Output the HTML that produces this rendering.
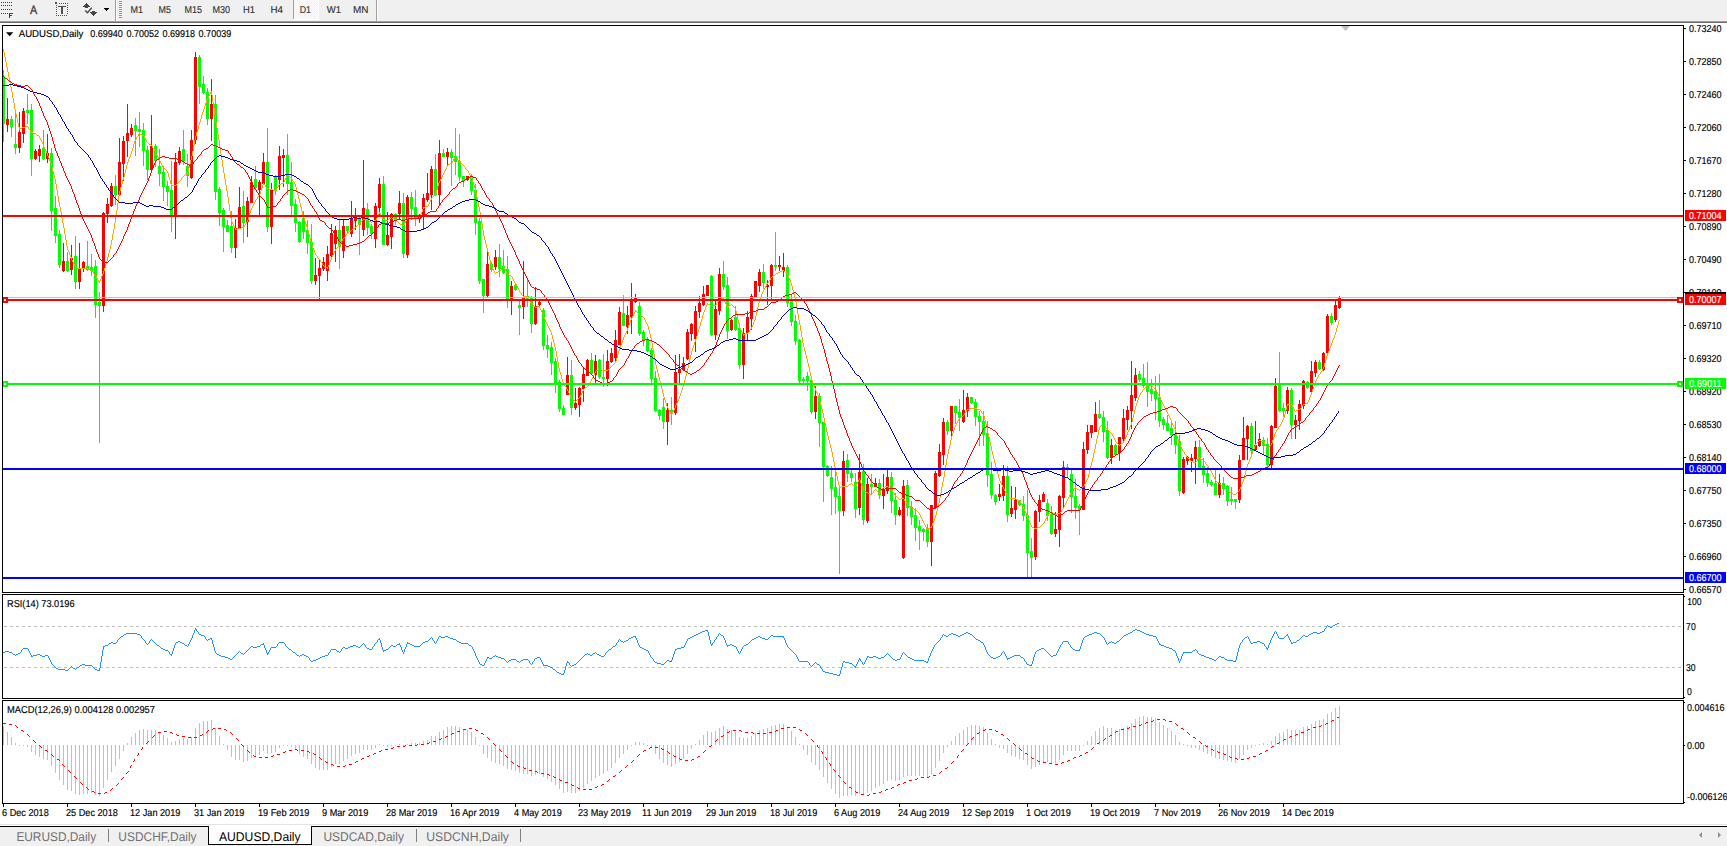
<!DOCTYPE html>
<html><head><meta charset="utf-8"><title>AUDUSD,Daily</title>
<style>html,body{margin:0;padding:0;background:#fff;overflow:hidden}svg{display:block}</style>
</head><body>
<svg width="1727" height="846" viewBox="0 0 1727 846" font-family="'Liberation Sans', Arial, sans-serif" shape-rendering="crispEdges" text-rendering="geometricPrecision">
<rect x="0" y="0" width="1727" height="846" fill="#ffffff"/>
<rect x="0" y="0" width="1727" height="21" fill="#f0f0f0"/>
<rect x="0" y="21" width="1727" height="1" fill="#a0a0a0"/>
<rect x="0" y="22" width="1727" height="1" fill="#696969"/>
<rect x="1" y="2" width="1" height="1" fill="#404040"/>
<rect x="3" y="2" width="1" height="1" fill="#404040"/>
<rect x="5" y="2" width="1" height="1" fill="#404040"/>
<rect x="7" y="2" width="1" height="1" fill="#404040"/>
<rect x="9" y="2" width="1" height="1" fill="#404040"/>
<rect x="11" y="2" width="1" height="1" fill="#404040"/>
<rect x="1" y="5" width="1" height="1" fill="#404040"/>
<rect x="3" y="5" width="1" height="1" fill="#404040"/>
<rect x="5" y="5" width="1" height="1" fill="#404040"/>
<rect x="7" y="5" width="1" height="1" fill="#404040"/>
<rect x="9" y="5" width="1" height="1" fill="#404040"/>
<rect x="11" y="5" width="1" height="1" fill="#404040"/>
<rect x="1" y="9" width="1" height="1" fill="#404040"/>
<rect x="3" y="9" width="1" height="1" fill="#404040"/>
<rect x="5" y="9" width="1" height="1" fill="#404040"/>
<rect x="7" y="9" width="1" height="1" fill="#404040"/>
<rect x="9" y="9" width="1" height="1" fill="#404040"/>
<rect x="11" y="9" width="1" height="1" fill="#404040"/>
<rect x="1" y="13" width="1" height="1" fill="#404040"/>
<rect x="3" y="13" width="1" height="1" fill="#404040"/>
<rect x="5" y="13" width="1" height="1" fill="#404040"/>
<rect x="7" y="13" width="1" height="1" fill="#404040"/>
<rect x="9" y="13" width="4" height="1" fill="#404040"/>
<rect x="9" y="13" width="1" height="5" fill="#404040"/>
<rect x="9" y="15" width="3" height="1" fill="#404040"/>
<text x="29.9" y="14" font-size="12" fill="#404040" textLength="7.2" lengthAdjust="spacingAndGlyphs" stroke="#404040" stroke-width="0.35">A</text>
<rect x="55" y="2" width="2" height="2" fill="#505050"/>
<rect x="59" y="3" width="1" height="1" fill="#505050"/>
<rect x="61" y="3" width="1" height="1" fill="#505050"/>
<rect x="63" y="3" width="1" height="1" fill="#505050"/>
<rect x="65" y="3" width="1" height="1" fill="#505050"/>
<rect x="67" y="3" width="1" height="1" fill="#505050"/>
<rect x="56" y="5" width="1" height="1" fill="#505050"/>
<rect x="67" y="5" width="1" height="1" fill="#505050"/>
<rect x="56" y="7" width="1" height="1" fill="#505050"/>
<rect x="67" y="7" width="1" height="1" fill="#505050"/>
<rect x="56" y="9" width="1" height="1" fill="#505050"/>
<rect x="67" y="9" width="1" height="1" fill="#505050"/>
<rect x="56" y="11" width="1" height="1" fill="#505050"/>
<rect x="67" y="11" width="1" height="1" fill="#505050"/>
<rect x="56" y="13" width="1" height="1" fill="#505050"/>
<rect x="67" y="13" width="1" height="1" fill="#505050"/>
<rect x="56" y="15" width="1" height="1" fill="#505050"/>
<rect x="58" y="15" width="1" height="1" fill="#505050"/>
<rect x="60" y="15" width="1" height="1" fill="#505050"/>
<rect x="62" y="15" width="1" height="1" fill="#505050"/>
<rect x="64" y="15" width="1" height="1" fill="#505050"/>
<rect x="66" y="15" width="1" height="1" fill="#505050"/>
<rect x="58" y="6" width="8" height="1" fill="#505050"/>
<rect x="61" y="6" width="2" height="8" fill="#505050"/>
<rect x="86" y="3" width="1" height="1" fill="#454545"/>
<rect x="85" y="4" width="3" height="1" fill="#454545"/>
<rect x="84" y="5" width="5" height="1" fill="#454545"/>
<rect x="83" y="6" width="7" height="1" fill="#454545"/>
<rect x="85" y="7" width="3" height="1" fill="#454545"/>
<rect x="92" y="11" width="3" height="1" fill="#454545"/>
<rect x="90" y="12" width="7" height="1" fill="#454545"/>
<rect x="91" y="13" width="5" height="1" fill="#454545"/>
<rect x="92" y="14" width="3" height="1" fill="#454545"/>
<rect x="93" y="15" width="1" height="1" fill="#454545"/>
<polyline points="85.2,10.6 87.5,12.8 91.8,7.6" fill="none" stroke="#454545" stroke-width="1.4" shape-rendering="auto"/>
<rect x="104" y="8" width="5" height="1" fill="#000"/>
<rect x="105" y="9" width="3" height="1" fill="#000"/>
<rect x="106" y="10" width="1" height="1" fill="#000"/>
<rect x="115" y="0" width="1" height="21" fill="#a0a0a0"/>
<rect x="116" y="0" width="1" height="21" fill="#ffffff"/>
<rect x="119" y="0" width="3" height="1" fill="#fafafa"/>
<rect x="119" y="1" width="3" height="1" fill="#8c8c8c"/>
<rect x="119" y="2" width="3" height="1" fill="#fafafa"/>
<rect x="119" y="3" width="3" height="1" fill="#8c8c8c"/>
<rect x="119" y="4" width="3" height="1" fill="#fafafa"/>
<rect x="119" y="5" width="3" height="1" fill="#8c8c8c"/>
<rect x="119" y="6" width="3" height="1" fill="#fafafa"/>
<rect x="119" y="7" width="3" height="1" fill="#8c8c8c"/>
<rect x="119" y="8" width="3" height="1" fill="#fafafa"/>
<rect x="119" y="9" width="3" height="1" fill="#8c8c8c"/>
<rect x="119" y="10" width="3" height="1" fill="#fafafa"/>
<rect x="119" y="11" width="3" height="1" fill="#8c8c8c"/>
<rect x="119" y="12" width="3" height="1" fill="#fafafa"/>
<rect x="119" y="13" width="3" height="1" fill="#8c8c8c"/>
<rect x="119" y="14" width="3" height="1" fill="#fafafa"/>
<rect x="119" y="15" width="3" height="1" fill="#8c8c8c"/>
<rect x="119" y="16" width="3" height="1" fill="#fafafa"/>
<rect x="119" y="17" width="3" height="1" fill="#8c8c8c"/>
<rect x="376" y="0" width="1" height="21" fill="#a0a0a0"/>
<rect x="377" y="0" width="1" height="21" fill="#ffffff"/>
<defs><pattern id="dith" width="2" height="2" patternUnits="userSpaceOnUse"><rect width="2" height="2" fill="#f0f0f0"/><rect width="1" height="1" fill="#fff"/><rect x="1" y="1" width="1" height="1" fill="#fff"/></pattern></defs>
<rect x="293" y="0" width="1" height="19" fill="#a0a0a0"/>
<rect x="294" y="0" width="24" height="19" fill="url(#dith)"/>
<rect x="318" y="0" width="1" height="20" fill="#ffffff"/>
<rect x="293" y="19" width="26" height="1" fill="#ffffff"/>
<text x="130.5" y="13" font-size="10" fill="#333333" textLength="12.5" lengthAdjust="spacingAndGlyphs" stroke="#333333" stroke-width="0.15">M1</text>
<text x="158.6" y="13" font-size="10" fill="#333333" textLength="12.4" lengthAdjust="spacingAndGlyphs" stroke="#333333" stroke-width="0.15">M5</text>
<text x="184.5" y="13" font-size="10" fill="#333333" textLength="17.5" lengthAdjust="spacingAndGlyphs" stroke="#333333" stroke-width="0.15">M15</text>
<text x="212.4" y="13" font-size="10" fill="#333333" textLength="17.6" lengthAdjust="spacingAndGlyphs" stroke="#333333" stroke-width="0.15">M30</text>
<text x="243" y="13" font-size="10" fill="#333333" textLength="12" lengthAdjust="spacingAndGlyphs" stroke="#333333" stroke-width="0.15">H1</text>
<text x="270.5" y="13" font-size="10" fill="#333333" textLength="12.5" lengthAdjust="spacingAndGlyphs" stroke="#333333" stroke-width="0.15">H4</text>
<text x="299.8" y="13" font-size="10" fill="#333333" textLength="11.2" lengthAdjust="spacingAndGlyphs" stroke="#333333" stroke-width="0.15">D1</text>
<text x="326.8" y="13" font-size="10" fill="#333333" textLength="14.2" lengthAdjust="spacingAndGlyphs" stroke="#333333" stroke-width="0.15">W1</text>
<text x="353" y="13" font-size="10" fill="#333333" textLength="15.5" lengthAdjust="spacingAndGlyphs" stroke="#333333" stroke-width="0.15">MN</text>
<defs><clipPath id="cm"><rect x="3" y="26" width="1680" height="566"/></clipPath><clipPath id="cr"><rect x="3" y="595" width="1680" height="103"/></clipPath><clipPath id="cd"><rect x="3" y="701" width="1680" height="102"/></clipPath></defs>
<g clip-path="url(#cm)">
<rect x="3" y="70" width="1" height="72" fill="#00ff00"/>
<rect x="2" y="76" width="3" height="48" fill="#00ff00"/>
<rect x="7" y="98" width="1" height="34" fill="#ff0000"/>
<rect x="6" y="119" width="3" height="6" fill="#ff0000"/>
<rect x="11" y="116" width="1" height="21" fill="#00ff00"/>
<rect x="10" y="119" width="3" height="8" fill="#00ff00"/>
<rect x="15" y="111" width="1" height="43" fill="#00ff00"/>
<rect x="14" y="144" width="3" height="4" fill="#00ff00"/>
<rect x="19" y="112" width="1" height="41" fill="#ff0000"/>
<rect x="18" y="132" width="3" height="16" fill="#ff0000"/>
<rect x="23" y="108" width="1" height="35" fill="#ff0000"/>
<rect x="22" y="111" width="3" height="23" fill="#ff0000"/>
<rect x="27" y="94" width="1" height="30" fill="#00ff00"/>
<rect x="26" y="110" width="3" height="3" fill="#00ff00"/>
<rect x="31" y="104" width="1" height="72" fill="#00ff00"/>
<rect x="30" y="110" width="3" height="49" fill="#00ff00"/>
<rect x="35" y="149" width="1" height="11" fill="#ff0000"/>
<rect x="34" y="151" width="3" height="8" fill="#ff0000"/>
<rect x="39" y="145" width="1" height="17" fill="#ff0000"/>
<rect x="38" y="149" width="3" height="7" fill="#ff0000"/>
<rect x="43" y="130" width="1" height="30" fill="#00ff00"/>
<rect x="42" y="148" width="3" height="11" fill="#00ff00"/>
<rect x="47" y="134" width="1" height="29" fill="#ff0000"/>
<rect x="46" y="153" width="3" height="6" fill="#ff0000"/>
<rect x="51" y="148" width="1" height="83" fill="#00ff00"/>
<rect x="50" y="153" width="3" height="58" fill="#00ff00"/>
<rect x="55" y="196" width="1" height="47" fill="#00ff00"/>
<rect x="54" y="208" width="3" height="28" fill="#00ff00"/>
<rect x="59" y="230" width="1" height="38" fill="#00ff00"/>
<rect x="58" y="234" width="3" height="31" fill="#00ff00"/>
<rect x="63" y="243" width="1" height="29" fill="#ff0000"/>
<rect x="62" y="261" width="3" height="10" fill="#ff0000"/>
<rect x="67" y="252" width="1" height="20" fill="#00ff00"/>
<rect x="66" y="261" width="3" height="10" fill="#00ff00"/>
<rect x="71" y="245" width="1" height="30" fill="#ff0000"/>
<rect x="70" y="258" width="3" height="12" fill="#ff0000"/>
<rect x="75" y="236" width="1" height="53" fill="#00ff00"/>
<rect x="74" y="256" width="3" height="26" fill="#00ff00"/>
<rect x="79" y="243" width="1" height="46" fill="#ff0000"/>
<rect x="78" y="269" width="3" height="13" fill="#ff0000"/>
<rect x="83" y="261" width="1" height="11" fill="#ff0000"/>
<rect x="82" y="262" width="3" height="7" fill="#ff0000"/>
<rect x="87" y="241" width="1" height="30" fill="#00ff00"/>
<rect x="86" y="266" width="3" height="4" fill="#00ff00"/>
<rect x="91" y="254" width="1" height="22" fill="#00ff00"/>
<rect x="90" y="267" width="3" height="4" fill="#00ff00"/>
<rect x="95" y="260" width="1" height="58" fill="#00ff00"/>
<rect x="94" y="266" width="3" height="39" fill="#00ff00"/>
<rect x="99" y="292" width="1" height="151" fill="#00ff00"/>
<rect x="98" y="302" width="3" height="4" fill="#00ff00"/>
<rect x="103" y="212" width="1" height="100" fill="#ff0000"/>
<rect x="102" y="213" width="3" height="93" fill="#ff0000"/>
<rect x="107" y="198" width="1" height="25" fill="#ff0000"/>
<rect x="106" y="204" width="3" height="10" fill="#ff0000"/>
<rect x="111" y="183" width="1" height="24" fill="#ff0000"/>
<rect x="110" y="186" width="3" height="20" fill="#ff0000"/>
<rect x="115" y="175" width="1" height="30" fill="#00ff00"/>
<rect x="114" y="186" width="3" height="9" fill="#00ff00"/>
<rect x="119" y="138" width="1" height="57" fill="#ff0000"/>
<rect x="118" y="162" width="3" height="33" fill="#ff0000"/>
<rect x="123" y="136" width="1" height="45" fill="#ff0000"/>
<rect x="122" y="141" width="3" height="23" fill="#ff0000"/>
<rect x="127" y="104" width="1" height="53" fill="#ff0000"/>
<rect x="126" y="133" width="3" height="8" fill="#ff0000"/>
<rect x="131" y="124" width="1" height="13" fill="#ff0000"/>
<rect x="130" y="128" width="3" height="7" fill="#ff0000"/>
<rect x="135" y="118" width="1" height="38" fill="#00ff00"/>
<rect x="134" y="125" width="3" height="6" fill="#00ff00"/>
<rect x="139" y="112" width="1" height="35" fill="#00ff00"/>
<rect x="138" y="129" width="3" height="3" fill="#00ff00"/>
<rect x="143" y="123" width="1" height="43" fill="#00ff00"/>
<rect x="142" y="130" width="3" height="21" fill="#00ff00"/>
<rect x="147" y="146" width="1" height="34" fill="#00ff00"/>
<rect x="146" y="150" width="3" height="20" fill="#00ff00"/>
<rect x="151" y="115" width="1" height="55" fill="#ff0000"/>
<rect x="150" y="146" width="3" height="24" fill="#ff0000"/>
<rect x="155" y="144" width="1" height="23" fill="#00ff00"/>
<rect x="154" y="146" width="3" height="15" fill="#00ff00"/>
<rect x="159" y="149" width="1" height="37" fill="#00ff00"/>
<rect x="158" y="166" width="3" height="8" fill="#00ff00"/>
<rect x="163" y="166" width="1" height="35" fill="#00ff00"/>
<rect x="162" y="172" width="3" height="15" fill="#00ff00"/>
<rect x="167" y="181" width="1" height="25" fill="#00ff00"/>
<rect x="166" y="186" width="3" height="6" fill="#00ff00"/>
<rect x="171" y="161" width="1" height="71" fill="#00ff00"/>
<rect x="170" y="190" width="3" height="26" fill="#00ff00"/>
<rect x="175" y="153" width="1" height="86" fill="#ff0000"/>
<rect x="174" y="162" width="3" height="54" fill="#ff0000"/>
<rect x="179" y="147" width="1" height="18" fill="#ff0000"/>
<rect x="178" y="151" width="3" height="12" fill="#ff0000"/>
<rect x="183" y="130" width="1" height="35" fill="#00ff00"/>
<rect x="182" y="149" width="3" height="12" fill="#00ff00"/>
<rect x="187" y="154" width="1" height="33" fill="#00ff00"/>
<rect x="186" y="166" width="3" height="10" fill="#00ff00"/>
<rect x="191" y="130" width="1" height="49" fill="#ff0000"/>
<rect x="190" y="140" width="3" height="38" fill="#ff0000"/>
<rect x="195" y="52" width="1" height="92" fill="#ff0000"/>
<rect x="194" y="57" width="3" height="83" fill="#ff0000"/>
<rect x="199" y="55" width="1" height="49" fill="#00ff00"/>
<rect x="198" y="57" width="3" height="30" fill="#00ff00"/>
<rect x="203" y="76" width="1" height="18" fill="#00ff00"/>
<rect x="202" y="84" width="3" height="9" fill="#00ff00"/>
<rect x="207" y="88" width="1" height="37" fill="#00ff00"/>
<rect x="206" y="92" width="3" height="27" fill="#00ff00"/>
<rect x="211" y="79" width="1" height="62" fill="#ff0000"/>
<rect x="210" y="104" width="3" height="15" fill="#ff0000"/>
<rect x="215" y="95" width="1" height="105" fill="#00ff00"/>
<rect x="214" y="104" width="3" height="88" fill="#00ff00"/>
<rect x="219" y="187" width="1" height="39" fill="#00ff00"/>
<rect x="218" y="189" width="3" height="24" fill="#00ff00"/>
<rect x="223" y="208" width="1" height="44" fill="#00ff00"/>
<rect x="222" y="210" width="3" height="17" fill="#00ff00"/>
<rect x="227" y="220" width="1" height="12" fill="#00ff00"/>
<rect x="226" y="225" width="3" height="7" fill="#00ff00"/>
<rect x="231" y="211" width="1" height="42" fill="#00ff00"/>
<rect x="230" y="226" width="3" height="22" fill="#00ff00"/>
<rect x="235" y="219" width="1" height="39" fill="#ff0000"/>
<rect x="234" y="228" width="3" height="20" fill="#ff0000"/>
<rect x="239" y="187" width="1" height="42" fill="#ff0000"/>
<rect x="238" y="207" width="3" height="21" fill="#ff0000"/>
<rect x="243" y="191" width="1" height="52" fill="#00ff00"/>
<rect x="242" y="206" width="3" height="17" fill="#00ff00"/>
<rect x="247" y="197" width="1" height="40" fill="#ff0000"/>
<rect x="246" y="201" width="3" height="21" fill="#ff0000"/>
<rect x="251" y="176" width="1" height="27" fill="#ff0000"/>
<rect x="250" y="182" width="3" height="21" fill="#ff0000"/>
<rect x="255" y="166" width="1" height="23" fill="#00ff00"/>
<rect x="254" y="179" width="3" height="9" fill="#00ff00"/>
<rect x="259" y="180" width="1" height="37" fill="#ff0000"/>
<rect x="258" y="182" width="3" height="8" fill="#ff0000"/>
<rect x="263" y="153" width="1" height="31" fill="#ff0000"/>
<rect x="262" y="162" width="3" height="22" fill="#ff0000"/>
<rect x="267" y="128" width="1" height="104" fill="#00ff00"/>
<rect x="266" y="162" width="3" height="65" fill="#00ff00"/>
<rect x="271" y="183" width="1" height="61" fill="#ff0000"/>
<rect x="270" y="189" width="3" height="38" fill="#ff0000"/>
<rect x="275" y="175" width="1" height="20" fill="#00ff00"/>
<rect x="274" y="176" width="3" height="15" fill="#00ff00"/>
<rect x="279" y="146" width="1" height="44" fill="#ff0000"/>
<rect x="278" y="156" width="3" height="24" fill="#ff0000"/>
<rect x="283" y="149" width="1" height="38" fill="#ff0000"/>
<rect x="282" y="155" width="3" height="3" fill="#ff0000"/>
<rect x="287" y="134" width="1" height="61" fill="#00ff00"/>
<rect x="286" y="155" width="3" height="29" fill="#00ff00"/>
<rect x="291" y="162" width="1" height="53" fill="#00ff00"/>
<rect x="290" y="182" width="3" height="24" fill="#00ff00"/>
<rect x="295" y="199" width="1" height="33" fill="#00ff00"/>
<rect x="294" y="204" width="3" height="19" fill="#00ff00"/>
<rect x="299" y="221" width="1" height="22" fill="#00ff00"/>
<rect x="298" y="222" width="3" height="20" fill="#00ff00"/>
<rect x="303" y="211" width="1" height="28" fill="#00ff00"/>
<rect x="302" y="218" width="3" height="14" fill="#00ff00"/>
<rect x="307" y="220" width="1" height="34" fill="#00ff00"/>
<rect x="306" y="230" width="3" height="13" fill="#00ff00"/>
<rect x="311" y="224" width="1" height="60" fill="#00ff00"/>
<rect x="310" y="242" width="3" height="39" fill="#00ff00"/>
<rect x="315" y="258" width="1" height="27" fill="#ff0000"/>
<rect x="314" y="275" width="3" height="6" fill="#ff0000"/>
<rect x="319" y="260" width="1" height="41" fill="#ff0000"/>
<rect x="318" y="268" width="3" height="8" fill="#ff0000"/>
<rect x="323" y="257" width="1" height="14" fill="#ff0000"/>
<rect x="322" y="262" width="3" height="7" fill="#ff0000"/>
<rect x="327" y="246" width="1" height="35" fill="#ff0000"/>
<rect x="326" y="254" width="3" height="17" fill="#ff0000"/>
<rect x="331" y="224" width="1" height="34" fill="#ff0000"/>
<rect x="330" y="233" width="3" height="23" fill="#ff0000"/>
<rect x="335" y="226" width="1" height="36" fill="#ff0000"/>
<rect x="334" y="230" width="3" height="14" fill="#ff0000"/>
<rect x="339" y="219" width="1" height="50" fill="#00ff00"/>
<rect x="338" y="230" width="3" height="17" fill="#00ff00"/>
<rect x="343" y="220" width="1" height="38" fill="#ff0000"/>
<rect x="342" y="226" width="3" height="25" fill="#ff0000"/>
<rect x="347" y="226" width="1" height="8" fill="#00ff00"/>
<rect x="346" y="226" width="3" height="5" fill="#00ff00"/>
<rect x="351" y="201" width="1" height="36" fill="#ff0000"/>
<rect x="350" y="219" width="3" height="15" fill="#ff0000"/>
<rect x="355" y="208" width="1" height="22" fill="#ff0000"/>
<rect x="354" y="216" width="3" height="5" fill="#ff0000"/>
<rect x="359" y="215" width="1" height="40" fill="#00ff00"/>
<rect x="358" y="218" width="3" height="7" fill="#00ff00"/>
<rect x="363" y="160" width="1" height="76" fill="#ff0000"/>
<rect x="362" y="208" width="3" height="22" fill="#ff0000"/>
<rect x="367" y="203" width="1" height="32" fill="#00ff00"/>
<rect x="366" y="209" width="3" height="19" fill="#00ff00"/>
<rect x="371" y="224" width="1" height="15" fill="#00ff00"/>
<rect x="370" y="226" width="3" height="8" fill="#00ff00"/>
<rect x="375" y="203" width="1" height="45" fill="#ff0000"/>
<rect x="374" y="206" width="3" height="33" fill="#ff0000"/>
<rect x="379" y="178" width="1" height="38" fill="#ff0000"/>
<rect x="378" y="184" width="3" height="24" fill="#ff0000"/>
<rect x="383" y="176" width="1" height="69" fill="#00ff00"/>
<rect x="382" y="184" width="3" height="61" fill="#00ff00"/>
<rect x="387" y="212" width="1" height="34" fill="#ff0000"/>
<rect x="386" y="235" width="3" height="10" fill="#ff0000"/>
<rect x="391" y="213" width="1" height="36" fill="#ff0000"/>
<rect x="390" y="214" width="3" height="23" fill="#ff0000"/>
<rect x="395" y="213" width="1" height="12" fill="#00ff00"/>
<rect x="394" y="214" width="3" height="6" fill="#00ff00"/>
<rect x="399" y="191" width="1" height="29" fill="#ff0000"/>
<rect x="398" y="203" width="3" height="11" fill="#ff0000"/>
<rect x="403" y="193" width="1" height="65" fill="#00ff00"/>
<rect x="402" y="203" width="3" height="51" fill="#00ff00"/>
<rect x="407" y="195" width="1" height="63" fill="#ff0000"/>
<rect x="406" y="197" width="3" height="58" fill="#ff0000"/>
<rect x="411" y="192" width="1" height="28" fill="#00ff00"/>
<rect x="410" y="197" width="3" height="12" fill="#00ff00"/>
<rect x="415" y="190" width="1" height="36" fill="#00ff00"/>
<rect x="414" y="207" width="3" height="12" fill="#00ff00"/>
<rect x="419" y="214" width="1" height="9" fill="#ff0000"/>
<rect x="418" y="215" width="3" height="4" fill="#ff0000"/>
<rect x="423" y="194" width="1" height="36" fill="#ff0000"/>
<rect x="422" y="198" width="3" height="18" fill="#ff0000"/>
<rect x="427" y="173" width="1" height="29" fill="#ff0000"/>
<rect x="426" y="193" width="3" height="7" fill="#ff0000"/>
<rect x="431" y="166" width="1" height="44" fill="#ff0000"/>
<rect x="430" y="169" width="3" height="26" fill="#ff0000"/>
<rect x="435" y="154" width="1" height="42" fill="#00ff00"/>
<rect x="434" y="169" width="3" height="26" fill="#00ff00"/>
<rect x="439" y="140" width="1" height="65" fill="#ff0000"/>
<rect x="438" y="153" width="3" height="42" fill="#ff0000"/>
<rect x="443" y="149" width="1" height="8" fill="#00ff00"/>
<rect x="442" y="153" width="3" height="4" fill="#00ff00"/>
<rect x="447" y="148" width="1" height="17" fill="#ff0000"/>
<rect x="446" y="152" width="3" height="5" fill="#ff0000"/>
<rect x="451" y="149" width="1" height="37" fill="#00ff00"/>
<rect x="450" y="152" width="3" height="6" fill="#00ff00"/>
<rect x="455" y="128" width="1" height="47" fill="#00ff00"/>
<rect x="454" y="156" width="3" height="6" fill="#00ff00"/>
<rect x="459" y="134" width="1" height="47" fill="#00ff00"/>
<rect x="458" y="161" width="3" height="16" fill="#00ff00"/>
<rect x="463" y="176" width="1" height="11" fill="#00ff00"/>
<rect x="462" y="176" width="3" height="5" fill="#00ff00"/>
<rect x="467" y="176" width="1" height="5" fill="#ff0000"/>
<rect x="466" y="176" width="3" height="4" fill="#ff0000"/>
<rect x="471" y="174" width="1" height="21" fill="#00ff00"/>
<rect x="470" y="177" width="3" height="14" fill="#00ff00"/>
<rect x="475" y="184" width="1" height="51" fill="#00ff00"/>
<rect x="474" y="190" width="3" height="33" fill="#00ff00"/>
<rect x="479" y="218" width="1" height="66" fill="#00ff00"/>
<rect x="478" y="221" width="3" height="60" fill="#00ff00"/>
<rect x="483" y="279" width="1" height="34" fill="#00ff00"/>
<rect x="482" y="279" width="3" height="17" fill="#00ff00"/>
<rect x="487" y="252" width="1" height="46" fill="#ff0000"/>
<rect x="486" y="264" width="3" height="32" fill="#ff0000"/>
<rect x="491" y="262" width="1" height="10" fill="#00ff00"/>
<rect x="490" y="264" width="3" height="6" fill="#00ff00"/>
<rect x="495" y="250" width="1" height="20" fill="#ff0000"/>
<rect x="494" y="257" width="3" height="10" fill="#ff0000"/>
<rect x="499" y="244" width="1" height="33" fill="#00ff00"/>
<rect x="498" y="257" width="3" height="12" fill="#00ff00"/>
<rect x="503" y="250" width="1" height="24" fill="#00ff00"/>
<rect x="502" y="266" width="3" height="7" fill="#00ff00"/>
<rect x="507" y="256" width="1" height="52" fill="#00ff00"/>
<rect x="506" y="269" width="3" height="31" fill="#00ff00"/>
<rect x="511" y="281" width="1" height="34" fill="#ff0000"/>
<rect x="510" y="286" width="3" height="15" fill="#ff0000"/>
<rect x="515" y="284" width="1" height="7" fill="#00ff00"/>
<rect x="514" y="285" width="3" height="5" fill="#00ff00"/>
<rect x="519" y="301" width="1" height="34" fill="#00ff00"/>
<rect x="518" y="305" width="3" height="3" fill="#00ff00"/>
<rect x="523" y="261" width="1" height="58" fill="#ff0000"/>
<rect x="522" y="297" width="3" height="10" fill="#ff0000"/>
<rect x="527" y="280" width="1" height="27" fill="#00ff00"/>
<rect x="526" y="296" width="3" height="4" fill="#00ff00"/>
<rect x="531" y="296" width="1" height="37" fill="#00ff00"/>
<rect x="530" y="298" width="3" height="26" fill="#00ff00"/>
<rect x="535" y="287" width="1" height="38" fill="#ff0000"/>
<rect x="534" y="306" width="3" height="18" fill="#ff0000"/>
<rect x="539" y="301" width="1" height="6" fill="#ff0000"/>
<rect x="538" y="302" width="3" height="3" fill="#ff0000"/>
<rect x="543" y="308" width="1" height="42" fill="#00ff00"/>
<rect x="542" y="310" width="3" height="36" fill="#00ff00"/>
<rect x="547" y="335" width="1" height="23" fill="#00ff00"/>
<rect x="546" y="345" width="3" height="4" fill="#00ff00"/>
<rect x="551" y="342" width="1" height="33" fill="#00ff00"/>
<rect x="550" y="347" width="3" height="16" fill="#00ff00"/>
<rect x="555" y="358" width="1" height="35" fill="#00ff00"/>
<rect x="554" y="361" width="3" height="24" fill="#00ff00"/>
<rect x="559" y="380" width="1" height="32" fill="#00ff00"/>
<rect x="558" y="382" width="3" height="27" fill="#00ff00"/>
<rect x="563" y="405" width="1" height="10" fill="#00ff00"/>
<rect x="562" y="408" width="3" height="7" fill="#00ff00"/>
<rect x="567" y="357" width="1" height="38" fill="#ff0000"/>
<rect x="566" y="375" width="3" height="20" fill="#ff0000"/>
<rect x="571" y="360" width="1" height="55" fill="#00ff00"/>
<rect x="570" y="375" width="3" height="33" fill="#00ff00"/>
<rect x="575" y="388" width="1" height="22" fill="#ff0000"/>
<rect x="574" y="403" width="3" height="5" fill="#ff0000"/>
<rect x="579" y="387" width="1" height="30" fill="#ff0000"/>
<rect x="578" y="388" width="3" height="17" fill="#ff0000"/>
<rect x="583" y="367" width="1" height="35" fill="#ff0000"/>
<rect x="582" y="374" width="3" height="15" fill="#ff0000"/>
<rect x="587" y="359" width="1" height="17" fill="#ff0000"/>
<rect x="586" y="360" width="3" height="16" fill="#ff0000"/>
<rect x="591" y="353" width="1" height="22" fill="#00ff00"/>
<rect x="590" y="360" width="3" height="14" fill="#00ff00"/>
<rect x="595" y="355" width="1" height="30" fill="#ff0000"/>
<rect x="594" y="361" width="3" height="14" fill="#ff0000"/>
<rect x="599" y="359" width="1" height="20" fill="#00ff00"/>
<rect x="598" y="360" width="3" height="17" fill="#00ff00"/>
<rect x="603" y="354" width="1" height="33" fill="#00ff00"/>
<rect x="602" y="377" width="3" height="2" fill="#00ff00"/>
<rect x="607" y="350" width="1" height="36" fill="#ff0000"/>
<rect x="606" y="361" width="3" height="18" fill="#ff0000"/>
<rect x="611" y="348" width="1" height="15" fill="#ff0000"/>
<rect x="610" y="353" width="3" height="9" fill="#ff0000"/>
<rect x="615" y="330" width="1" height="31" fill="#ff0000"/>
<rect x="614" y="340" width="3" height="18" fill="#ff0000"/>
<rect x="619" y="307" width="1" height="38" fill="#ff0000"/>
<rect x="618" y="312" width="3" height="33" fill="#ff0000"/>
<rect x="623" y="295" width="1" height="31" fill="#00ff00"/>
<rect x="622" y="313" width="3" height="13" fill="#00ff00"/>
<rect x="627" y="306" width="1" height="28" fill="#ff0000"/>
<rect x="626" y="315" width="3" height="12" fill="#ff0000"/>
<rect x="631" y="283" width="1" height="51" fill="#ff0000"/>
<rect x="630" y="299" width="3" height="18" fill="#ff0000"/>
<rect x="635" y="294" width="1" height="9" fill="#ff0000"/>
<rect x="634" y="298" width="3" height="4" fill="#ff0000"/>
<rect x="639" y="302" width="1" height="34" fill="#00ff00"/>
<rect x="638" y="306" width="3" height="28" fill="#00ff00"/>
<rect x="643" y="330" width="1" height="16" fill="#00ff00"/>
<rect x="642" y="332" width="3" height="9" fill="#00ff00"/>
<rect x="647" y="337" width="1" height="15" fill="#00ff00"/>
<rect x="646" y="340" width="3" height="11" fill="#00ff00"/>
<rect x="651" y="348" width="1" height="36" fill="#00ff00"/>
<rect x="650" y="350" width="3" height="29" fill="#00ff00"/>
<rect x="655" y="371" width="1" height="41" fill="#00ff00"/>
<rect x="654" y="378" width="3" height="33" fill="#00ff00"/>
<rect x="659" y="409" width="1" height="11" fill="#00ff00"/>
<rect x="658" y="410" width="3" height="6" fill="#00ff00"/>
<rect x="663" y="398" width="1" height="31" fill="#00ff00"/>
<rect x="662" y="407" width="3" height="15" fill="#00ff00"/>
<rect x="667" y="403" width="1" height="42" fill="#ff0000"/>
<rect x="666" y="410" width="3" height="12" fill="#ff0000"/>
<rect x="671" y="397" width="1" height="28" fill="#00ff00"/>
<rect x="670" y="410" width="3" height="3" fill="#00ff00"/>
<rect x="675" y="355" width="1" height="60" fill="#ff0000"/>
<rect x="674" y="372" width="3" height="41" fill="#ff0000"/>
<rect x="679" y="354" width="1" height="30" fill="#ff0000"/>
<rect x="678" y="369" width="3" height="4" fill="#ff0000"/>
<rect x="683" y="357" width="1" height="14" fill="#ff0000"/>
<rect x="682" y="363" width="3" height="7" fill="#ff0000"/>
<rect x="687" y="329" width="1" height="31" fill="#ff0000"/>
<rect x="686" y="332" width="3" height="27" fill="#ff0000"/>
<rect x="691" y="323" width="1" height="18" fill="#ff0000"/>
<rect x="690" y="324" width="3" height="10" fill="#ff0000"/>
<rect x="695" y="306" width="1" height="46" fill="#ff0000"/>
<rect x="694" y="311" width="3" height="28" fill="#ff0000"/>
<rect x="699" y="296" width="1" height="22" fill="#ff0000"/>
<rect x="698" y="303" width="3" height="9" fill="#ff0000"/>
<rect x="703" y="286" width="1" height="20" fill="#ff0000"/>
<rect x="702" y="294" width="3" height="11" fill="#ff0000"/>
<rect x="707" y="285" width="1" height="11" fill="#ff0000"/>
<rect x="706" y="285" width="3" height="11" fill="#ff0000"/>
<rect x="711" y="275" width="1" height="61" fill="#00ff00"/>
<rect x="710" y="276" width="3" height="59" fill="#00ff00"/>
<rect x="715" y="300" width="1" height="40" fill="#ff0000"/>
<rect x="714" y="309" width="3" height="26" fill="#ff0000"/>
<rect x="719" y="268" width="1" height="47" fill="#ff0000"/>
<rect x="718" y="274" width="3" height="37" fill="#ff0000"/>
<rect x="723" y="261" width="1" height="29" fill="#00ff00"/>
<rect x="722" y="274" width="3" height="13" fill="#00ff00"/>
<rect x="727" y="277" width="1" height="62" fill="#00ff00"/>
<rect x="726" y="285" width="3" height="46" fill="#00ff00"/>
<rect x="731" y="319" width="1" height="12" fill="#ff0000"/>
<rect x="730" y="320" width="3" height="10" fill="#ff0000"/>
<rect x="735" y="306" width="1" height="25" fill="#00ff00"/>
<rect x="734" y="317" width="3" height="13" fill="#00ff00"/>
<rect x="739" y="323" width="1" height="46" fill="#00ff00"/>
<rect x="738" y="328" width="3" height="37" fill="#00ff00"/>
<rect x="743" y="328" width="1" height="51" fill="#ff0000"/>
<rect x="742" y="333" width="3" height="32" fill="#ff0000"/>
<rect x="747" y="311" width="1" height="30" fill="#ff0000"/>
<rect x="746" y="317" width="3" height="16" fill="#ff0000"/>
<rect x="751" y="294" width="1" height="36" fill="#ff0000"/>
<rect x="750" y="296" width="3" height="23" fill="#ff0000"/>
<rect x="755" y="281" width="1" height="17" fill="#ff0000"/>
<rect x="754" y="281" width="3" height="17" fill="#ff0000"/>
<rect x="759" y="269" width="1" height="23" fill="#ff0000"/>
<rect x="758" y="272" width="3" height="14" fill="#ff0000"/>
<rect x="763" y="264" width="1" height="25" fill="#00ff00"/>
<rect x="762" y="272" width="3" height="11" fill="#00ff00"/>
<rect x="767" y="280" width="1" height="25" fill="#ff0000"/>
<rect x="766" y="285" width="3" height="2" fill="#ff0000"/>
<rect x="771" y="264" width="1" height="35" fill="#ff0000"/>
<rect x="770" y="265" width="3" height="21" fill="#ff0000"/>
<rect x="775" y="232" width="1" height="39" fill="#00ff00"/>
<rect x="774" y="265" width="3" height="2" fill="#00ff00"/>
<rect x="779" y="256" width="1" height="15" fill="#ff0000"/>
<rect x="778" y="265" width="3" height="2" fill="#ff0000"/>
<rect x="783" y="253" width="1" height="24" fill="#ff0000"/>
<rect x="782" y="267" width="3" height="4" fill="#ff0000"/>
<rect x="787" y="265" width="1" height="42" fill="#00ff00"/>
<rect x="786" y="267" width="3" height="36" fill="#00ff00"/>
<rect x="791" y="294" width="1" height="32" fill="#00ff00"/>
<rect x="790" y="301" width="3" height="21" fill="#00ff00"/>
<rect x="795" y="315" width="1" height="30" fill="#00ff00"/>
<rect x="794" y="321" width="3" height="20" fill="#00ff00"/>
<rect x="799" y="339" width="1" height="45" fill="#00ff00"/>
<rect x="798" y="340" width="3" height="41" fill="#00ff00"/>
<rect x="803" y="377" width="1" height="7" fill="#00ff00"/>
<rect x="802" y="379" width="3" height="2" fill="#00ff00"/>
<rect x="807" y="372" width="1" height="19" fill="#00ff00"/>
<rect x="806" y="376" width="3" height="5" fill="#00ff00"/>
<rect x="811" y="379" width="1" height="35" fill="#00ff00"/>
<rect x="810" y="380" width="3" height="32" fill="#00ff00"/>
<rect x="815" y="386" width="1" height="33" fill="#ff0000"/>
<rect x="814" y="396" width="3" height="16" fill="#ff0000"/>
<rect x="819" y="393" width="1" height="54" fill="#00ff00"/>
<rect x="818" y="396" width="3" height="27" fill="#00ff00"/>
<rect x="823" y="422" width="1" height="80" fill="#00ff00"/>
<rect x="822" y="422" width="3" height="45" fill="#00ff00"/>
<rect x="827" y="465" width="1" height="12" fill="#00ff00"/>
<rect x="826" y="466" width="3" height="10" fill="#00ff00"/>
<rect x="831" y="466" width="1" height="49" fill="#00ff00"/>
<rect x="830" y="477" width="3" height="12" fill="#00ff00"/>
<rect x="835" y="472" width="1" height="42" fill="#00ff00"/>
<rect x="834" y="487" width="3" height="10" fill="#00ff00"/>
<rect x="839" y="486" width="1" height="88" fill="#00ff00"/>
<rect x="838" y="496" width="3" height="15" fill="#00ff00"/>
<rect x="843" y="451" width="1" height="65" fill="#ff0000"/>
<rect x="842" y="461" width="3" height="50" fill="#ff0000"/>
<rect x="847" y="454" width="1" height="28" fill="#00ff00"/>
<rect x="846" y="460" width="3" height="14" fill="#00ff00"/>
<rect x="851" y="470" width="1" height="12" fill="#00ff00"/>
<rect x="850" y="473" width="3" height="5" fill="#00ff00"/>
<rect x="855" y="473" width="1" height="45" fill="#00ff00"/>
<rect x="854" y="482" width="3" height="27" fill="#00ff00"/>
<rect x="859" y="454" width="1" height="61" fill="#ff0000"/>
<rect x="858" y="472" width="3" height="36" fill="#ff0000"/>
<rect x="863" y="464" width="1" height="61" fill="#00ff00"/>
<rect x="862" y="471" width="3" height="49" fill="#00ff00"/>
<rect x="867" y="478" width="1" height="45" fill="#ff0000"/>
<rect x="866" y="484" width="3" height="37" fill="#ff0000"/>
<rect x="871" y="474" width="1" height="21" fill="#00ff00"/>
<rect x="870" y="484" width="3" height="3" fill="#00ff00"/>
<rect x="875" y="478" width="1" height="9" fill="#ff0000"/>
<rect x="874" y="483" width="3" height="4" fill="#ff0000"/>
<rect x="879" y="479" width="1" height="20" fill="#00ff00"/>
<rect x="878" y="483" width="3" height="12" fill="#00ff00"/>
<rect x="883" y="474" width="1" height="35" fill="#ff0000"/>
<rect x="882" y="490" width="3" height="6" fill="#ff0000"/>
<rect x="887" y="470" width="1" height="24" fill="#ff0000"/>
<rect x="886" y="477" width="3" height="14" fill="#ff0000"/>
<rect x="891" y="472" width="1" height="41" fill="#00ff00"/>
<rect x="890" y="477" width="3" height="24" fill="#00ff00"/>
<rect x="895" y="493" width="1" height="32" fill="#00ff00"/>
<rect x="894" y="500" width="3" height="15" fill="#00ff00"/>
<rect x="899" y="507" width="1" height="9" fill="#ff0000"/>
<rect x="898" y="510" width="3" height="5" fill="#ff0000"/>
<rect x="903" y="480" width="1" height="79" fill="#ff0000"/>
<rect x="902" y="486" width="3" height="72" fill="#ff0000"/>
<rect x="907" y="480" width="1" height="36" fill="#00ff00"/>
<rect x="906" y="485" width="3" height="23" fill="#00ff00"/>
<rect x="911" y="501" width="1" height="24" fill="#00ff00"/>
<rect x="910" y="507" width="3" height="10" fill="#00ff00"/>
<rect x="915" y="508" width="1" height="33" fill="#00ff00"/>
<rect x="914" y="515" width="3" height="13" fill="#00ff00"/>
<rect x="919" y="520" width="1" height="30" fill="#00ff00"/>
<rect x="918" y="526" width="3" height="5" fill="#00ff00"/>
<rect x="923" y="528" width="1" height="13" fill="#00ff00"/>
<rect x="922" y="529" width="3" height="3" fill="#00ff00"/>
<rect x="927" y="524" width="1" height="23" fill="#00ff00"/>
<rect x="926" y="529" width="3" height="13" fill="#00ff00"/>
<rect x="931" y="505" width="1" height="61" fill="#ff0000"/>
<rect x="930" y="505" width="3" height="37" fill="#ff0000"/>
<rect x="935" y="471" width="1" height="38" fill="#ff0000"/>
<rect x="934" y="473" width="3" height="35" fill="#ff0000"/>
<rect x="939" y="444" width="1" height="33" fill="#ff0000"/>
<rect x="938" y="452" width="3" height="24" fill="#ff0000"/>
<rect x="943" y="418" width="1" height="47" fill="#ff0000"/>
<rect x="942" y="422" width="3" height="33" fill="#ff0000"/>
<rect x="947" y="420" width="1" height="15" fill="#00ff00"/>
<rect x="946" y="422" width="3" height="9" fill="#00ff00"/>
<rect x="951" y="406" width="1" height="31" fill="#ff0000"/>
<rect x="950" y="406" width="3" height="25" fill="#ff0000"/>
<rect x="955" y="406" width="1" height="18" fill="#00ff00"/>
<rect x="954" y="406" width="3" height="7" fill="#00ff00"/>
<rect x="959" y="399" width="1" height="32" fill="#00ff00"/>
<rect x="958" y="412" width="3" height="6" fill="#00ff00"/>
<rect x="963" y="390" width="1" height="33" fill="#ff0000"/>
<rect x="962" y="410" width="3" height="12" fill="#ff0000"/>
<rect x="967" y="393" width="1" height="24" fill="#ff0000"/>
<rect x="966" y="397" width="3" height="14" fill="#ff0000"/>
<rect x="971" y="397" width="1" height="7" fill="#00ff00"/>
<rect x="970" y="397" width="3" height="6" fill="#00ff00"/>
<rect x="975" y="399" width="1" height="27" fill="#00ff00"/>
<rect x="974" y="402" width="3" height="15" fill="#00ff00"/>
<rect x="979" y="411" width="1" height="35" fill="#00ff00"/>
<rect x="978" y="416" width="3" height="6" fill="#00ff00"/>
<rect x="983" y="411" width="1" height="35" fill="#00ff00"/>
<rect x="982" y="421" width="3" height="14" fill="#00ff00"/>
<rect x="987" y="421" width="1" height="66" fill="#00ff00"/>
<rect x="986" y="433" width="3" height="42" fill="#00ff00"/>
<rect x="991" y="462" width="1" height="37" fill="#00ff00"/>
<rect x="990" y="474" width="3" height="21" fill="#00ff00"/>
<rect x="995" y="494" width="1" height="11" fill="#00ff00"/>
<rect x="994" y="495" width="3" height="7" fill="#00ff00"/>
<rect x="999" y="484" width="1" height="17" fill="#ff0000"/>
<rect x="998" y="494" width="3" height="3" fill="#ff0000"/>
<rect x="1003" y="465" width="1" height="36" fill="#ff0000"/>
<rect x="1002" y="476" width="3" height="20" fill="#ff0000"/>
<rect x="1007" y="466" width="1" height="56" fill="#00ff00"/>
<rect x="1006" y="476" width="3" height="39" fill="#00ff00"/>
<rect x="1011" y="486" width="1" height="31" fill="#ff0000"/>
<rect x="1010" y="508" width="3" height="6" fill="#ff0000"/>
<rect x="1015" y="487" width="1" height="32" fill="#ff0000"/>
<rect x="1014" y="500" width="3" height="10" fill="#ff0000"/>
<rect x="1019" y="500" width="1" height="6" fill="#00ff00"/>
<rect x="1018" y="500" width="3" height="5" fill="#00ff00"/>
<rect x="1023" y="496" width="1" height="25" fill="#00ff00"/>
<rect x="1022" y="504" width="3" height="12" fill="#00ff00"/>
<rect x="1027" y="490" width="1" height="88" fill="#00ff00"/>
<rect x="1026" y="515" width="3" height="38" fill="#00ff00"/>
<rect x="1031" y="538" width="1" height="40" fill="#00ff00"/>
<rect x="1030" y="551" width="3" height="7" fill="#00ff00"/>
<rect x="1035" y="510" width="1" height="50" fill="#ff0000"/>
<rect x="1034" y="511" width="3" height="46" fill="#ff0000"/>
<rect x="1039" y="495" width="1" height="27" fill="#ff0000"/>
<rect x="1038" y="500" width="3" height="12" fill="#ff0000"/>
<rect x="1043" y="492" width="1" height="10" fill="#ff0000"/>
<rect x="1042" y="494" width="3" height="8" fill="#ff0000"/>
<rect x="1047" y="499" width="1" height="22" fill="#00ff00"/>
<rect x="1046" y="503" width="3" height="13" fill="#00ff00"/>
<rect x="1051" y="506" width="1" height="29" fill="#00ff00"/>
<rect x="1050" y="514" width="3" height="20" fill="#00ff00"/>
<rect x="1055" y="512" width="1" height="25" fill="#ff0000"/>
<rect x="1054" y="529" width="3" height="5" fill="#ff0000"/>
<rect x="1059" y="495" width="1" height="52" fill="#ff0000"/>
<rect x="1058" y="496" width="3" height="34" fill="#ff0000"/>
<rect x="1063" y="461" width="1" height="48" fill="#ff0000"/>
<rect x="1062" y="467" width="3" height="31" fill="#ff0000"/>
<rect x="1067" y="464" width="1" height="13" fill="#00ff00"/>
<rect x="1066" y="467" width="3" height="3" fill="#00ff00"/>
<rect x="1071" y="470" width="1" height="43" fill="#00ff00"/>
<rect x="1070" y="474" width="3" height="23" fill="#00ff00"/>
<rect x="1075" y="479" width="1" height="40" fill="#00ff00"/>
<rect x="1074" y="496" width="3" height="12" fill="#00ff00"/>
<rect x="1079" y="504" width="1" height="31" fill="#00ff00"/>
<rect x="1078" y="506" width="3" height="4" fill="#00ff00"/>
<rect x="1083" y="442" width="1" height="68" fill="#ff0000"/>
<rect x="1082" y="449" width="3" height="61" fill="#ff0000"/>
<rect x="1087" y="425" width="1" height="29" fill="#ff0000"/>
<rect x="1086" y="432" width="3" height="18" fill="#ff0000"/>
<rect x="1091" y="425" width="1" height="13" fill="#ff0000"/>
<rect x="1090" y="425" width="3" height="8" fill="#ff0000"/>
<rect x="1095" y="402" width="1" height="30" fill="#ff0000"/>
<rect x="1094" y="414" width="3" height="18" fill="#ff0000"/>
<rect x="1099" y="400" width="1" height="19" fill="#00ff00"/>
<rect x="1098" y="414" width="3" height="4" fill="#00ff00"/>
<rect x="1103" y="411" width="1" height="31" fill="#00ff00"/>
<rect x="1102" y="417" width="3" height="15" fill="#00ff00"/>
<rect x="1107" y="421" width="1" height="38" fill="#00ff00"/>
<rect x="1106" y="430" width="3" height="28" fill="#00ff00"/>
<rect x="1111" y="439" width="1" height="25" fill="#ff0000"/>
<rect x="1110" y="445" width="3" height="13" fill="#ff0000"/>
<rect x="1115" y="444" width="1" height="11" fill="#00ff00"/>
<rect x="1114" y="445" width="3" height="10" fill="#00ff00"/>
<rect x="1119" y="437" width="1" height="24" fill="#ff0000"/>
<rect x="1118" y="437" width="3" height="16" fill="#ff0000"/>
<rect x="1123" y="409" width="1" height="32" fill="#ff0000"/>
<rect x="1122" y="418" width="3" height="21" fill="#ff0000"/>
<rect x="1127" y="406" width="1" height="24" fill="#ff0000"/>
<rect x="1126" y="410" width="3" height="10" fill="#ff0000"/>
<rect x="1131" y="361" width="1" height="68" fill="#ff0000"/>
<rect x="1130" y="395" width="3" height="16" fill="#ff0000"/>
<rect x="1135" y="368" width="1" height="33" fill="#ff0000"/>
<rect x="1134" y="375" width="3" height="23" fill="#ff0000"/>
<rect x="1139" y="371" width="1" height="11" fill="#00ff00"/>
<rect x="1138" y="374" width="3" height="6" fill="#00ff00"/>
<rect x="1143" y="364" width="1" height="24" fill="#00ff00"/>
<rect x="1142" y="378" width="3" height="8" fill="#00ff00"/>
<rect x="1147" y="362" width="1" height="45" fill="#00ff00"/>
<rect x="1146" y="384" width="3" height="8" fill="#00ff00"/>
<rect x="1151" y="379" width="1" height="22" fill="#00ff00"/>
<rect x="1150" y="389" width="3" height="5" fill="#00ff00"/>
<rect x="1155" y="376" width="1" height="44" fill="#00ff00"/>
<rect x="1154" y="391" width="3" height="8" fill="#00ff00"/>
<rect x="1159" y="374" width="1" height="53" fill="#00ff00"/>
<rect x="1158" y="397" width="3" height="24" fill="#00ff00"/>
<rect x="1163" y="417" width="1" height="13" fill="#00ff00"/>
<rect x="1162" y="419" width="3" height="6" fill="#00ff00"/>
<rect x="1167" y="415" width="1" height="16" fill="#00ff00"/>
<rect x="1166" y="423" width="3" height="8" fill="#00ff00"/>
<rect x="1171" y="423" width="1" height="22" fill="#00ff00"/>
<rect x="1170" y="428" width="3" height="7" fill="#00ff00"/>
<rect x="1175" y="421" width="1" height="33" fill="#00ff00"/>
<rect x="1174" y="434" width="3" height="11" fill="#00ff00"/>
<rect x="1179" y="435" width="1" height="61" fill="#00ff00"/>
<rect x="1178" y="441" width="3" height="50" fill="#00ff00"/>
<rect x="1183" y="457" width="1" height="37" fill="#ff0000"/>
<rect x="1182" y="459" width="3" height="34" fill="#ff0000"/>
<rect x="1187" y="456" width="1" height="9" fill="#ff0000"/>
<rect x="1186" y="457" width="3" height="4" fill="#ff0000"/>
<rect x="1191" y="454" width="1" height="18" fill="#ff0000"/>
<rect x="1190" y="458" width="3" height="3" fill="#ff0000"/>
<rect x="1195" y="441" width="1" height="43" fill="#ff0000"/>
<rect x="1194" y="447" width="3" height="12" fill="#ff0000"/>
<rect x="1199" y="440" width="1" height="29" fill="#00ff00"/>
<rect x="1198" y="447" width="3" height="21" fill="#00ff00"/>
<rect x="1203" y="458" width="1" height="25" fill="#00ff00"/>
<rect x="1202" y="466" width="3" height="9" fill="#00ff00"/>
<rect x="1207" y="467" width="1" height="20" fill="#00ff00"/>
<rect x="1206" y="473" width="3" height="10" fill="#00ff00"/>
<rect x="1211" y="480" width="1" height="7" fill="#00ff00"/>
<rect x="1210" y="482" width="3" height="3" fill="#00ff00"/>
<rect x="1215" y="470" width="1" height="25" fill="#00ff00"/>
<rect x="1214" y="483" width="3" height="12" fill="#00ff00"/>
<rect x="1219" y="474" width="1" height="24" fill="#ff0000"/>
<rect x="1218" y="483" width="3" height="12" fill="#ff0000"/>
<rect x="1223" y="477" width="1" height="18" fill="#00ff00"/>
<rect x="1222" y="483" width="3" height="6" fill="#00ff00"/>
<rect x="1227" y="485" width="1" height="21" fill="#00ff00"/>
<rect x="1226" y="486" width="3" height="15" fill="#00ff00"/>
<rect x="1231" y="487" width="1" height="18" fill="#00ff00"/>
<rect x="1230" y="499" width="3" height="2" fill="#00ff00"/>
<rect x="1235" y="499" width="1" height="10" fill="#00ff00"/>
<rect x="1234" y="499" width="3" height="3" fill="#00ff00"/>
<rect x="1239" y="455" width="1" height="48" fill="#ff0000"/>
<rect x="1238" y="460" width="3" height="40" fill="#ff0000"/>
<rect x="1243" y="417" width="1" height="43" fill="#ff0000"/>
<rect x="1242" y="438" width="3" height="22" fill="#ff0000"/>
<rect x="1247" y="425" width="1" height="35" fill="#ff0000"/>
<rect x="1246" y="426" width="3" height="13" fill="#ff0000"/>
<rect x="1251" y="423" width="1" height="31" fill="#00ff00"/>
<rect x="1250" y="426" width="3" height="25" fill="#00ff00"/>
<rect x="1255" y="421" width="1" height="30" fill="#ff0000"/>
<rect x="1254" y="445" width="3" height="5" fill="#ff0000"/>
<rect x="1259" y="433" width="1" height="14" fill="#ff0000"/>
<rect x="1258" y="439" width="3" height="7" fill="#ff0000"/>
<rect x="1263" y="437" width="1" height="17" fill="#00ff00"/>
<rect x="1262" y="440" width="3" height="6" fill="#00ff00"/>
<rect x="1267" y="438" width="1" height="31" fill="#00ff00"/>
<rect x="1266" y="444" width="3" height="21" fill="#00ff00"/>
<rect x="1271" y="425" width="1" height="43" fill="#ff0000"/>
<rect x="1270" y="426" width="3" height="39" fill="#ff0000"/>
<rect x="1275" y="378" width="1" height="50" fill="#ff0000"/>
<rect x="1274" y="386" width="3" height="42" fill="#ff0000"/>
<rect x="1279" y="352" width="1" height="60" fill="#00ff00"/>
<rect x="1278" y="385" width="3" height="26" fill="#00ff00"/>
<rect x="1283" y="403" width="1" height="14" fill="#00ff00"/>
<rect x="1282" y="408" width="3" height="3" fill="#00ff00"/>
<rect x="1287" y="387" width="1" height="27" fill="#ff0000"/>
<rect x="1286" y="390" width="3" height="21" fill="#ff0000"/>
<rect x="1291" y="388" width="1" height="51" fill="#00ff00"/>
<rect x="1290" y="390" width="3" height="35" fill="#00ff00"/>
<rect x="1295" y="415" width="1" height="24" fill="#ff0000"/>
<rect x="1294" y="420" width="3" height="5" fill="#ff0000"/>
<rect x="1299" y="400" width="1" height="30" fill="#ff0000"/>
<rect x="1298" y="404" width="3" height="17" fill="#ff0000"/>
<rect x="1303" y="380" width="1" height="29" fill="#ff0000"/>
<rect x="1302" y="381" width="3" height="25" fill="#ff0000"/>
<rect x="1307" y="381" width="1" height="8" fill="#00ff00"/>
<rect x="1306" y="382" width="3" height="6" fill="#00ff00"/>
<rect x="1311" y="361" width="1" height="31" fill="#ff0000"/>
<rect x="1310" y="371" width="3" height="21" fill="#ff0000"/>
<rect x="1315" y="360" width="1" height="17" fill="#ff0000"/>
<rect x="1314" y="362" width="3" height="11" fill="#ff0000"/>
<rect x="1319" y="360" width="1" height="10" fill="#00ff00"/>
<rect x="1318" y="362" width="3" height="7" fill="#00ff00"/>
<rect x="1323" y="352" width="1" height="19" fill="#ff0000"/>
<rect x="1322" y="353" width="3" height="17" fill="#ff0000"/>
<rect x="1327" y="314" width="1" height="40" fill="#ff0000"/>
<rect x="1326" y="316" width="3" height="37" fill="#ff0000"/>
<rect x="1331" y="313" width="1" height="12" fill="#00ff00"/>
<rect x="1330" y="316" width="3" height="7" fill="#00ff00"/>
<rect x="1335" y="300" width="1" height="22" fill="#ff0000"/>
<rect x="1334" y="305" width="3" height="15" fill="#ff0000"/>
<rect x="1339" y="296" width="1" height="13" fill="#ff0000"/>
<rect x="1338" y="297" width="3" height="11" fill="#ff0000"/>
<path d="M3,49h1v3h-1zm1,3h1v5h-1zm1,5h1v5h-1zm1,5h1v5h-1zm1,5h1v5h-1zm1,5h1v5h-1zm1,5h1v5h-1zm1,5h1v5h-1zm1,5h1v5h-1zm1,5h1v6h-1zm1,6h1v5h-1zm1,5h1v6h-1zm1,6h1v5h-1zm1,5h1v4h-1zm1,4h1v5h-1zm1,5h1v4h-1zm1,4h1v3h-1zm1,1h1v1h-1zm1,0h1v1h-1zm1,-1h1v1h-1zm1,0h1v1h-1zm1,0h1v1h-1zm1,-1h1v1h-1zm1,0h1v1h-1zm1,0h1v1h-1zm1,1h1v2h-1zm1,2h1v1h-1zm1,1h1v2h-1zm1,2h1v1h-1zm1,0h1v1h-1zm1,1h1v1h-1zm1,0h1v1h-1zm1,0h1v1h-1zm1,1h1v1h-1zm1,1h1v1h-1zm1,0h1v1h-1zm1,1h1v2h-1zm1,2h1v2h-1zm1,2h1v2h-1zm1,2h1v2h-1zm1,2h1v3h-1zm1,3h1v2h-1zm1,2h1v2h-1zm1,2h1v2h-1zm1,2h1v3h-1zm1,3h1v2h-1zm1,2h1v3h-1zm1,3h1v2h-1zm1,2h1v4h-1zm1,4h1v4h-1zm1,4h1v4h-1zm1,4h1v4h-1zm1,4h1v5h-1zm1,5h1v6h-1zm1,6h1v6h-1zm1,6h1v6h-1zm1,6h1v5h-1zm1,5h1v5h-1zm1,5h1v6h-1zm1,6h1v5h-1zm1,5h1v5h-1zm1,5h1v6h-1zm1,6h1v6h-1zm1,6h1v6h-1zm1,6h1v4h-1zm1,4h1v2h-1zm1,2h1v3h-1zm1,3h1v2h-1zm1,2h1v3h-1zm1,3h1v2h-1zm1,2h1v2h-1zm1,2h1v2h-1zm1,2h1v2h-1zm1,1h1v1h-1zm1,1h1v1h-1zm1,0h1v1h-1zm1,0h1v1h-1zm1,0h1v1h-1zm1,0h1v1h-1zm1,0h1v1h-1zm1,0h1v1h-1zm1,0h1v1h-1zm1,0h1v1h-1zm1,0h1v1h-1zm1,0h1v1h-1zm1,1h1v1h-1zm1,0h1v1h-1zm1,1h1v1h-1zm1,0h1v1h-1zm1,1h1v1h-1zm1,1h1v2h-1zm1,2h1v1h-1zm1,1h1v1h-1zm1,1h1v2h-1zm1,2h1v2h-1zm1,2h1v2h-1zm1,1h1v2h-1zm1,-2h1v2h-1zm1,-3h1v3h-1zm1,-2h1v2h-1zm1,-3h1v3h-1zm1,-3h1v3h-1zm1,-4h1v4h-1zm1,-3h1v3h-1zm1,-4h1v4h-1zm1,-4h1v4h-1zm1,-4h1v4h-1zm1,-4h1v4h-1zm1,-5h1v5h-1zm1,-6h1v6h-1zm1,-5h1v5h-1zm1,-6h1v6h-1zm1,-6h1v6h-1zm1,-7h1v7h-1zm1,-7h1v7h-1zm1,-7h1v7h-1zm1,-5h1v5h-1zm1,-4h1v4h-1zm1,-3h1v3h-1zm1,-4h1v4h-1zm1,-3h1v3h-1zm1,-4h1v4h-1zm1,-4h1v4h-1zm1,-4h1v4h-1zm1,-3h1v3h-1zm1,-3h1v3h-1zm1,-2h1v2h-1zm1,-3h1v3h-1zm1,-3h1v3h-1zm1,-3h1v3h-1zm1,-4h1v4h-1zm1,-3h1v3h-1zm1,-2h1v2h-1zm1,-2h1v2h-1zm1,-1h1v1h-1zm1,-2h1v2h-1zm1,-1h1v1h-1zm1,1h1v1h-1zm1,0h1v1h-1zm1,1h1v1h-1zm1,0h1v1h-1zm1,1h1v2h-1zm1,2h1v2h-1zm1,2h1v2h-1zm1,2h1v1h-1zm1,1h1v1h-1zm1,1h1v1h-1zm1,0h1v1h-1zm1,1h1v1h-1zm1,1h1v2h-1zm1,2h1v1h-1zm1,1h1v2h-1zm1,2h1v2h-1zm1,2h1v2h-1zm1,2h1v2h-1zm1,2h1v2h-1zm1,2h1v2h-1zm1,2h1v2h-1zm1,2h1v2h-1zm1,2h1v2h-1zm1,2h1v1h-1zm1,1h1v1h-1zm1,1h1v1h-1zm1,1h1v1h-1zm1,1h1v2h-1zm1,2h1v4h-1zm1,4h1v3h-1zm1,3h1v4h-1zm1,4h1v2h-1zm1,1h1v1h-1zm1,0h1v1h-1zm1,0h1v1h-1zm1,0h1v1h-1zm1,-1h1v1h-1zm1,-1h1v1h-1zm1,-1h1v1h-1zm1,-1h1v1h-1zm1,-1h1v1h-1zm1,-2h1v2h-1zm1,-1h1v1h-1zm1,-1h1v1h-1zm1,-1h1v1h-1zm1,-1h1v1h-1zm1,0h1v1h-1zm1,-2h1v2h-1zm1,-4h1v4h-1zm1,-4h1v4h-1zm1,-4h1v4h-1zm1,-4h1v4h-1zm1,-5h1v5h-1zm1,-6h1v6h-1zm1,-5h1v5h-1zm1,-4h1v4h-1zm1,-4h1v4h-1zm1,-3h1v3h-1zm1,-4h1v4h-1zm1,-3h1v3h-1zm1,-3h1v3h-1zm1,-4h1v4h-1zm1,-3h1v3h-1zm1,-3h1v3h-1zm1,-3h1v3h-1zm1,-3h1v3h-1zm1,-3h1v3h-1zm1,-2h1v2h-1zm1,-2h1v2h-1zm1,-2h1v2h-1zm1,-2h1v2h-1zm1,-1h1v4h-1zm1,4h1v7h-1zm1,7h1v6h-1zm1,6h1v7h-1zm1,7h1v7h-1zm1,7h1v6h-1zm1,6h1v6h-1zm1,6h1v6h-1zm1,6h1v7h-1zm1,7h1v7h-1zm1,7h1v6h-1zm1,6h1v7h-1zm1,7h1v6h-1zm1,6h1v6h-1zm1,6h1v6h-1zm1,6h1v6h-1zm1,6h1v6h-1zm1,6h1v7h-1zm1,7h1v7h-1zm1,7h1v7h-1zm1,7h1v4h-1zm1,4h1v2h-1zm1,2h1v2h-1zm1,2h1v2h-1zm1,2h1v2h-1zm1,1h1v1h-1zm1,-1h1v1h-1zm1,0h1v1h-1zm1,0h1v1h-1zm1,0h1v1h-1zm1,-1h1v1h-1zm1,0h1v1h-1zm1,0h1v1h-1zm1,-2h1v2h-1zm1,-1h1v1h-1zm1,-2h1v2h-1zm1,-2h1v2h-1zm1,-3h1v3h-1zm1,-4h1v4h-1zm1,-3h1v3h-1zm1,-2h1v2h-1zm1,-2h1v2h-1zm1,-2h1v2h-1zm1,-2h1v2h-1zm1,-2h1v2h-1zm1,-1h1v1h-1zm1,-2h1v2h-1zm1,-1h1v1h-1zm1,-2h1v2h-1zm1,-3h1v3h-1zm1,-3h1v3h-1zm1,-3h1v3h-1zm1,-2h1v2h-1zm1,1h1v1h-1zm1,1h1v2h-1zm1,2h1v1h-1zm1,1h1v1h-1zm1,0h1v1h-1zm1,1h1v1h-1zm1,0h1v1h-1zm1,0h1v1h-1zm1,0h1v1h-1zm1,1h1v1h-1zm1,0h1v1h-1zm1,0h1v1h-1zm1,-2h1v2h-1zm1,-1h1v1h-1zm1,-2h1v2h-1zm1,-1h1v1h-1zm1,0h1v1h-1zm1,-1h1v1h-1zm1,0h1v1h-1zm1,-1h1v2h-1zm1,-2h1v2h-1zm1,-2h1v2h-1zm1,-2h1v2h-1zm1,-2h1v2h-1zm1,1h1v1h-1zm1,1h1v1h-1zm1,1h1v1h-1zm1,1h1v1h-1zm1,1h1v2h-1zm1,2h1v1h-1zm1,1h1v2h-1zm1,2h1v3h-1zm1,3h1v4h-1zm1,4h1v4h-1zm1,4h1v4h-1zm1,4h1v4h-1zm1,4h1v4h-1zm1,4h1v4h-1zm1,4h1v4h-1zm1,4h1v3h-1zm1,3h1v3h-1zm1,3h1v3h-1zm1,3h1v3h-1zm1,3h1v3h-1zm1,3h1v4h-1zm1,4h1v4h-1zm1,4h1v4h-1zm1,4h1v3h-1zm1,3h1v3h-1zm1,3h1v2h-1zm1,2h1v3h-1zm1,3h1v2h-1zm1,2h1v1h-1zm1,1h1v2h-1zm1,2h1v1h-1zm1,1h1v1h-1zm1,1h1v2h-1zm1,2h1v1h-1zm1,1h1v2h-1zm1,2h1v1h-1zm1,1h1v1h-1zm1,1h1v1h-1zm1,0h1v1h-1zm1,0h1v2h-1zm1,-2h1v2h-1zm1,-3h1v3h-1zm1,-2h1v2h-1zm1,-3h1v3h-1zm1,-2h1v2h-1zm1,-2h1v2h-1zm1,-2h1v2h-1zm1,-2h1v2h-1zm1,-1h1v1h-1zm1,-1h1v1h-1zm1,-1h1v1h-1zm1,-1h1v1h-1zm1,-2h1v2h-1zm1,-2h1v2h-1zm1,-2h1v2h-1zm1,-1h1v1h-1zm1,-1h1v1h-1zm1,-2h1v2h-1zm1,-1h1v1h-1zm1,-1h1v1h-1zm1,-1h1v1h-1zm1,-1h1v1h-1zm1,0h1v1h-1zm1,-1h1v1h-1zm1,-1h1v1h-1zm1,-1h1v1h-1zm1,0h1v1h-1zm1,-1h1v1h-1zm1,-1h1v1h-1zm1,-1h1v1h-1zm1,-1h1v1h-1zm1,-1h1v1h-1zm1,-1h1v1h-1zm1,-1h1v1h-1zm1,-1h1v1h-1zm1,-1h1v1h-1zm1,0h1v1h-1zm1,0h1v1h-1zm1,0h1v1h-1zm1,0h1v1h-1zm1,1h1v1h-1zm1,1h1v1h-1zm1,0h1v1h-1zm1,1h1v1h-1zm1,-1h1v1h-1zm1,0h1v1h-1zm1,-1h1v1h-1zm1,0h1v1h-1zm1,-2h1v2h-1zm1,-2h1v2h-1zm1,-2h1v2h-1zm1,-2h1v2h-1zm1,1h1v2h-1zm1,2h1v2h-1zm1,2h1v2h-1zm1,2h1v1h-1zm1,0h1v1h-1zm1,1h1v1h-1zm1,0h1v1h-1zm1,0h1v1h-1zm1,-1h1v1h-1zm1,-1h1v1h-1zm1,0h1v1h-1zm1,-1h1v1h-1zm1,1h1v1h-1zm1,0h1v1h-1zm1,1h1v1h-1zm1,0h1v1h-1zm1,1h1v1h-1zm1,1h1v1h-1zm1,1h1v1h-1zm1,1h1v1h-1zm1,1h1v1h-1zm1,0h1v1h-1zm1,1h1v1h-1zm1,0h1v1h-1zm1,-2h1v2h-1zm1,-2h1v2h-1zm1,-2h1v2h-1zm1,-2h1v2h-1zm1,0h1v1h-1zm1,-1h1v1h-1zm1,0h1v1h-1zm1,0h1v1h-1zm1,0h1v1h-1zm1,0h1v1h-1zm1,0h1v1h-1zm1,0h1v1h-1zm1,1h1v1h-1zm1,0h1v1h-1zm1,1h1v1h-1zm1,-1h1v2h-1zm1,-3h1v3h-1zm1,-2h1v2h-1zm1,-3h1v3h-1zm1,-2h1v2h-1zm1,0h1v1h-1zm1,-1h1v1h-1zm1,0h1v1h-1zm1,0h1v1h-1zm1,-2h1v2h-1zm1,-2h1v2h-1zm1,-2h1v2h-1zm1,-2h1v2h-1zm1,-1h1v1h-1zm1,-1h1v1h-1zm1,-1h1v1h-1zm1,-2h1v2h-1zm1,-3h1v3h-1zm1,-4h1v4h-1zm1,-3h1v3h-1zm1,-2h1v2h-1zm1,-2h1v2h-1zm1,-2h1v2h-1zm1,-2h1v2h-1zm1,-2h1v2h-1zm1,-2h1v2h-1zm1,-2h1v2h-1zm1,-2h1v2h-1zm1,-2h1v2h-1zm1,-1h1v1h-1zm1,0h1v1h-1zm1,-1h1v1h-1zm1,0h1v1h-1zm1,-2h1v2h-1zm1,-2h1v2h-1zm1,-2h1v2h-1zm1,-1h1v1h-1zm1,1h1v1h-1zm1,1h1v2h-1zm1,2h1v1h-1zm1,1h1v1h-1zm1,1h1v1h-1zm1,1h1v1h-1zm1,1h1v1h-1zm1,1h1v1h-1zm1,1h1v1h-1zm1,1h1v2h-1zm1,2h1v1h-1zm1,1h1v1h-1zm1,1h1v2h-1zm1,2h1v2h-1zm1,2h1v2h-1zm1,2h1v2h-1zm1,2h1v3h-1zm1,3h1v3h-1zm1,3h1v3h-1zm1,3h1v4h-1zm1,4h1v5h-1zm1,5h1v5h-1zm1,5h1v5h-1zm1,5h1v5h-1zm1,5h1v6h-1zm1,6h1v6h-1zm1,6h1v6h-1zm1,6h1v6h-1zm1,6h1v4h-1zm1,4h1v4h-1zm1,4h1v4h-1zm1,4h1v4h-1zm1,4h1v4h-1zm1,4h1v4h-1zm1,4h1v4h-1zm1,4h1v3h-1zm1,3h1v2h-1zm1,2h1v2h-1zm1,2h1v2h-1zm1,2h1v1h-1zm1,-1h1v1h-1zm1,0h1v1h-1zm1,-1h1v1h-1zm1,0h1v1h-1zm1,-1h1v1h-1zm1,-2h1v2h-1zm1,-1h1v1h-1zm1,-1h1v1h-1zm1,1h1v2h-1zm1,2h1v2h-1zm1,2h1v2h-1zm1,2h1v1h-1zm1,1h1v1h-1zm1,1h1v1h-1zm1,0h1v1h-1zm1,1h1v1h-1zm1,1h1v2h-1zm1,2h1v2h-1zm1,2h1v2h-1zm1,2h1v1h-1zm1,1h1v2h-1zm1,2h1v2h-1zm1,2h1v2h-1zm1,2h1v2h-1zm1,2h1v1h-1zm1,1h1v2h-1zm1,2h1v1h-1zm1,1h1v1h-1zm1,0h1v1h-1zm1,0h1v1h-1zm1,0h1v1h-1zm1,0h1v1h-1zm1,1h1v2h-1zm1,2h1v2h-1zm1,2h1v2h-1zm1,2h1v1h-1zm1,1h1v1h-1zm1,1h1v1h-1zm1,1h1v1h-1zm1,1h1v1h-1zm1,0h1v1h-1zm1,-1h1v1h-1zm1,0h1v1h-1zm1,0h1v2h-1zm1,2h1v2h-1zm1,2h1v2h-1zm1,2h1v2h-1zm1,2h1v3h-1zm1,3h1v2h-1zm1,2h1v3h-1zm1,3h1v2h-1zm1,2h1v2h-1zm1,2h1v2h-1zm1,2h1v2h-1zm1,2h1v2h-1zm1,2h1v3h-1zm1,3h1v4h-1zm1,4h1v4h-1zm1,4h1v4h-1zm1,4h1v4h-1zm1,4h1v6h-1zm1,6h1v5h-1zm1,5h1v6h-1zm1,6h1v4h-1zm1,4h1v3h-1zm1,3h1v4h-1zm1,4h1v3h-1zm1,3h1v2h-1zm1,2h1v2h-1zm1,2h1v1h-1zm1,1h1v2h-1zm1,2h1v2h-1zm1,2h1v2h-1zm1,2h1v2h-1zm1,2h1v2h-1zm1,2h1v2h-1zm1,2h1v1h-1zm1,1h1v1h-1zm1,0h1v1h-1zm1,1h1v1h-1zm1,-1h1v1h-1zm1,-1h1v1h-1zm1,-1h1v1h-1zm1,-1h1v1h-1zm1,-2h1v2h-1zm1,-2h1v2h-1zm1,-2h1v2h-1zm1,-2h1v2h-1zm1,-1h1v1h-1zm1,-1h1v1h-1zm1,0h1v1h-1zm1,-1h1v1h-1zm1,-2h1v2h-1zm1,-1h1v1h-1zm1,-2h1v2h-1zm1,-2h1v2h-1zm1,-2h1v2h-1zm1,-2h1v2h-1zm1,-2h1v2h-1zm1,-2h1v2h-1zm1,-1h1v1h-1zm1,0h1v1h-1zm1,-1h1v1h-1zm1,0h1v1h-1zm1,0h1v1h-1zm1,1h1v1h-1zm1,0h1v1h-1zm1,0h1v1h-1zm1,0h1v1h-1zm1,0h1v1h-1zm1,0h1v1h-1zm1,0h1v1h-1zm1,-1h1v1h-1zm1,-1h1v1h-1zm1,-1h1v1h-1zm1,-1h1v1h-1zm1,-1h1v1h-1zm1,-1h1v1h-1zm1,-1h1v1h-1zm1,-2h1v2h-1zm1,-3h1v3h-1zm1,-4h1v4h-1zm1,-3h1v3h-1zm1,-3h1v3h-1zm1,-3h1v3h-1zm1,-2h1v2h-1zm1,-3h1v3h-1zm1,-3h1v3h-1zm1,-2h1v2h-1zm1,-2h1v2h-1zm1,-2h1v2h-1zm1,-3h1v3h-1zm1,-3h1v3h-1zm1,-2h1v2h-1zm1,-3h1v3h-1zm1,-2h1v2h-1zm1,-2h1v2h-1zm1,-2h1v2h-1zm1,-2h1v2h-1zm1,-2h1v2h-1zm1,1h1v1h-1zm1,1h1v1h-1zm1,1h1v1h-1zm1,1h1v1h-1zm1,1h1v1h-1zm1,1h1v1h-1zm1,0h1v1h-1zm1,1h1v1h-1zm1,1h1v2h-1zm1,2h1v2h-1zm1,2h1v2h-1zm1,2h1v2h-1zm1,2h1v4h-1zm1,4h1v4h-1zm1,4h1v4h-1zm1,4h1v5h-1zm1,5h1v6h-1zm1,6h1v5h-1zm1,5h1v6h-1zm1,6h1v5h-1zm1,5h1v4h-1zm1,4h1v4h-1zm1,4h1v4h-1zm1,4h1v4h-1zm1,4h1v4h-1zm1,4h1v4h-1zm1,4h1v4h-1zm1,4h1v4h-1zm1,4h1v3h-1zm1,3h1v3h-1zm1,3h1v3h-1zm1,3h1v2h-1zm1,2h1v2h-1zm1,2h1v2h-1zm1,2h1v2h-1zm1,2h1v1h-1zm1,-2h1v2h-1zm1,-2h1v2h-1zm1,-2h1v2h-1zm1,-3h1v3h-1zm1,-2h1v2h-1zm1,-2h1v2h-1zm1,-2h1v2h-1zm1,-3h1v3h-1zm1,-3h1v3h-1zm1,-3h1v3h-1zm1,-3h1v3h-1zm1,-3h1v3h-1zm1,-4h1v4h-1zm1,-4h1v4h-1zm1,-4h1v4h-1zm1,-4h1v4h-1zm1,-4h1v4h-1zm1,-5h1v5h-1zm1,-4h1v4h-1zm1,-4h1v4h-1zm1,-3h1v3h-1zm1,-3h1v3h-1zm1,-3h1v3h-1zm1,-3h1v3h-1zm1,-3h1v3h-1zm1,-4h1v4h-1zm1,-3h1v3h-1zm1,-3h1v3h-1zm1,-4h1v4h-1zm1,-3h1v3h-1zm1,-4h1v4h-1zm1,-3h1v3h-1zm1,-2h1v2h-1zm1,-3h1v3h-1zm1,-2h1v2h-1zm1,-2h1v2h-1zm1,1h1v1h-1zm1,0h1v1h-1zm1,1h1v1h-1zm1,0h1v1h-1zm1,0h1v1h-1zm1,0h1v1h-1zm1,0h1v1h-1zm1,0h1v1h-1zm1,-2h1v2h-1zm1,-1h1v1h-1zm1,-2h1v2h-1zm1,-1h1v1h-1zm1,0h1v1h-1zm1,-1h1v1h-1zm1,0h1v1h-1zm1,0h1v2h-1zm1,2h1v2h-1zm1,2h1v2h-1zm1,2h1v2h-1zm1,2h1v2h-1zm1,0h1v1h-1zm1,-1h1v1h-1zm1,0h1v1h-1zm1,-1h1v1h-1zm1,1h1v1h-1zm1,1h1v1h-1zm1,1h1v1h-1zm1,1h1v3h-1zm1,3h1v4h-1zm1,4h1v5h-1zm1,5h1v4h-1zm1,4h1v4h-1zm1,4h1v2h-1zm1,2h1v2h-1zm1,2h1v2h-1zm1,2h1v2h-1zm1,0h1v1h-1zm1,0h1v1h-1zm1,-1h1v1h-1zm1,0h1v1h-1zm1,-1h1v1h-1zm1,-2h1v2h-1zm1,-1h1v1h-1zm1,-2h1v2h-1zm1,-2h1v2h-1zm1,-3h1v3h-1zm1,-2h1v2h-1zm1,-4h1v4h-1zm1,-4h1v4h-1zm1,-5h1v5h-1zm1,-4h1v4h-1zm1,-4h1v4h-1zm1,-2h1v2h-1zm1,-3h1v3h-1zm1,-2h1v2h-1zm1,-2h1v2h-1zm1,-2h1v2h-1zm1,-2h1v2h-1zm1,-2h1v2h-1zm1,-1h1v1h-1zm1,-2h1v2h-1zm1,-1h1v1h-1zm1,-2h1v2h-1zm1,-1h1v1h-1zm1,-1h1v1h-1zm1,-1h1v1h-1zm1,0h1v1h-1zm1,-1h1v1h-1zm1,-1h1v1h-1zm1,0h1v1h-1zm1,-1h1v1h-1zm1,0h1v1h-1zm1,-1h1v1h-1zm1,0h1v1h-1zm1,-1h1v1h-1zm1,0h1v1h-1zm1,1h1v1h-1zm1,1h1v1h-1zm1,0h1v1h-1zm1,1h1v2h-1zm1,2h1v3h-1zm1,3h1v2h-1zm1,2h1v3h-1zm1,3h1v3h-1zm1,3h1v4h-1zm1,4h1v4h-1zm1,4h1v4h-1zm1,4h1v4h-1zm1,4h1v6h-1zm1,6h1v6h-1zm1,6h1v6h-1zm1,6h1v5h-1zm1,5h1v6h-1zm1,6h1v6h-1zm1,6h1v6h-1zm1,6h1v4h-1zm1,4h1v4h-1zm1,4h1v4h-1zm1,4h1v4h-1zm1,4h1v4h-1zm1,4h1v4h-1zm1,4h1v5h-1zm1,5h1v4h-1zm1,4h1v4h-1zm1,4h1v3h-1zm1,3h1v2h-1zm1,2h1v3h-1zm1,3h1v3h-1zm1,3h1v2h-1zm1,2h1v2h-1zm1,2h1v2h-1zm1,2h1v4h-1zm1,4h1v4h-1zm1,4h1v4h-1zm1,4h1v4h-1zm1,4h1v5h-1zm1,5h1v5h-1zm1,5h1v4h-1zm1,4h1v5h-1zm1,5h1v4h-1zm1,4h1v4h-1zm1,4h1v4h-1zm1,4h1v4h-1zm1,4h1v4h-1zm1,4h1v5h-1zm1,5h1v5h-1zm1,5h1v5h-1zm1,5h1v5h-1zm1,5h1v4h-1zm1,4h1v5h-1zm1,5h1v4h-1zm1,4h1v3h-1zm1,2h1v1h-1zm1,-1h1v1h-1zm1,0h1v1h-1zm1,0h1v1h-1zm1,0h1v1h-1zm1,0h1v1h-1zm1,0h1v1h-1zm1,0h1v1h-1zm1,-1h1v1h-1zm1,-1h1v1h-1zm1,0h1v1h-1zm1,-1h1v1h-1zm1,1h1v1h-1zm1,1h1v1h-1zm1,0h1v1h-1zm1,1h1v1h-1zm1,-2h1v2h-1zm1,-2h1v2h-1zm1,-2h1v2h-1zm1,-2h1v2h-1zm1,2h1v3h-1zm1,3h1v3h-1zm1,3h1v3h-1zm1,3h1v2h-1zm1,2h1v1h-1zm1,0h1v1h-1zm1,1h1v1h-1zm1,0h1v1h-1zm1,1h1v1h-1zm1,0h1v1h-1zm1,1h1v1h-1zm1,0h1v1h-1zm1,-1h1v1h-1zm1,-2h1v2h-1zm1,-1h1v1h-1zm1,-1h1v1h-1zm1,1h1v1h-1zm1,1h1v1h-1zm1,1h1v1h-1zm1,1h1v1h-1zm1,-2h1v2h-1zm1,-1h1v1h-1zm1,-2h1v2h-1zm1,-1h1v1h-1zm1,0h1v1h-1zm1,-1h1v1h-1zm1,0h1v1h-1zm1,0h1v1h-1zm1,1h1v1h-1zm1,1h1v1h-1zm1,0h1v1h-1zm1,1h1v1h-1zm1,1h1v2h-1zm1,2h1v1h-1zm1,1h1v2h-1zm1,2h1v1h-1zm1,1h1v1h-1zm1,1h1v1h-1zm1,1h1v1h-1zm1,1h1v1h-1zm1,0h1v1h-1zm1,-1h1v1h-1zm1,0h1v1h-1zm1,0h1v1h-1zm1,1h1v2h-1zm1,2h1v1h-1zm1,1h1v2h-1zm1,2h1v1h-1zm1,1h1v1h-1zm1,1h1v1h-1zm1,0h1v1h-1zm1,1h1v1h-1zm1,1h1v1h-1zm1,0h1v1h-1zm1,1h1v1h-1zm1,0h1v1h-1zm1,1h1v1h-1zm1,1h1v1h-1zm1,1h1v1h-1zm1,1h1v2h-1zm1,2h1v2h-1zm1,2h1v2h-1zm1,2h1v2h-1zm1,2h1v2h-1zm1,2h1v2h-1zm1,2h1v2h-1zm1,2h1v2h-1zm1,2h1v1h-1zm1,-1h1v1h-1zm1,0h1v1h-1zm1,-1h1v1h-1zm1,-1h1v2h-1zm1,-3h1v3h-1zm1,-2h1v2h-1zm1,-3h1v3h-1zm1,-3h1v3h-1zm1,-4h1v4h-1zm1,-4h1v4h-1zm1,-4h1v4h-1zm1,-5h1v5h-1zm1,-5h1v5h-1zm1,-6h1v6h-1zm1,-5h1v5h-1zm1,-5h1v5h-1zm1,-6h1v6h-1zm1,-6h1v6h-1zm1,-6h1v6h-1zm1,-5h1v5h-1zm1,-5h1v5h-1zm1,-4h1v4h-1zm1,-5h1v5h-1zm1,-4h1v4h-1zm1,-3h1v3h-1zm1,-3h1v3h-1zm1,-3h1v3h-1zm1,-2h1v2h-1zm1,-2h1v2h-1zm1,-2h1v2h-1zm1,-2h1v2h-1zm1,-1h1v1h-1zm1,-1h1v1h-1zm1,-1h1v1h-1zm1,0h1v1h-1zm1,-1h1v1h-1zm1,-2h1v2h-1zm1,-1h1v1h-1zm1,-2h1v2h-1zm1,-1h1v1h-1zm1,0h1v1h-1zm1,-1h1v1h-1zm1,0h1v1h-1zm1,0h1v1h-1zm1,0h1v1h-1zm1,0h1v1h-1zm1,0h1v1h-1zm1,0h1v1h-1zm1,0h1v1h-1zm1,1h1v1h-1zm1,0h1v1h-1zm1,0h1v1h-1zm1,1h1v1h-1zm1,1h1v2h-1zm1,2h1v1h-1zm1,1h1v2h-1zm1,2h1v4h-1zm1,4h1v4h-1zm1,4h1v4h-1zm1,4h1v5h-1zm1,5h1v4h-1zm1,4h1v5h-1zm1,5h1v4h-1zm1,4h1v5h-1zm1,5h1v4h-1zm1,4h1v4h-1zm1,4h1v4h-1zm1,4h1v4h-1zm1,4h1v4h-1zm1,4h1v3h-1zm1,3h1v4h-1zm1,4h1v3h-1zm1,3h1v2h-1zm1,2h1v2h-1zm1,2h1v2h-1zm1,2h1v2h-1zm1,2h1v2h-1zm1,2h1v2h-1zm1,2h1v2h-1zm1,2h1v2h-1zm1,2h1v1h-1zm1,0h1v1h-1zm1,1h1v1h-1zm1,0h1v1h-1zm1,0h1v1h-1zm1,0h1v1h-1zm1,0h1v1h-1zm1,0h1v1h-1zm1,1h1v1h-1zm1,0h1v1h-1zm1,1h1v1h-1zm1,0h1v1h-1zm1,1h1v2h-1zm1,2h1v2h-1zm1,2h1v2h-1zm1,2h1v2h-1zm1,2h1v2h-1zm1,2h1v2h-1zm1,2h1v2h-1zm1,2h1v3h-1zm1,3h1v2h-1zm1,2h1v3h-1zm1,3h1v2h-1zm1,2h1v2h-1zm1,2h1v1h-1zm1,0h1v1h-1zm1,1h1v1h-1zm1,0h1v1h-1zm1,0h1v1h-1zm1,-1h1v1h-1zm1,0h1v1h-1zm1,0h1v1h-1zm1,-1h1v1h-1zm1,-1h1v1h-1zm1,-1h1v1h-1zm1,-1h1v1h-1zm1,-2h1v2h-1zm1,-2h1v2h-1zm1,-2h1v2h-1zm1,-2h1v2h-1zm1,-1h1v1h-1zm1,-1h1v1h-1zm1,-1h1v1h-1zm1,-1h1v1h-1zm1,1h1v1h-1zm1,1h1v1h-1zm1,0h1v1h-1zm1,1h1v1h-1zm1,0h1v1h-1zm1,-1h1v1h-1zm1,0h1v1h-1zm1,0h1v1h-1zm1,-1h1v1h-1zm1,-2h1v2h-1zm1,-1h1v1h-1zm1,-2h1v2h-1zm1,-2h1v2h-1zm1,-2h1v2h-1zm1,-2h1v2h-1zm1,-2h1v2h-1zm1,-2h1v2h-1zm1,-2h1v2h-1zm1,-2h1v2h-1zm1,-1h1v1h-1zm1,-1h1v1h-1zm1,-2h1v2h-1zm1,-1h1v1h-1zm1,-1h1v1h-1zm1,1h1v1h-1zm1,1h1v1h-1zm1,0h1v1h-1zm1,1h1v1h-1zm1,-1h1v1h-1zm1,-1h1v1h-1zm1,-1h1v1h-1zm1,-1h1v1h-1zm1,-2h1v2h-1zm1,-2h1v2h-1zm1,-2h1v2h-1zm1,-2h1v2h-1zm1,-4h1v4h-1zm1,-4h1v4h-1zm1,-4h1v4h-1zm1,-4h1v4h-1zm1,-4h1v4h-1zm1,-5h1v5h-1zm1,-4h1v4h-1zm1,-5h1v5h-1zm1,-5h1v5h-1zm1,-4h1v4h-1zm1,-5h1v5h-1zm1,-3h1v3h-1zm1,-1h1v1h-1zm1,-1h1v1h-1zm1,0h1v1h-1zm1,-1h1v1h-1zm1,1h1v1h-1zm1,1h1v2h-1zm1,2h1v1h-1zm1,1h1v1h-1zm1,1h1v1h-1zm1,1h1v1h-1zm1,1h1v1h-1zm1,1h1v1h-1zm1,1h1v2h-1zm1,2h1v2h-1zm1,2h1v2h-1zm1,2h1v2h-1zm1,2h1v1h-1zm1,1h1v1h-1zm1,1h1v1h-1zm1,1h1v1h-1zm1,-1h1v1h-1zm1,-1h1v1h-1zm1,0h1v1h-1zm1,-2h1v2h-1zm1,-2h1v2h-1zm1,-2h1v2h-1zm1,-2h1v2h-1zm1,-3h1v3h-1zm1,-2h1v2h-1zm1,-3h1v3h-1zm1,-2h1v2h-1zm1,-3h1v3h-1zm1,-4h1v4h-1zm1,-4h1v4h-1zm1,-4h1v4h-1zm1,-4h1v4h-1zm1,-3h1v3h-1zm1,-3h1v3h-1zm1,-3h1v3h-1zm1,-2h1v2h-1zm1,-2h1v2h-1zm1,-1h1v1h-1zm1,-2h1v2h-1zm1,-1h1v1h-1zm1,-1h1v1h-1zm1,-1h1v1h-1zm1,-1h1v1h-1zm1,-1h1v1h-1zm1,0h1v1h-1zm1,0h1v1h-1zm1,0h1v1h-1zm1,0h1v1h-1zm1,1h1v1h-1zm1,1h1v1h-1zm1,1h1v1h-1zm1,1h1v1h-1zm1,1h1v2h-1zm1,2h1v2h-1zm1,2h1v2h-1zm1,2h1v2h-1zm1,2h1v2h-1zm1,2h1v2h-1zm1,2h1v2h-1zm1,2h1v2h-1zm1,2h1v2h-1zm1,2h1v2h-1zm1,2h1v2h-1zm1,2h1v2h-1zm1,2h1v2h-1zm1,2h1v2h-1zm1,2h1v2h-1zm1,2h1v3h-1zm1,3h1v2h-1zm1,2h1v2h-1zm1,2h1v2h-1zm1,2h1v3h-1zm1,3h1v4h-1zm1,4h1v3h-1zm1,3h1v4h-1zm1,4h1v2h-1zm1,2h1v2h-1zm1,2h1v2h-1zm1,2h1v2h-1zm1,2h1v1h-1zm1,1h1v2h-1zm1,2h1v1h-1zm1,1h1v2h-1zm1,2h1v1h-1zm1,1h1v1h-1zm1,1h1v1h-1zm1,1h1v1h-1zm1,1h1v1h-1zm1,0h1v1h-1zm1,1h1v1h-1zm1,0h1v1h-1zm1,0h1v1h-1zm1,-1h1v1h-1zm1,-2h1v2h-1zm1,-1h1v1h-1zm1,-1h1v1h-1zm1,1h1v1h-1zm1,1h1v1h-1zm1,0h1v1h-1zm1,1h1v1h-1zm1,1h1v1h-1zm1,1h1v2h-1zm1,2h1v1h-1zm1,1h1v1h-1zm1,1h1v2h-1zm1,2h1v1h-1zm1,1h1v2h-1zm1,2h1v2h-1zm1,2h1v2h-1zm1,2h1v2h-1zm1,2h1v2h-1zm1,2h1v2h-1zm1,2h1v1h-1zm1,1h1v1h-1zm1,0h1v1h-1zm1,1h1v1h-1zm1,1h1v1h-1zm1,1h1v1h-1zm1,0h1v1h-1zm1,1h1v1h-1zm1,1h1v1h-1zm1,1h1v1h-1zm1,1h1v1h-1zm1,1h1v1h-1zm1,1h1v1h-1zm1,1h1v1h-1zm1,0h1v1h-1zm1,1h1v1h-1zm1,0h1v1h-1zm1,1h1v1h-1zm1,0h1v1h-1zm1,0h1v1h-1zm1,-1h1v1h-1zm1,-1h1v1h-1zm1,-1h1v1h-1zm1,-2h1v2h-1zm1,-2h1v2h-1zm1,-3h1v3h-1zm1,-2h1v2h-1zm1,-3h1v3h-1zm1,-4h1v4h-1zm1,-4h1v4h-1zm1,-4h1v4h-1zm1,-3h1v3h-1zm1,-2h1v2h-1zm1,-3h1v3h-1zm1,-2h1v2h-1zm1,-3h1v3h-1zm1,-3h1v3h-1zm1,-2h1v2h-1zm1,-3h1v3h-1zm1,-2h1v2h-1zm1,-1h1v1h-1zm1,-1h1v1h-1zm1,-1h1v1h-1zm1,-1h1v1h-1zm1,0h1v1h-1zm1,1h1v1h-1zm1,0h1v1h-1zm1,0h1v1h-1zm1,1h1v2h-1zm1,2h1v2h-1zm1,2h1v2h-1zm1,2h1v1h-1zm1,-1h1v1h-1zm1,-1h1v1h-1zm1,-1h1v1h-1zm1,-2h1v2h-1zm1,-3h1v3h-1zm1,-3h1v3h-1zm1,-3h1v3h-1zm1,-2h1v2h-1zm1,-2h1v2h-1zm1,-1h1v1h-1zm1,-2h1v2h-1zm1,-1h1v1h-1zm1,-2h1v2h-1zm1,-2h1v2h-1zm1,-2h1v2h-1zm1,-2h1v2h-1zm1,-4h1v4h-1zm1,-4h1v4h-1zm1,-4h1v4h-1zm1,-2h1v2h-1zm1,0h1v1h-1zm1,0h1v1h-1zm1,0h1v1h-1zm1,0h1v1h-1zm1,1h1v2h-1zm1,2h1v2h-1zm1,2h1v2h-1zm1,2h1v1h-1zm1,-1h1v1h-1zm1,0h1v1h-1zm1,-1h1v1h-1zm1,0h1v1h-1zm1,-1h1v1h-1zm1,-2h1v2h-1zm1,-1h1v1h-1zm1,-1h1v1h-1zm1,0h1v1h-1zm1,-1h1v1h-1zm1,0h1v1h-1zm1,-1h1v2h-1zm1,-2h1v2h-1zm1,-3h1v3h-1zm1,-2h1v2h-1zm1,-3h1v3h-1zm1,-3h1v3h-1zm1,-3h1v3h-1zm1,-3h1v3h-1zm1,-2h1v2h-1zm1,-2h1v2h-1zm1,-2h1v2h-1zm1,-2h1v2h-1zm1,-1h1v1h-1zm1,-2h1v2h-1zm1,-1h1v1h-1zm1,-2h1v2h-1zm1,-2h1v2h-1zm1,-4h1v4h-1zm1,-3h1v3h-1zm1,-4h1v4h-1zm1,-3h1v3h-1zm1,-2h1v2h-1zm1,-3h1v3h-1zm1,-2h1v2h-1zm1,-3h1v3h-1zm1,-3h1v3h-1zm1,-2h1v2h-1zm1,-3h1v3h-1zm1,-3h1v3h-1zm1,-4h1v4h-1zm1,-3h1v3h-1zm1,-4h1v4h-1zm1,-1h1v1h-1z" fill="#ffa500"/>
<path d="M3,76h1v1h-1zm1,1h1v1h-1zm1,1h1v1h-1zm1,0h1v1h-1zm1,1h1v1h-1zm1,1h1v1h-1zm1,1h1v1h-1zm1,0h1v1h-1zm1,1h1v1h-1zm1,1h1v1h-1zm1,0h1v1h-1zm1,1h1v1h-1zm1,0h1v1h-1zm1,0h1v1h-1zm1,1h1v1h-1zm1,0h1v1h-1zm1,0h1v1h-1zm1,0h1v1h-1zm1,1h1v1h-1zm1,0h1v1h-1zm1,0h1v1h-1zm1,0h1v1h-1zm1,-1h1v1h-1zm1,0h1v1h-1zm1,0h1v1h-1zm1,1h1v1h-1zm1,1h1v1h-1zm1,1h1v1h-1zm1,1h1v1h-1zm1,1h1v2h-1zm1,2h1v2h-1zm1,2h1v2h-1zm1,2h1v1h-1zm1,1h1v2h-1zm1,2h1v2h-1zm1,2h1v2h-1zm1,2h1v3h-1zm1,3h1v2h-1zm1,2h1v3h-1zm1,3h1v2h-1zm1,2h1v3h-1zm1,3h1v2h-1zm1,2h1v2h-1zm1,2h1v2h-1zm1,2h1v3h-1zm1,3h1v3h-1zm1,3h1v3h-1zm1,3h1v3h-1zm1,3h1v3h-1zm1,3h1v4h-1zm1,4h1v3h-1zm1,3h1v4h-1zm1,4h1v3h-1zm1,3h1v2h-1zm1,2h1v3h-1zm1,3h1v2h-1zm1,2h1v3h-1zm1,3h1v2h-1zm1,2h1v3h-1zm1,3h1v2h-1zm1,2h1v3h-1zm1,3h1v2h-1zm1,2h1v3h-1zm1,3h1v2h-1zm1,2h1v2h-1zm1,2h1v2h-1zm1,2h1v2h-1zm1,2h1v2h-1zm1,2h1v3h-1zm1,3h1v3h-1zm1,3h1v2h-1zm1,2h1v3h-1zm1,3h1v3h-1zm1,3h1v3h-1zm1,3h1v2h-1zm1,2h1v3h-1zm1,3h1v3h-1zm1,3h1v3h-1zm1,3h1v2h-1zm1,2h1v3h-1zm1,3h1v2h-1zm1,2h1v2h-1zm1,2h1v2h-1zm1,2h1v2h-1zm1,2h1v2h-1zm1,2h1v2h-1zm1,2h1v2h-1zm1,2h1v2h-1zm1,2h1v3h-1zm1,3h1v3h-1zm1,3h1v2h-1zm1,2h1v3h-1zm1,3h1v3h-1zm1,3h1v3h-1zm1,3h1v2h-1zm1,2h1v3h-1zm1,3h1v2h-1zm1,2h1v1h-1zm1,1h1v1h-1zm1,1h1v1h-1zm1,1h1v1h-1zm1,0h1v1h-1zm1,0h1v1h-1zm1,0h1v1h-1zm1,0h1v1h-1zm1,-1h1v1h-1zm1,-1h1v1h-1zm1,-1h1v1h-1zm1,-1h1v1h-1zm1,-1h1v1h-1zm1,-2h1v2h-1zm1,-1h1v1h-1zm1,-1h1v1h-1zm1,-2h1v2h-1zm1,-2h1v2h-1zm1,-2h1v2h-1zm1,-2h1v2h-1zm1,-2h1v2h-1zm1,-2h1v2h-1zm1,-2h1v2h-1zm1,-3h1v3h-1zm1,-2h1v2h-1zm1,-2h1v2h-1zm1,-2h1v2h-1zm1,-3h1v3h-1zm1,-3h1v3h-1zm1,-2h1v2h-1zm1,-3h1v3h-1zm1,-3h1v3h-1zm1,-2h1v2h-1zm1,-3h1v3h-1zm1,-2h1v2h-1zm1,-3h1v3h-1zm1,-2h1v2h-1zm1,-2h1v2h-1zm1,-2h1v2h-1zm1,-3h1v3h-1zm1,-2h1v2h-1zm1,-2h1v2h-1zm1,-2h1v2h-1zm1,-2h1v2h-1zm1,-2h1v2h-1zm1,-2h1v2h-1zm1,-2h1v2h-1zm1,-2h1v2h-1zm1,-3h1v3h-1zm1,-2h1v2h-1zm1,-3h1v3h-1zm1,-3h1v3h-1zm1,-2h1v2h-1zm1,-3h1v3h-1zm1,-2h1v2h-1zm1,-2h1v2h-1zm1,-1h1v1h-1zm1,-1h1v1h-1zm1,0h1v1h-1zm1,-1h1v1h-1zm1,-1h1v1h-1zm1,0h1v1h-1zm1,-1h1v1h-1zm1,0h1v1h-1zm1,0h1v1h-1zm1,1h1v1h-1zm1,0h1v1h-1zm1,0h1v1h-1zm1,0h1v1h-1zm1,1h1v1h-1zm1,0h1v1h-1zm1,0h1v1h-1zm1,0h1v1h-1zm1,0h1v1h-1zm1,0h1v1h-1zm1,0h1v1h-1zm1,0h1v1h-1zm1,1h1v1h-1zm1,0h1v1h-1zm1,0h1v1h-1zm1,1h1v1h-1zm1,0h1v1h-1zm1,1h1v1h-1zm1,0h1v1h-1zm1,1h1v1h-1zm1,1h1v1h-1zm1,0h1v1h-1zm1,1h1v1h-1zm1,0h1v1h-1zm1,1h1v1h-1zm1,0h1v1h-1zm1,0h1v1h-1zm1,-1h1v1h-1zm1,-2h1v2h-1zm1,-1h1v1h-1zm1,-1h1v1h-1zm1,-1h1v1h-1zm1,-2h1v2h-1zm1,-1h1v1h-1zm1,-1h1v1h-1zm1,-1h1v1h-1zm1,-2h1v2h-1zm1,-1h1v1h-1zm1,-1h1v1h-1zm1,-1h1v1h-1zm1,0h1v1h-1zm1,-1h1v1h-1zm1,0h1v1h-1zm1,-1h1v1h-1zm1,-1h1v1h-1zm1,-1h1v1h-1zm1,-1h1v1h-1zm1,0h1v1h-1zm1,1h1v1h-1zm1,0h1v1h-1zm1,0h1v1h-1zm1,1h1v1h-1zm1,0h1v1h-1zm1,1h1v1h-1zm1,0h1v1h-1zm1,1h1v1h-1zm1,0h1v1h-1zm1,1h1v1h-1zm1,0h1v1h-1zm1,0h1v1h-1zm1,1h1v1h-1zm1,0h1v1h-1zm1,0h1v1h-1zm1,1h1v2h-1zm1,2h1v1h-1zm1,1h1v2h-1zm1,2h1v1h-1zm1,1h1v2h-1zm1,2h1v1h-1zm1,1h1v2h-1zm1,2h1v1h-1zm1,1h1v1h-1zm1,1h1v1h-1zm1,0h1v1h-1zm1,1h1v1h-1zm1,1h1v1h-1zm1,1h1v1h-1zm1,0h1v1h-1zm1,1h1v1h-1zm1,1h1v1h-1zm1,1h1v2h-1zm1,2h1v1h-1zm1,1h1v2h-1zm1,2h1v2h-1zm1,2h1v2h-1zm1,2h1v2h-1zm1,2h1v2h-1zm1,2h1v2h-1zm1,2h1v2h-1zm1,2h1v2h-1zm1,2h1v1h-1zm1,1h1v2h-1zm1,2h1v1h-1zm1,1h1v2h-1zm1,2h1v1h-1zm1,1h1v1h-1zm1,1h1v1h-1zm1,1h1v1h-1zm1,1h1v1h-1zm1,1h1v2h-1zm1,2h1v2h-1zm1,2h1v2h-1zm1,2h1v2h-1zm1,1h1v1h-1zm1,0h1v1h-1zm1,0h1v1h-1zm1,0h1v1h-1zm1,0h1v1h-1zm1,-1h1v1h-1zm1,0h1v1h-1zm1,0h1v1h-1zm1,-1h1v1h-1zm1,-2h1v2h-1zm1,-1h1v1h-1zm1,-1h1v1h-1zm1,-2h1v2h-1zm1,-1h1v1h-1zm1,-2h1v2h-1zm1,-1h1v1h-1zm1,-1h1v1h-1zm1,-1h1v1h-1zm1,-1h1v1h-1zm1,-1h1v1h-1zm1,-1h1v1h-1zm1,0h1v1h-1zm1,-1h1v1h-1zm1,0h1v1h-1zm1,0h1v1h-1zm1,1h1v1h-1zm1,0h1v1h-1zm1,0h1v1h-1zm1,1h1v1h-1zm1,0h1v1h-1zm1,1h1v1h-1zm1,0h1v1h-1zm1,1h1v1h-1zm1,0h1v1h-1zm1,1h1v1h-1zm1,0h1v1h-1zm1,1h1v1h-1zm1,1h1v1h-1zm1,1h1v1h-1zm1,1h1v1h-1zm1,1h1v2h-1zm1,2h1v2h-1zm1,2h1v2h-1zm1,2h1v1h-1zm1,1h1v2h-1zm1,2h1v1h-1zm1,1h1v2h-1zm1,2h1v1h-1zm1,1h1v2h-1zm1,2h1v2h-1zm1,2h1v2h-1zm1,2h1v2h-1zm1,2h1v1h-1zm1,0h1v1h-1zm1,1h1v1h-1zm1,0h1v1h-1zm1,1h1v1h-1zm1,1h1v2h-1zm1,2h1v1h-1zm1,1h1v1h-1zm1,1h1v1h-1zm1,1h1v1h-1zm1,0h1v1h-1zm1,1h1v1h-1zm1,1h1v1h-1zm1,1h1v2h-1zm1,2h1v1h-1zm1,1h1v1h-1zm1,1h1v2h-1zm1,2h1v2h-1zm1,2h1v2h-1zm1,2h1v1h-1zm1,1h1v1h-1zm1,1h1v1h-1zm1,0h1v1h-1zm1,1h1v1h-1zm1,1h1v1h-1zm1,0h1v1h-1zm1,1h1v1h-1zm1,0h1v1h-1zm1,0h1v1h-1zm1,-1h1v1h-1zm1,0h1v1h-1zm1,0h1v1h-1zm1,0h1v1h-1zm1,-1h1v1h-1zm1,0h1v1h-1zm1,0h1v1h-1zm1,0h1v1h-1zm1,-1h1v1h-1zm1,0h1v1h-1zm1,0h1v1h-1zm1,-1h1v1h-1zm1,0h1v1h-1zm1,-1h1v1h-1zm1,0h1v1h-1zm1,-1h1v1h-1zm1,-1h1v1h-1zm1,-1h1v1h-1zm1,-1h1v1h-1zm1,-1h1v1h-1zm1,-1h1v1h-1zm1,0h1v1h-1zm1,-1h1v1h-1zm1,-1h1v1h-1zm1,-1h1v1h-1zm1,-1h1v1h-1zm1,-1h1v1h-1zm1,-2h1v2h-1zm1,-1h1v1h-1zm1,-2h1v2h-1zm1,-1h1v1h-1zm1,0h1v1h-1zm1,-1h1v1h-1zm1,0h1v1h-1zm1,0h1v1h-1zm1,0h1v1h-1zm1,0h1v1h-1zm1,0h1v1h-1zm1,0h1v1h-1zm1,0h1v1h-1zm1,-1h1v1h-1zm1,0h1v1h-1zm1,0h1v1h-1zm1,-1h1v1h-1zm1,0h1v1h-1zm1,-1h1v1h-1zm1,0h1v1h-1zm1,0h1v1h-1zm1,-1h1v1h-1zm1,0h1v1h-1zm1,0h1v1h-1zm1,0h1v1h-1zm1,1h1v1h-1zm1,0h1v1h-1zm1,0h1v1h-1zm1,0h1v1h-1zm1,-1h1v1h-1zm1,0h1v1h-1zm1,0h1v1h-1zm1,0h1v1h-1zm1,-1h1v1h-1zm1,0h1v1h-1zm1,0h1v1h-1zm1,0h1v1h-1zm1,0h1v1h-1zm1,0h1v1h-1zm1,0h1v1h-1zm1,0h1v1h-1zm1,0h1v1h-1zm1,0h1v1h-1zm1,0h1v1h-1zm1,-1h1v1h-1zm1,0h1v1h-1zm1,-1h1v1h-1zm1,0h1v1h-1zm1,-1h1v1h-1zm1,-1h1v1h-1zm1,0h1v1h-1zm1,-1h1v1h-1zm1,-1h1v1h-1zm1,0h1v1h-1zm1,-1h1v1h-1zm1,0h1v1h-1zm1,0h1v1h-1zm1,0h1v1h-1zm1,0h1v1h-1zm1,0h1v1h-1zm1,-2h1v2h-1zm1,-1h1v1h-1zm1,-2h1v2h-1zm1,-1h1v1h-1zm1,-2h1v2h-1zm1,-1h1v1h-1zm1,-2h1v2h-1zm1,-1h1v1h-1zm1,-1h1v1h-1zm1,-1h1v1h-1zm1,-1h1v1h-1zm1,-1h1v1h-1zm1,-1h1v1h-1zm1,-2h1v2h-1zm1,-1h1v1h-1zm1,-1h1v1h-1zm1,-1h1v1h-1zm1,-1h1v1h-1zm1,0h1v1h-1zm1,-1h1v1h-1zm1,-1h1v1h-1zm1,-2h1v2h-1zm1,-1h1v1h-1zm1,-1h1v1h-1zm1,0h1v1h-1zm1,-1h1v1h-1zm1,0h1v1h-1zm1,0h1v1h-1zm1,-1h1v1h-1zm1,-1h1v1h-1zm1,0h1v1h-1zm1,-1h1v1h-1zm1,-1h1v1h-1zm1,0h1v1h-1zm1,-1h1v1h-1zm1,0h1v1h-1zm1,0h1v1h-1zm1,1h1v1h-1zm1,0h1v1h-1zm1,0h1v1h-1zm1,1h1v2h-1zm1,2h1v1h-1zm1,1h1v2h-1zm1,2h1v1h-1zm1,1h1v2h-1zm1,2h1v2h-1zm1,2h1v2h-1zm1,2h1v1h-1zm1,1h1v2h-1zm1,2h1v2h-1zm1,2h1v2h-1zm1,2h1v1h-1zm1,1h1v1h-1zm1,1h1v2h-1zm1,2h1v1h-1zm1,1h1v1h-1zm1,1h1v2h-1zm1,2h1v2h-1zm1,2h1v2h-1zm1,2h1v2h-1zm1,2h1v2h-1zm1,2h1v2h-1zm1,2h1v2h-1zm1,2h1v2h-1zm1,2h1v2h-1zm1,2h1v2h-1zm1,2h1v2h-1zm1,2h1v3h-1zm1,3h1v2h-1zm1,2h1v3h-1zm1,3h1v2h-1zm1,2h1v3h-1zm1,3h1v2h-1zm1,2h1v2h-1zm1,2h1v2h-1zm1,2h1v2h-1zm1,2h1v2h-1zm1,2h1v2h-1zm1,2h1v2h-1zm1,2h1v3h-1zm1,3h1v2h-1zm1,2h1v2h-1zm1,2h1v2h-1zm1,2h1v3h-1zm1,3h1v2h-1zm1,2h1v2h-1zm1,2h1v2h-1zm1,2h1v2h-1zm1,2h1v2h-1zm1,2h1v2h-1zm1,2h1v2h-1zm1,2h1v2h-1zm1,2h1v2h-1zm1,2h1v2h-1zm1,2h1v2h-1zm1,2h1v1h-1zm1,1h1v1h-1zm1,0h1v1h-1zm1,1h1v1h-1zm1,0h1v1h-1zm1,0h1v1h-1zm1,1h1v1h-1zm1,0h1v1h-1zm1,0h1v1h-1zm1,1h1v1h-1zm1,1h1v2h-1zm1,2h1v1h-1zm1,1h1v1h-1zm1,1h1v2h-1zm1,2h1v1h-1zm1,1h1v2h-1zm1,2h1v1h-1zm1,1h1v2h-1zm1,2h1v2h-1zm1,2h1v2h-1zm1,2h1v2h-1zm1,2h1v2h-1zm1,2h1v2h-1zm1,2h1v2h-1zm1,2h1v3h-1zm1,3h1v2h-1zm1,2h1v2h-1zm1,2h1v2h-1zm1,2h1v3h-1zm1,3h1v2h-1zm1,2h1v2h-1zm1,2h1v2h-1zm1,2h1v2h-1zm1,2h1v2h-1zm1,2h1v1h-1zm1,1h1v2h-1zm1,2h1v1h-1zm1,1h1v2h-1zm1,2h1v2h-1zm1,2h1v2h-1zm1,2h1v2h-1zm1,2h1v2h-1zm1,2h1v2h-1zm1,2h1v2h-1zm1,2h1v1h-1zm1,1h1v2h-1zm1,2h1v2h-1zm1,2h1v2h-1zm1,2h1v1h-1zm1,1h1v1h-1zm1,1h1v2h-1zm1,2h1v1h-1zm1,1h1v1h-1zm1,1h1v1h-1zm1,1h1v1h-1zm1,0h1v1h-1zm1,1h1v1h-1zm1,1h1v1h-1zm1,1h1v1h-1zm1,1h1v1h-1zm1,1h1v1h-1zm1,1h1v1h-1zm1,1h1v2h-1zm1,2h1v1h-1zm1,1h1v1h-1zm1,1h1v1h-1zm1,0h1v1h-1zm1,1h1v1h-1zm1,0h1v1h-1zm1,1h1v1h-1zm1,0h1v1h-1zm1,1h1v1h-1zm1,0h1v1h-1zm1,0h1v1h-1zm1,0h1v1h-1zm1,0h1v1h-1zm1,0h1v1h-1zm1,-1h1v1h-1zm1,0h1v1h-1zm1,-1h1v1h-1zm1,0h1v1h-1zm1,-1h1v1h-1zm1,-2h1v2h-1zm1,-1h1v1h-1zm1,-1h1v1h-1zm1,-2h1v2h-1zm1,-2h1v2h-1zm1,-2h1v2h-1zm1,-1h1v1h-1zm1,-1h1v1h-1zm1,-1h1v1h-1zm1,-1h1v1h-1zm1,-1h1v1h-1zm1,-2h1v2h-1zm1,-2h1v2h-1zm1,-2h1v2h-1zm1,-1h1v1h-1zm1,-2h1v2h-1zm1,-2h1v2h-1zm1,-2h1v2h-1zm1,-1h1v1h-1zm1,-2h1v2h-1zm1,-1h1v1h-1zm1,-2h1v2h-1zm1,-1h1v1h-1zm1,-1h1v1h-1zm1,-1h1v1h-1zm1,0h1v1h-1zm1,-1h1v1h-1zm1,-1h1v1h-1zm1,0h1v1h-1zm1,-1h1v1h-1zm1,0h1v1h-1zm1,0h1v1h-1zm1,-1h1v1h-1zm1,0h1v1h-1zm1,0h1v1h-1zm1,0h1v1h-1zm1,1h1v1h-1zm1,0h1v1h-1zm1,0h1v1h-1zm1,1h1v1h-1zm1,0h1v1h-1zm1,1h1v1h-1zm1,0h1v1h-1zm1,1h1v1h-1zm1,1h1v1h-1zm1,0h1v1h-1zm1,1h1v1h-1zm1,1h1v1h-1zm1,1h1v1h-1zm1,1h1v1h-1zm1,1h1v1h-1zm1,1h1v1h-1zm1,1h1v1h-1zm1,1h1v1h-1zm1,1h1v1h-1zm1,1h1v1h-1zm1,1h1v2h-1zm1,2h1v1h-1zm1,1h1v1h-1zm1,1h1v1h-1zm1,1h1v2h-1zm1,2h1v1h-1zm1,1h1v1h-1zm1,1h1v1h-1zm1,1h1v1h-1zm1,0h1v1h-1zm1,1h1v1h-1zm1,1h1v1h-1zm1,1h1v1h-1zm1,0h1v1h-1zm1,1h1v1h-1zm1,1h1v1h-1zm1,1h1v1h-1zm1,0h1v1h-1zm1,1h1v1h-1zm1,1h1v1h-1zm1,0h1v1h-1zm1,1h1v1h-1zm1,0h1v1h-1zm1,-1h1v1h-1zm1,0h1v1h-1zm1,-1h1v1h-1zm1,0h1v1h-1zm1,-1h1v1h-1zm1,-1h1v1h-1zm1,0h1v1h-1zm1,-1h1v1h-1zm1,-1h1v1h-1zm1,-1h1v1h-1zm1,-1h1v1h-1zm1,-1h1v1h-1zm1,-2h1v2h-1zm1,-1h1v1h-1zm1,-2h1v2h-1zm1,-1h1v1h-1zm1,-2h1v2h-1zm1,-1h1v1h-1zm1,-2h1v2h-1zm1,-1h1v1h-1zm1,-2h1v2h-1zm1,-2h1v2h-1zm1,-2h1v2h-1zm1,-2h1v2h-1zm1,-3h1v3h-1zm1,-2h1v2h-1zm1,-3h1v3h-1zm1,-3h1v3h-1zm1,-2h1v2h-1zm1,-2h1v2h-1zm1,-2h1v2h-1zm1,-2h1v2h-1zm1,-2h1v2h-1zm1,-1h1v1h-1zm1,-2h1v2h-1zm1,-1h1v1h-1zm1,-1h1v1h-1zm1,-1h1v1h-1zm1,0h1v1h-1zm1,-1h1v1h-1zm1,-1h1v1h-1zm1,-1h1v1h-1zm1,0h1v1h-1zm1,-1h1v1h-1zm1,0h1v1h-1zm1,0h1v1h-1zm1,0h1v1h-1zm1,0h1v1h-1zm1,0h1v1h-1zm1,0h1v1h-1zm1,0h1v1h-1zm1,0h1v1h-1zm1,0h1v1h-1zm1,-1h1v1h-1zm1,0h1v1h-1zm1,0h1v1h-1zm1,0h1v1h-1zm1,-1h1v1h-1zm1,0h1v1h-1zm1,0h1v1h-1zm1,0h1v1h-1zm1,-1h1v1h-1zm1,0h1v1h-1zm1,0h1v1h-1zm1,-1h1v1h-1zm1,0h1v1h-1zm1,-1h1v1h-1zm1,0h1v1h-1zm1,0h1v1h-1zm1,0h1v1h-1zm1,0h1v1h-1zm1,0h1v1h-1zm1,-1h1v1h-1zm1,-1h1v1h-1zm1,0h1v1h-1zm1,-1h1v1h-1zm1,-1h1v1h-1zm1,-1h1v1h-1zm1,-1h1v1h-1zm1,-1h1v1h-1zm1,0h1v1h-1zm1,0h1v1h-1zm1,0h1v1h-1zm1,0h1v1h-1zm1,-1h1v1h-1zm1,0h1v1h-1zm1,-1h1v1h-1zm1,0h1v1h-1zm1,-1h1v1h-1zm1,-1h1v1h-1zm1,-1h1v1h-1zm1,-1h1v1h-1zm1,0h1v1h-1zm1,-1h1v1h-1zm1,0h1v1h-1zm1,0h1v1h-1zm1,0h1v1h-1zm1,-1h1v1h-1zm1,0h1v1h-1zm1,0h1v1h-1zm1,-1h1v1h-1zm1,0h1v1h-1zm1,-1h1v1h-1zm1,0h1v1h-1zm1,1h1v1h-1zm1,1h1v1h-1zm1,1h1v1h-1zm1,1h1v1h-1zm1,1h1v1h-1zm1,1h1v1h-1zm1,1h1v1h-1zm1,1h1v1h-1zm1,1h1v2h-1zm1,2h1v1h-1zm1,1h1v2h-1zm1,2h1v2h-1zm1,2h1v2h-1zm1,2h1v2h-1zm1,2h1v2h-1zm1,2h1v3h-1zm1,3h1v2h-1zm1,2h1v2h-1zm1,2h1v2h-1zm1,2h1v3h-1zm1,3h1v2h-1zm1,2h1v3h-1zm1,3h1v2h-1zm1,2h1v3h-1zm1,3h1v3h-1zm1,3h1v4h-1zm1,4h1v3h-1zm1,3h1v3h-1zm1,3h1v4h-1zm1,4h1v4h-1zm1,4h1v4h-1zm1,4h1v3h-1zm1,3h1v4h-1zm1,4h1v4h-1zm1,4h1v4h-1zm1,4h1v5h-1zm1,5h1v4h-1zm1,4h1v4h-1zm1,4h1v4h-1zm1,4h1v5h-1zm1,5h1v4h-1zm1,4h1v4h-1zm1,4h1v4h-1zm1,4h1v4h-1zm1,4h1v3h-1zm1,3h1v2h-1zm1,2h1v3h-1zm1,3h1v3h-1zm1,3h1v3h-1zm1,3h1v2h-1zm1,2h1v3h-1zm1,3h1v3h-1zm1,3h1v2h-1zm1,2h1v3h-1zm1,3h1v2h-1zm1,2h1v3h-1zm1,3h1v2h-1zm1,2h1v2h-1zm1,2h1v2h-1zm1,2h1v2h-1zm1,2h1v2h-1zm1,2h1v2h-1zm1,2h1v2h-1zm1,2h1v2h-1zm1,2h1v2h-1zm1,2h1v3h-1zm1,3h1v2h-1zm1,2h1v2h-1zm1,2h1v1h-1zm1,1h1v2h-1zm1,2h1v1h-1zm1,1h1v1h-1zm1,1h1v2h-1zm1,2h1v1h-1zm1,1h1v2h-1zm1,2h1v1h-1zm1,1h1v1h-1zm1,1h1v1h-1zm1,1h1v1h-1zm1,1h1v1h-1zm1,1h1v1h-1zm1,1h1v1h-1zm1,0h1v1h-1zm1,1h1v1h-1zm1,0h1v1h-1zm1,1h1v1h-1zm1,0h1v1h-1zm1,0h1v1h-1zm1,0h1v1h-1zm1,-1h1v1h-1zm1,0h1v1h-1zm1,0h1v1h-1zm1,0h1v1h-1zm1,0h1v1h-1zm1,0h1v1h-1zm1,0h1v1h-1zm1,0h1v1h-1zm1,0h1v1h-1zm1,0h1v1h-1zm1,0h1v1h-1zm1,1h1v1h-1zm1,1h1v1h-1zm1,1h1v1h-1zm1,1h1v1h-1zm1,0h1v1h-1zm1,1h1v1h-1zm1,0h1v1h-1zm1,0h1v1h-1zm1,1h1v1h-1zm1,0h1v1h-1zm1,1h1v1h-1zm1,0h1v1h-1zm1,0h1v1h-1zm1,1h1v1h-1zm1,0h1v1h-1zm1,0h1v1h-1zm1,1h1v1h-1zm1,1h1v1h-1zm1,1h1v1h-1zm1,1h1v1h-1zm1,0h1v1h-1zm1,0h1v1h-1zm1,0h1v1h-1zm1,0h1v1h-1zm1,1h1v1h-1zm1,1h1v1h-1zm1,1h1v1h-1zm1,1h1v1h-1zm1,1h1v1h-1zm1,1h1v1h-1zm1,1h1v1h-1zm1,1h1v1h-1zm1,0h1v1h-1zm1,1h1v1h-1zm1,0h1v1h-1zm1,0h1v1h-1zm1,0h1v1h-1zm1,-1h1v1h-1zm1,0h1v1h-1zm1,0h1v1h-1zm1,-1h1v1h-1zm1,-1h1v1h-1zm1,0h1v1h-1zm1,-1h1v1h-1zm1,-1h1v1h-1zm1,-1h1v1h-1zm1,-1h1v1h-1zm1,-1h1v1h-1zm1,-1h1v1h-1zm1,-2h1v2h-1zm1,-1h1v1h-1zm1,-1h1v1h-1zm1,-2h1v2h-1zm1,-2h1v2h-1zm1,-2h1v2h-1zm1,-2h1v2h-1zm1,-2h1v2h-1zm1,-2h1v2h-1zm1,-2h1v2h-1zm1,-1h1v1h-1zm1,-1h1v1h-1zm1,-2h1v2h-1zm1,-1h1v1h-1zm1,-1h1v1h-1zm1,-2h1v2h-1zm1,-1h1v1h-1zm1,-2h1v2h-1zm1,-2h1v2h-1zm1,-2h1v2h-1zm1,-2h1v2h-1zm1,-2h1v2h-1zm1,-3h1v3h-1zm1,-2h1v2h-1zm1,-2h1v2h-1zm1,-2h1v2h-1zm1,-2h1v2h-1zm1,-2h1v2h-1zm1,-2h1v2h-1zm1,-2h1v2h-1zm1,-2h1v2h-1zm1,-2h1v2h-1zm1,-2h1v2h-1zm1,-2h1v2h-1zm1,-2h1v2h-1zm1,-2h1v2h-1zm1,-2h1v2h-1zm1,-2h1v2h-1zm1,-2h1v2h-1zm1,-1h1v1h-1zm1,0h1v1h-1zm1,-1h1v1h-1zm1,0h1v1h-1zm1,1h1v1h-1zm1,0h1v1h-1zm1,1h1v1h-1zm1,0h1v1h-1zm1,1h1v1h-1zm1,1h1v1h-1zm1,0h1v1h-1zm1,1h1v1h-1zm1,1h1v1h-1zm1,1h1v2h-1zm1,2h1v1h-1zm1,1h1v1h-1zm1,1h1v1h-1zm1,1h1v1h-1zm1,1h1v1h-1zm1,1h1v1h-1zm1,1h1v2h-1zm1,2h1v2h-1zm1,2h1v2h-1zm1,2h1v1h-1zm1,1h1v2h-1zm1,2h1v2h-1zm1,2h1v2h-1zm1,2h1v1h-1zm1,1h1v2h-1zm1,2h1v1h-1zm1,1h1v2h-1zm1,2h1v1h-1zm1,1h1v2h-1zm1,2h1v2h-1zm1,2h1v2h-1zm1,2h1v1h-1zm1,1h1v2h-1zm1,2h1v2h-1zm1,2h1v2h-1zm1,2h1v3h-1zm1,3h1v3h-1zm1,3h1v2h-1zm1,2h1v3h-1zm1,3h1v3h-1zm1,3h1v2h-1zm1,2h1v3h-1zm1,3h1v2h-1zm1,2h1v2h-1zm1,2h1v2h-1zm1,2h1v1h-1zm1,1h1v2h-1zm1,2h1v1h-1zm1,1h1v1h-1zm1,1h1v2h-1zm1,2h1v1h-1zm1,1h1v1h-1zm1,1h1v1h-1zm1,0h1v1h-1zm1,1h1v1h-1zm1,0h1v1h-1zm1,0h1v1h-1zm1,1h1v1h-1zm1,0h1v1h-1zm1,0h1v1h-1zm1,1h1v1h-1zm1,0h1v1h-1zm1,1h1v1h-1zm1,0h1v1h-1zm1,1h1v1h-1zm1,1h1v1h-1zm1,0h1v1h-1zm1,1h1v1h-1zm1,0h1v1h-1zm1,1h1v1h-1zm1,0h1v1h-1zm1,0h1v1h-1zm1,-1h1v1h-1zm1,-1h1v1h-1zm1,0h1v1h-1zm1,-1h1v1h-1zm1,-1h1v1h-1zm1,-1h1v1h-1zm1,0h1v1h-1zm1,-1h1v1h-1zm1,0h1v1h-1zm1,0h1v1h-1zm1,0h1v1h-1zm1,0h1v1h-1zm1,0h1v1h-1zm1,0h1v1h-1zm1,0h1v1h-1zm1,0h1v1h-1zm1,0h1v1h-1zm1,0h1v1h-1zm1,0h1v1h-1zm1,0h1v1h-1zm1,-2h1v2h-1zm1,-2h1v2h-1zm1,-2h1v2h-1zm1,-3h1v3h-1zm1,-2h1v2h-1zm1,-2h1v2h-1zm1,-2h1v2h-1zm1,-2h1v2h-1zm1,-2h1v2h-1zm1,-1h1v1h-1zm1,-2h1v2h-1zm1,-1h1v1h-1zm1,-2h1v2h-1zm1,-1h1v1h-1zm1,-2h1v2h-1zm1,-1h1v1h-1zm1,-1h1v1h-1zm1,-2h1v2h-1zm1,-1h1v1h-1zm1,-1h1v1h-1zm1,-2h1v2h-1zm1,-1h1v1h-1zm1,-2h1v2h-1zm1,-1h1v1h-1zm1,-2h1v2h-1zm1,-1h1v1h-1zm1,-2h1v2h-1zm1,-1h1v1h-1zm1,-2h1v2h-1zm1,-1h1v1h-1zm1,-2h1v2h-1zm1,-1h1v1h-1zm1,-1h1v1h-1zm1,-1h1v1h-1zm1,0h1v1h-1zm1,-1h1v1h-1zm1,-1h1v1h-1zm1,0h1v1h-1zm1,-1h1v1h-1zm1,0h1v1h-1zm1,-1h1v1h-1zm1,-1h1v1h-1zm1,-1h1v1h-1zm1,-1h1v1h-1zm1,-2h1v2h-1zm1,-1h1v1h-1zm1,-2h1v2h-1zm1,-1h1v1h-1zm1,-2h1v2h-1zm1,-2h1v2h-1zm1,-2h1v2h-1zm1,-3h1v3h-1zm1,-2h1v2h-1zm1,-2h1v2h-1zm1,-2h1v2h-1zm1,-2h1v2h-1zm1,-1h1v1h-1zm1,-2h1v2h-1zm1,-1h1v1h-1zm1,-1h1v1h-1zm1,-1h1v1h-1zm1,-1h1v1h-1zm1,-1h1v1h-1zm1,-1h1v1h-1zm1,-1h1v1h-1zm1,0h1v1h-1zm1,-1h1v1h-1zm1,0h1v1h-1zm1,-1h1v1h-1zm1,0h1v1h-1zm1,-1h1v1h-1zm1,0h1v1h-1zm1,0h1v1h-1zm1,-1h1v1h-1zm1,0h1v1h-1zm1,0h1v1h-1zm1,0h1v1h-1zm1,-1h1v1h-1zm1,0h1v1h-1zm1,0h1v1h-1zm1,-1h1v1h-1zm1,0h1v1h-1zm1,-1h1v1h-1zm1,0h1v1h-1zm1,0h1v1h-1zm1,-1h1v1h-1zm1,0h1v1h-1zm1,0h1v1h-1zm1,-1h1v1h-1zm1,0h1v1h-1zm1,-1h1v1h-1zm1,0h1v1h-1zm1,0h1v1h-1zm1,1h1v1h-1zm1,0h1v1h-1zm1,0h1v1h-1zm1,1h1v1h-1zm1,1h1v2h-1zm1,2h1v1h-1zm1,1h1v1h-1zm1,1h1v1h-1zm1,1h1v1h-1zm1,1h1v1h-1zm1,1h1v1h-1zm1,1h1v1h-1zm1,1h1v1h-1zm1,1h1v1h-1zm1,1h1v1h-1zm1,1h1v2h-1zm1,2h1v1h-1zm1,1h1v2h-1zm1,2h1v1h-1zm1,1h1v1h-1zm1,1h1v2h-1zm1,2h1v1h-1zm1,1h1v1h-1zm1,1h1v2h-1zm1,2h1v1h-1zm1,1h1v2h-1zm1,2h1v1h-1zm1,1h1v1h-1zm1,1h1v2h-1zm1,2h1v1h-1zm1,1h1v1h-1zm1,1h1v2h-1zm1,2h1v2h-1zm1,2h1v2h-1zm1,2h1v1h-1zm1,1h1v2h-1zm1,2h1v1h-1zm1,1h1v2h-1zm1,2h1v1h-1zm1,1h1v1h-1zm1,1h1v2h-1zm1,2h1v1h-1zm1,1h1v1h-1zm1,1h1v1h-1zm1,1h1v1h-1zm1,1h1v1h-1zm1,1h1v1h-1zm1,1h1v1h-1zm1,1h1v2h-1zm1,2h1v1h-1zm1,1h1v1h-1zm1,1h1v1h-1zm1,1h1v1h-1zm1,1h1v1h-1zm1,1h1v1h-1zm1,1h1v1h-1zm1,1h1v1h-1zm1,1h1v1h-1zm1,1h1v1h-1zm1,0h1v1h-1zm1,1h1v1h-1zm1,0h1v1h-1zm1,0h1v1h-1zm1,0h1v1h-1zm1,0h1v1h-1zm1,0h1v1h-1zm1,0h1v1h-1zm1,0h1v1h-1zm1,-1h1v1h-1zm1,0h1v1h-1zm1,0h1v1h-1zm1,-1h1v1h-1zm1,0h1v1h-1zm1,-1h1v1h-1zm1,0h1v1h-1zm1,0h1v1h-1zm1,0h1v1h-1zm1,0h1v1h-1zm1,0h1v1h-1zm1,-1h1v1h-1zm1,0h1v1h-1zm1,-1h1v1h-1zm1,0h1v1h-1zm1,-1h1v1h-1zm1,0h1v1h-1zm1,-1h1v1h-1zm1,0h1v1h-1zm1,-1h1v1h-1zm1,-1h1v1h-1zm1,0h1v1h-1zm1,-1h1v1h-1zm1,0h1v1h-1zm1,-1h1v1h-1zm1,0h1v1h-1zm1,0h1v1h-1zm1,-1h1v1h-1zm1,-2h1v2h-1zm1,-1h1v1h-1zm1,-1h1v1h-1zm1,-2h1v2h-1zm1,-2h1v2h-1zm1,-2h1v2h-1zm1,-1h1v1h-1zm1,-2h1v2h-1zm1,-1h1v1h-1zm1,-2h1v2h-1zm1,-1h1v1h-1zm1,-2h1v2h-1zm1,-1h1v1h-1zm1,-2h1v2h-1zm1,-1h1v1h-1zm1,-2h1v2h-1zm1,-2h1v2h-1zm1,-2h1v2h-1zm1,-2h1v2h-1zm1,-2h1v2h-1zm1,-1h1v1h-1zm1,-2h1v2h-1zm1,-1h1v1h-1zm1,-1h1v1h-1zm1,0h1v1h-1zm1,-1h1v1h-1zm1,0h1v1h-1zm1,-1h1v1h-1zm1,-1h1v1h-1zm1,0h1v1h-1zm1,-1h1v1h-1zm1,-1h1v1h-1zm1,-1h1v1h-1zm1,0h1v1h-1zm1,-1h1v1h-1zm1,-1h1v1h-1zm1,-2h1v2h-1zm1,-1h1v1h-1zm1,-1h1v1h-1zm1,-1h1v1h-1zm1,-2h1v2h-1zm1,-1h1v1h-1zm1,-1h1v1h-1zm1,-1h1v1h-1zm1,-2h1v2h-1zm1,-1h1v1h-1zm1,-1h1v1h-1zm1,-2h1v2h-1zm1,-1h1v1h-1zm1,-2h1v2h-1zm1,-1h1v1h-1zm1,-2h1v2h-1zm1,-2h1v2h-1zm1,-2h1v2h-1zm1,-2h1v2h-1zm1,-2h1v2h-1zm1,-2h1v2h-1zm1,-2h1v2h-1zm1,-2h1v2h-1zm1,-1h1v1h-1zm1,-1h1v1h-1zm1,-1h1v1h-1zm1,-1h1v1h-1zm1,-2h1v2h-1zm1,-2h1v2h-1zm1,-2h1v2h-1zm1,-2h1v2h-1zm1,-2h1v2h-1zm1,-2h1v2h-1zm1,-2h1v2h-1zm1,-1h1v1h-1z" fill="#ff0000"/>
<path d="M3,85h1v1h-1zm1,0h1v1h-1zm1,0h1v1h-1zm1,0h1v1h-1zm1,0h1v1h-1zm1,0h1v1h-1zm1,-1h1v1h-1zm1,0h1v1h-1zm1,0h1v1h-1zm1,0h1v1h-1zm1,1h1v1h-1zm1,0h1v1h-1zm1,0h1v1h-1zm1,0h1v1h-1zm1,1h1v1h-1zm1,0h1v1h-1zm1,0h1v1h-1zm1,0h1v1h-1zm1,1h1v1h-1zm1,0h1v1h-1zm1,0h1v1h-1zm1,1h1v1h-1zm1,0h1v1h-1zm1,1h1v1h-1zm1,0h1v1h-1zm1,1h1v1h-1zm1,0h1v1h-1zm1,1h1v1h-1zm1,0h1v1h-1zm1,0h1v1h-1zm1,1h1v1h-1zm1,0h1v1h-1zm1,0h1v1h-1zm1,0h1v1h-1zm1,1h1v1h-1zm1,0h1v1h-1zm1,0h1v1h-1zm1,0h1v1h-1zm1,1h1v1h-1zm1,0h1v1h-1zm1,0h1v1h-1zm1,1h1v1h-1zm1,0h1v1h-1zm1,1h1v1h-1zm1,0h1v1h-1zm1,1h1v1h-1zm1,1h1v2h-1zm1,2h1v1h-1zm1,1h1v1h-1zm1,1h1v2h-1zm1,2h1v1h-1zm1,1h1v2h-1zm1,2h1v1h-1zm1,1h1v2h-1zm1,2h1v2h-1zm1,2h1v2h-1zm1,2h1v1h-1zm1,1h1v2h-1zm1,2h1v2h-1zm1,2h1v2h-1zm1,2h1v1h-1zm1,1h1v2h-1zm1,2h1v2h-1zm1,2h1v2h-1zm1,2h1v1h-1zm1,1h1v2h-1zm1,2h1v1h-1zm1,1h1v2h-1zm1,2h1v1h-1zm1,1h1v2h-1zm1,2h1v2h-1zm1,2h1v2h-1zm1,2h1v1h-1zm1,1h1v1h-1zm1,1h1v2h-1zm1,2h1v1h-1zm1,1h1v1h-1zm1,1h1v1h-1zm1,1h1v1h-1zm1,1h1v1h-1zm1,1h1v1h-1zm1,1h1v1h-1zm1,1h1v1h-1zm1,1h1v1h-1zm1,1h1v1h-1zm1,1h1v2h-1zm1,2h1v1h-1zm1,1h1v2h-1zm1,2h1v1h-1zm1,1h1v2h-1zm1,2h1v2h-1zm1,2h1v2h-1zm1,2h1v1h-1zm1,1h1v2h-1zm1,2h1v2h-1zm1,2h1v2h-1zm1,2h1v2h-1zm1,2h1v2h-1zm1,2h1v1h-1zm1,1h1v2h-1zm1,2h1v1h-1zm1,1h1v2h-1zm1,2h1v1h-1zm1,1h1v2h-1zm1,2h1v1h-1zm1,1h1v2h-1zm1,2h1v1h-1zm1,1h1v2h-1zm1,2h1v1h-1zm1,1h1v1h-1zm1,1h1v2h-1zm1,2h1v1h-1zm1,1h1v1h-1zm1,1h1v1h-1zm1,1h1v1h-1zm1,1h1v1h-1zm1,1h1v1h-1zm1,0h1v1h-1zm1,0h1v1h-1zm1,0h1v1h-1zm1,0h1v1h-1zm1,0h1v1h-1zm1,1h1v1h-1zm1,0h1v1h-1zm1,0h1v1h-1zm1,0h1v1h-1zm1,0h1v1h-1zm1,0h1v1h-1zm1,0h1v1h-1zm1,0h1v1h-1zm1,-1h1v1h-1zm1,0h1v1h-1zm1,0h1v1h-1zm1,0h1v1h-1zm1,0h1v1h-1zm1,0h1v1h-1zm1,0h1v1h-1zm1,1h1v1h-1zm1,0h1v1h-1zm1,1h1v1h-1zm1,0h1v1h-1zm1,1h1v1h-1zm1,0h1v1h-1zm1,1h1v1h-1zm1,0h1v1h-1zm1,0h1v1h-1zm1,-1h1v1h-1zm1,0h1v1h-1zm1,0h1v1h-1zm1,0h1v1h-1zm1,1h1v1h-1zm1,0h1v1h-1zm1,0h1v1h-1zm1,0h1v1h-1zm1,0h1v1h-1zm1,0h1v1h-1zm1,0h1v1h-1zm1,0h1v1h-1zm1,1h1v1h-1zm1,0h1v1h-1zm1,0h1v1h-1zm1,1h1v1h-1zm1,0h1v1h-1zm1,1h1v1h-1zm1,0h1v1h-1zm1,0h1v1h-1zm1,0h1v1h-1zm1,0h1v1h-1zm1,0h1v1h-1zm1,-1h1v1h-1zm1,-1h1v1h-1zm1,0h1v1h-1zm1,-1h1v1h-1zm1,-1h1v1h-1zm1,-1h1v1h-1zm1,-1h1v1h-1zm1,-1h1v1h-1zm1,-1h1v1h-1zm1,-1h1v1h-1zm1,0h1v1h-1zm1,-1h1v1h-1zm1,-1h1v1h-1zm1,-1h1v1h-1zm1,0h1v1h-1zm1,-1h1v1h-1zm1,-1h1v1h-1zm1,-1h1v1h-1zm1,-1h1v1h-1zm1,-1h1v1h-1zm1,-2h1v2h-1zm1,-2h1v2h-1zm1,-2h1v2h-1zm1,-1h1v1h-1zm1,-2h1v2h-1zm1,-2h1v2h-1zm1,-2h1v2h-1zm1,-1h1v1h-1zm1,-1h1v1h-1zm1,-2h1v2h-1zm1,-1h1v1h-1zm1,-1h1v1h-1zm1,-1h1v1h-1zm1,-2h1v2h-1zm1,-1h1v1h-1zm1,-1h1v1h-1zm1,-2h1v2h-1zm1,-1h1v1h-1zm1,-2h1v2h-1zm1,-1h1v1h-1zm1,-1h1v1h-1zm1,-1h1v1h-1zm1,-1h1v1h-1zm1,-1h1v1h-1zm1,-1h1v1h-1zm1,-1h1v1h-1zm1,0h1v1h-1zm1,-1h1v1h-1zm1,0h1v1h-1zm1,1h1v1h-1zm1,0h1v1h-1zm1,0h1v1h-1zm1,0h1v1h-1zm1,1h1v1h-1zm1,0h1v1h-1zm1,0h1v1h-1zm1,1h1v1h-1zm1,0h1v1h-1zm1,1h1v1h-1zm1,0h1v1h-1zm1,0h1v1h-1zm1,1h1v1h-1zm1,0h1v1h-1zm1,0h1v1h-1zm1,0h1v1h-1zm1,1h1v1h-1zm1,0h1v1h-1zm1,0h1v1h-1zm1,1h1v1h-1zm1,1h1v1h-1zm1,0h1v1h-1zm1,1h1v1h-1zm1,1h1v1h-1zm1,0h1v1h-1zm1,1h1v1h-1zm1,0h1v1h-1zm1,1h1v1h-1zm1,0h1v1h-1zm1,1h1v1h-1zm1,0h1v1h-1zm1,1h1v1h-1zm1,0h1v1h-1zm1,1h1v1h-1zm1,0h1v1h-1zm1,1h1v1h-1zm1,0h1v1h-1zm1,1h1v1h-1zm1,0h1v1h-1zm1,0h1v1h-1zm1,0h1v1h-1zm1,0h1v1h-1zm1,0h1v1h-1zm1,1h1v1h-1zm1,0h1v1h-1zm1,1h1v1h-1zm1,0h1v1h-1zm1,0h1v1h-1zm1,1h1v1h-1zm1,0h1v1h-1zm1,0h1v1h-1zm1,0h1v1h-1zm1,1h1v1h-1zm1,0h1v1h-1zm1,0h1v1h-1zm1,0h1v1h-1zm1,0h1v1h-1zm1,0h1v1h-1zm1,0h1v1h-1zm1,0h1v1h-1zm1,-1h1v1h-1zm1,0h1v1h-1zm1,0h1v1h-1zm1,0h1v1h-1zm1,-1h1v1h-1zm1,0h1v1h-1zm1,0h1v1h-1zm1,0h1v1h-1zm1,0h1v1h-1zm1,0h1v1h-1zm1,0h1v1h-1zm1,1h1v1h-1zm1,0h1v1h-1zm1,1h1v1h-1zm1,0h1v1h-1zm1,1h1v1h-1zm1,1h1v1h-1zm1,0h1v1h-1zm1,1h1v1h-1zm1,1h1v1h-1zm1,1h1v1h-1zm1,0h1v1h-1zm1,1h1v1h-1zm1,1h1v1h-1zm1,0h1v1h-1zm1,1h1v1h-1zm1,0h1v1h-1zm1,1h1v1h-1zm1,1h1v1h-1zm1,1h1v1h-1zm1,1h1v1h-1zm1,1h1v2h-1zm1,2h1v2h-1zm1,2h1v2h-1zm1,2h1v2h-1zm1,2h1v2h-1zm1,2h1v1h-1zm1,1h1v2h-1zm1,2h1v1h-1zm1,1h1v1h-1zm1,1h1v2h-1zm1,2h1v1h-1zm1,1h1v1h-1zm1,1h1v1h-1zm1,1h1v2h-1zm1,2h1v1h-1zm1,1h1v1h-1zm1,1h1v1h-1zm1,1h1v1h-1zm1,1h1v1h-1zm1,1h1v1h-1zm1,1h1v1h-1zm1,0h1v1h-1zm1,1h1v1h-1zm1,0h1v1h-1zm1,0h1v1h-1zm1,1h1v1h-1zm1,0h1v1h-1zm1,0h1v1h-1zm1,0h1v1h-1zm1,0h1v1h-1zm1,0h1v1h-1zm1,0h1v1h-1zm1,0h1v1h-1zm1,0h1v1h-1zm1,0h1v1h-1zm1,0h1v1h-1zm1,0h1v1h-1zm1,-1h1v1h-1zm1,0h1v1h-1zm1,0h1v1h-1zm1,0h1v1h-1zm1,-1h1v1h-1zm1,0h1v1h-1zm1,0h1v1h-1zm1,0h1v1h-1zm1,1h1v1h-1zm1,0h1v1h-1zm1,0h1v1h-1zm1,0h1v1h-1zm1,-1h1v1h-1zm1,0h1v1h-1zm1,0h1v1h-1zm1,0h1v1h-1zm1,1h1v1h-1zm1,0h1v1h-1zm1,0h1v1h-1zm1,1h1v1h-1zm1,0h1v1h-1zm1,1h1v1h-1zm1,0h1v1h-1zm1,0h1v1h-1zm1,1h1v1h-1zm1,0h1v1h-1zm1,0h1v1h-1zm1,0h1v1h-1zm1,0h1v1h-1zm1,0h1v1h-1zm1,0h1v1h-1zm1,1h1v1h-1zm1,0h1v1h-1zm1,1h1v1h-1zm1,0h1v1h-1zm1,0h1v1h-1zm1,1h1v1h-1zm1,0h1v1h-1zm1,0h1v1h-1zm1,0h1v1h-1zm1,1h1v1h-1zm1,0h1v1h-1zm1,0h1v1h-1zm1,0h1v1h-1zm1,1h1v1h-1zm1,0h1v1h-1zm1,0h1v1h-1zm1,0h1v1h-1zm1,1h1v1h-1zm1,0h1v1h-1zm1,0h1v1h-1zm1,1h1v1h-1zm1,1h1v1h-1zm1,0h1v1h-1zm1,1h1v1h-1zm1,0h1v1h-1zm1,1h1v1h-1zm1,0h1v1h-1zm1,0h1v1h-1zm1,0h1v1h-1zm1,0h1v1h-1zm1,0h1v1h-1zm1,0h1v1h-1zm1,0h1v1h-1zm1,0h1v1h-1zm1,0h1v1h-1zm1,0h1v1h-1zm1,0h1v1h-1zm1,-1h1v1h-1zm1,0h1v1h-1zm1,0h1v1h-1zm1,0h1v1h-1zm1,-1h1v1h-1zm1,0h1v1h-1zm1,0h1v1h-1zm1,-1h1v1h-1zm1,0h1v1h-1zm1,-1h1v1h-1zm1,0h1v1h-1zm1,-1h1v1h-1zm1,-1h1v1h-1zm1,-1h1v1h-1zm1,-1h1v1h-1zm1,-1h1v1h-1zm1,0h1v1h-1zm1,-1h1v1h-1zm1,0h1v1h-1zm1,-1h1v1h-1zm1,-1h1v1h-1zm1,-1h1v1h-1zm1,-1h1v1h-1zm1,-1h1v1h-1zm1,-1h1v1h-1zm1,-1h1v1h-1zm1,-1h1v1h-1zm1,-1h1v1h-1zm1,-1h1v1h-1zm1,0h1v1h-1zm1,-1h1v1h-1zm1,-1h1v1h-1zm1,0h1v1h-1zm1,-1h1v1h-1zm1,0h1v1h-1zm1,-1h1v1h-1zm1,-1h1v1h-1zm1,0h1v1h-1zm1,-1h1v1h-1zm1,-1h1v1h-1zm1,0h1v1h-1zm1,-1h1v1h-1zm1,0h1v1h-1zm1,-1h1v1h-1zm1,0h1v1h-1zm1,-1h1v1h-1zm1,0h1v1h-1zm1,0h1v1h-1zm1,-1h1v1h-1zm1,0h1v1h-1zm1,0h1v1h-1zm1,0h1v1h-1zm1,-1h1v1h-1zm1,0h1v1h-1zm1,0h1v1h-1zm1,0h1v1h-1zm1,0h1v1h-1zm1,0h1v1h-1zm1,0h1v1h-1zm1,1h1v1h-1zm1,0h1v1h-1zm1,1h1v1h-1zm1,0h1v1h-1zm1,1h1v1h-1zm1,1h1v1h-1zm1,0h1v1h-1zm1,1h1v1h-1zm1,0h1v1h-1zm1,1h1v1h-1zm1,0h1v1h-1zm1,0h1v1h-1zm1,0h1v1h-1zm1,1h1v1h-1zm1,0h1v1h-1zm1,0h1v1h-1zm1,1h1v1h-1zm1,0h1v1h-1zm1,1h1v1h-1zm1,0h1v1h-1zm1,1h1v1h-1zm1,1h1v1h-1zm1,0h1v1h-1zm1,1h1v1h-1zm1,0h1v1h-1zm1,0h1v1h-1zm1,0h1v1h-1zm1,0h1v1h-1zm1,1h1v1h-1zm1,1h1v1h-1zm1,0h1v1h-1zm1,1h1v1h-1zm1,1h1v1h-1zm1,0h1v1h-1zm1,1h1v1h-1zm1,0h1v1h-1zm1,1h1v1h-1zm1,0h1v1h-1zm1,1h1v1h-1zm1,0h1v1h-1zm1,1h1v1h-1zm1,1h1v1h-1zm1,1h1v1h-1zm1,1h1v1h-1zm1,0h1v1h-1zm1,1h1v1h-1zm1,0h1v1h-1zm1,0h1v1h-1zm1,1h1v1h-1zm1,1h1v1h-1zm1,1h1v1h-1zm1,1h1v1h-1zm1,1h1v1h-1zm1,1h1v1h-1zm1,1h1v1h-1zm1,1h1v1h-1zm1,1h1v1h-1zm1,0h1v1h-1zm1,1h1v1h-1zm1,0h1v1h-1zm1,1h1v1h-1zm1,1h1v1h-1zm1,0h1v1h-1zm1,1h1v1h-1zm1,1h1v1h-1zm1,1h1v2h-1zm1,2h1v1h-1zm1,1h1v1h-1zm1,1h1v1h-1zm1,1h1v2h-1zm1,2h1v1h-1zm1,1h1v1h-1zm1,1h1v2h-1zm1,2h1v2h-1zm1,2h1v2h-1zm1,2h1v1h-1zm1,1h1v2h-1zm1,2h1v1h-1zm1,1h1v2h-1zm1,2h1v2h-1zm1,2h1v2h-1zm1,2h1v2h-1zm1,2h1v2h-1zm1,2h1v2h-1zm1,2h1v2h-1zm1,2h1v2h-1zm1,2h1v2h-1zm1,2h1v2h-1zm1,2h1v2h-1zm1,2h1v2h-1zm1,2h1v2h-1zm1,2h1v2h-1zm1,2h1v2h-1zm1,2h1v2h-1zm1,2h1v2h-1zm1,2h1v2h-1zm1,2h1v2h-1zm1,2h1v2h-1zm1,2h1v2h-1zm1,2h1v2h-1zm1,2h1v2h-1zm1,2h1v2h-1zm1,2h1v2h-1zm1,2h1v1h-1zm1,1h1v2h-1zm1,2h1v2h-1zm1,2h1v2h-1zm1,2h1v1h-1zm1,1h1v2h-1zm1,2h1v1h-1zm1,1h1v2h-1zm1,2h1v1h-1zm1,1h1v2h-1zm1,2h1v1h-1zm1,1h1v2h-1zm1,2h1v1h-1zm1,1h1v1h-1zm1,1h1v2h-1zm1,2h1v1h-1zm1,1h1v1h-1zm1,1h1v1h-1zm1,1h1v1h-1zm1,0h1v1h-1zm1,1h1v1h-1zm1,1h1v1h-1zm1,1h1v1h-1zm1,0h1v1h-1zm1,1h1v1h-1zm1,1h1v1h-1zm1,1h1v1h-1zm1,0h1v1h-1zm1,1h1v1h-1zm1,1h1v1h-1zm1,1h1v1h-1zm1,0h1v1h-1zm1,1h1v1h-1zm1,1h1v1h-1zm1,0h1v1h-1zm1,1h1v1h-1zm1,0h1v1h-1zm1,1h1v1h-1zm1,0h1v1h-1zm1,1h1v1h-1zm1,0h1v1h-1zm1,1h1v1h-1zm1,0h1v1h-1zm1,1h1v1h-1zm1,0h1v1h-1zm1,0h1v1h-1zm1,0h1v1h-1zm1,0h1v1h-1zm1,0h1v1h-1zm1,0h1v1h-1zm1,1h1v1h-1zm1,0h1v1h-1zm1,0h1v1h-1zm1,0h1v1h-1zm1,0h1v1h-1zm1,0h1v1h-1zm1,0h1v1h-1zm1,0h1v1h-1zm1,1h1v1h-1zm1,0h1v1h-1zm1,0h1v1h-1zm1,0h1v1h-1zm1,1h1v1h-1zm1,0h1v1h-1zm1,0h1v1h-1zm1,1h1v1h-1zm1,0h1v1h-1zm1,1h1v1h-1zm1,0h1v1h-1zm1,1h1v1h-1zm1,0h1v1h-1zm1,1h1v1h-1zm1,0h1v1h-1zm1,1h1v1h-1zm1,1h1v1h-1zm1,0h1v1h-1zm1,1h1v1h-1zm1,1h1v1h-1zm1,1h1v1h-1zm1,1h1v1h-1zm1,1h1v1h-1zm1,1h1v1h-1zm1,0h1v1h-1zm1,1h1v1h-1zm1,0h1v1h-1zm1,1h1v1h-1zm1,0h1v1h-1zm1,1h1v1h-1zm1,0h1v1h-1zm1,1h1v1h-1zm1,0h1v1h-1zm1,1h1v1h-1zm1,0h1v1h-1zm1,0h1v1h-1zm1,0h1v1h-1zm1,0h1v1h-1zm1,0h1v1h-1zm1,-1h1v1h-1zm1,0h1v1h-1zm1,-1h1v1h-1zm1,0h1v1h-1zm1,0h1v1h-1zm1,-1h1v1h-1zm1,0h1v1h-1zm1,0h1v1h-1zm1,-1h1v1h-1zm1,0h1v1h-1zm1,-1h1v1h-1zm1,0h1v1h-1zm1,-1h1v1h-1zm1,0h1v1h-1zm1,-1h1v1h-1zm1,0h1v1h-1zm1,-1h1v1h-1zm1,-1h1v1h-1zm1,-1h1v1h-1zm1,-1h1v1h-1zm1,-1h1v1h-1zm1,0h1v1h-1zm1,-1h1v1h-1zm1,0h1v1h-1zm1,-1h1v1h-1zm1,-1h1v1h-1zm1,0h1v1h-1zm1,-1h1v1h-1zm1,-1h1v1h-1zm1,-1h1v1h-1zm1,0h1v1h-1zm1,-1h1v1h-1zm1,0h1v1h-1zm1,-1h1v1h-1zm1,0h1v1h-1zm1,0h1v1h-1zm1,-1h1v1h-1zm1,0h1v1h-1zm1,-1h1v1h-1zm1,0h1v1h-1zm1,-1h1v1h-1zm1,-1h1v1h-1zm1,0h1v1h-1zm1,-1h1v1h-1zm1,-1h1v1h-1zm1,-1h1v1h-1zm1,0h1v1h-1zm1,-1h1v1h-1zm1,0h1v1h-1zm1,-1h1v1h-1zm1,0h1v1h-1zm1,0h1v1h-1zm1,0h1v1h-1zm1,-1h1v1h-1zm1,0h1v1h-1zm1,0h1v1h-1zm1,0h1v1h-1zm1,-1h1v1h-1zm1,0h1v1h-1zm1,0h1v1h-1zm1,1h1v1h-1zm1,0h1v1h-1zm1,1h1v1h-1zm1,0h1v1h-1zm1,0h1v1h-1zm1,0h1v1h-1zm1,0h1v1h-1zm1,0h1v1h-1zm1,0h1v1h-1zm1,0h1v1h-1zm1,0h1v1h-1zm1,0h1v1h-1zm1,0h1v1h-1zm1,0h1v1h-1zm1,0h1v1h-1zm1,0h1v1h-1zm1,0h1v1h-1zm1,0h1v1h-1zm1,0h1v1h-1zm1,0h1v1h-1zm1,-1h1v1h-1zm1,0h1v1h-1zm1,-1h1v1h-1zm1,0h1v1h-1zm1,-1h1v1h-1zm1,0h1v1h-1zm1,-1h1v1h-1zm1,0h1v1h-1zm1,-1h1v1h-1zm1,0h1v1h-1zm1,-1h1v1h-1zm1,0h1v1h-1zm1,-1h1v1h-1zm1,-1h1v1h-1zm1,-1h1v1h-1zm1,-1h1v1h-1zm1,-1h1v1h-1zm1,-2h1v2h-1zm1,-1h1v1h-1zm1,-1h1v1h-1zm1,-1h1v1h-1zm1,-2h1v2h-1zm1,-1h1v1h-1zm1,-1h1v1h-1zm1,-1h1v1h-1zm1,-2h1v2h-1zm1,-1h1v1h-1zm1,-1h1v1h-1zm1,-1h1v1h-1zm1,-1h1v1h-1zm1,-1h1v1h-1zm1,-1h1v1h-1zm1,-1h1v1h-1zm1,-1h1v1h-1zm1,0h1v1h-1zm1,-1h1v1h-1zm1,0h1v1h-1zm1,-1h1v1h-1zm1,0h1v1h-1zm1,0h1v1h-1zm1,0h1v1h-1zm1,1h1v1h-1zm1,0h1v1h-1zm1,0h1v1h-1zm1,0h1v1h-1zm1,0h1v1h-1zm1,0h1v1h-1zm1,0h1v1h-1zm1,1h1v1h-1zm1,0h1v1h-1zm1,1h1v1h-1zm1,0h1v1h-1zm1,1h1v1h-1zm1,1h1v1h-1zm1,0h1v1h-1zm1,1h1v1h-1zm1,1h1v1h-1zm1,1h1v1h-1zm1,0h1v1h-1zm1,1h1v1h-1zm1,1h1v1h-1zm1,1h1v1h-1zm1,1h1v1h-1zm1,1h1v1h-1zm1,1h1v1h-1zm1,1h1v2h-1zm1,2h1v1h-1zm1,1h1v1h-1zm1,1h1v2h-1zm1,2h1v2h-1zm1,2h1v2h-1zm1,2h1v1h-1zm1,1h1v1h-1zm1,1h1v2h-1zm1,2h1v1h-1zm1,1h1v1h-1zm1,1h1v2h-1zm1,2h1v1h-1zm1,1h1v2h-1zm1,2h1v1h-1zm1,1h1v2h-1zm1,2h1v2h-1zm1,2h1v2h-1zm1,2h1v2h-1zm1,2h1v2h-1zm1,2h1v1h-1zm1,1h1v2h-1zm1,2h1v1h-1zm1,1h1v1h-1zm1,1h1v1h-1zm1,1h1v1h-1zm1,1h1v1h-1zm1,1h1v2h-1zm1,2h1v1h-1zm1,1h1v2h-1zm1,2h1v1h-1zm1,1h1v2h-1zm1,2h1v1h-1zm1,1h1v2h-1zm1,2h1v1h-1zm1,1h1v1h-1zm1,1h1v1h-1zm1,0h1v1h-1zm1,1h1v1h-1zm1,1h1v2h-1zm1,2h1v1h-1zm1,1h1v2h-1zm1,2h1v1h-1zm1,1h1v2h-1zm1,2h1v1h-1zm1,1h1v2h-1zm1,2h1v1h-1zm1,1h1v2h-1zm1,2h1v1h-1zm1,1h1v2h-1zm1,2h1v1h-1zm1,1h1v2h-1zm1,2h1v2h-1zm1,2h1v2h-1zm1,2h1v1h-1zm1,1h1v2h-1zm1,2h1v2h-1zm1,2h1v2h-1zm1,2h1v1h-1zm1,1h1v2h-1zm1,2h1v2h-1zm1,2h1v2h-1zm1,2h1v1h-1zm1,1h1v2h-1zm1,2h1v2h-1zm1,2h1v2h-1zm1,2h1v1h-1zm1,1h1v2h-1zm1,2h1v2h-1zm1,2h1v2h-1zm1,2h1v2h-1zm1,2h1v2h-1zm1,2h1v2h-1zm1,2h1v2h-1zm1,2h1v2h-1zm1,2h1v2h-1zm1,2h1v2h-1zm1,2h1v2h-1zm1,2h1v2h-1zm1,2h1v2h-1zm1,2h1v2h-1zm1,2h1v2h-1zm1,2h1v1h-1zm1,1h1v2h-1zm1,2h1v2h-1zm1,2h1v2h-1zm1,2h1v1h-1zm1,1h1v2h-1zm1,2h1v2h-1zm1,2h1v2h-1zm1,2h1v1h-1zm1,1h1v2h-1zm1,2h1v1h-1zm1,1h1v2h-1zm1,2h1v1h-1zm1,1h1v1h-1zm1,1h1v2h-1zm1,2h1v1h-1zm1,1h1v1h-1zm1,1h1v1h-1zm1,1h1v2h-1zm1,2h1v1h-1zm1,1h1v1h-1zm1,1h1v1h-1zm1,1h1v2h-1zm1,2h1v1h-1zm1,1h1v1h-1zm1,1h1v1h-1zm1,1h1v1h-1zm1,0h1v1h-1zm1,1h1v1h-1zm1,1h1v1h-1zm1,1h1v1h-1zm1,0h1v1h-1zm1,1h1v1h-1zm1,0h1v1h-1zm1,1h1v1h-1zm1,0h1v1h-1zm1,0h1v1h-1zm1,0h1v1h-1zm1,-1h1v1h-1zm1,0h1v1h-1zm1,0h1v1h-1zm1,-1h1v1h-1zm1,0h1v1h-1zm1,-1h1v1h-1zm1,0h1v1h-1zm1,-1h1v1h-1zm1,-1h1v1h-1zm1,0h1v1h-1zm1,-1h1v1h-1zm1,-1h1v1h-1zm1,0h1v1h-1zm1,-1h1v1h-1zm1,0h1v1h-1zm1,-1h1v1h-1zm1,-1h1v1h-1zm1,0h1v1h-1zm1,-1h1v1h-1zm1,-1h1v1h-1zm1,0h1v1h-1zm1,-1h1v1h-1zm1,0h1v1h-1zm1,-1h1v1h-1zm1,-1h1v1h-1zm1,0h1v1h-1zm1,-1h1v1h-1zm1,-1h1v1h-1zm1,0h1v1h-1zm1,-1h1v1h-1zm1,0h1v1h-1zm1,-1h1v1h-1zm1,-1h1v1h-1zm1,0h1v1h-1zm1,-1h1v1h-1zm1,-1h1v1h-1zm1,0h1v1h-1zm1,-1h1v1h-1zm1,0h1v1h-1zm1,-1h1v1h-1zm1,-1h1v1h-1zm1,0h1v1h-1zm1,-1h1v1h-1zm1,0h1v1h-1zm1,0h1v1h-1zm1,0h1v1h-1zm1,0h1v1h-1zm1,0h1v1h-1zm1,0h1v1h-1zm1,0h1v1h-1zm1,0h1v1h-1zm1,0h1v1h-1zm1,1h1v1h-1zm1,0h1v1h-1zm1,0h1v1h-1zm1,0h1v1h-1zm1,0h1v1h-1zm1,0h1v1h-1zm1,0h1v1h-1zm1,0h1v1h-1zm1,-1h1v1h-1zm1,0h1v1h-1zm1,0h1v1h-1zm1,0h1v1h-1zm1,1h1v1h-1zm1,0h1v1h-1zm1,0h1v1h-1zm1,0h1v1h-1zm1,1h1v1h-1zm1,0h1v1h-1zm1,0h1v1h-1zm1,0h1v1h-1zm1,-1h1v1h-1zm1,0h1v1h-1zm1,0h1v1h-1zm1,0h1v1h-1zm1,0h1v1h-1zm1,0h1v1h-1zm1,0h1v1h-1zm1,0h1v1h-1zm1,1h1v1h-1zm1,0h1v1h-1zm1,0h1v1h-1zm1,0h1v1h-1zm1,1h1v1h-1zm1,0h1v1h-1zm1,0h1v1h-1zm1,1h1v1h-1zm1,0h1v1h-1zm1,1h1v1h-1zm1,0h1v1h-1zm1,0h1v1h-1zm1,-1h1v1h-1zm1,0h1v1h-1zm1,0h1v1h-1zm1,0h1v1h-1zm1,-1h1v1h-1zm1,0h1v1h-1zm1,0h1v1h-1zm1,0h1v1h-1zm1,-1h1v1h-1zm1,0h1v1h-1zm1,0h1v1h-1zm1,0h1v1h-1zm1,-1h1v1h-1zm1,0h1v1h-1zm1,0h1v1h-1zm1,0h1v1h-1zm1,1h1v1h-1zm1,0h1v1h-1zm1,0h1v1h-1zm1,1h1v1h-1zm1,0h1v1h-1zm1,1h1v1h-1zm1,0h1v1h-1zm1,0h1v1h-1zm1,1h1v1h-1zm1,0h1v1h-1zm1,0h1v1h-1zm1,1h1v1h-1zm1,0h1v1h-1zm1,1h1v1h-1zm1,0h1v1h-1zm1,0h1v1h-1zm1,1h1v1h-1zm1,0h1v1h-1zm1,0h1v1h-1zm1,1h1v1h-1zm1,1h1v1h-1zm1,0h1v1h-1zm1,1h1v1h-1zm1,1h1v1h-1zm1,1h1v1h-1zm1,0h1v1h-1zm1,1h1v1h-1zm1,1h1v1h-1zm1,1h1v1h-1zm1,0h1v1h-1zm1,1h1v1h-1zm1,1h1v1h-1zm1,0h1v1h-1zm1,1h1v1h-1zm1,0h1v1h-1zm1,0h1v1h-1zm1,1h1v1h-1zm1,0h1v1h-1zm1,0h1v1h-1zm1,0h1v1h-1zm1,1h1v1h-1zm1,0h1v1h-1zm1,0h1v1h-1zm1,0h1v1h-1zm1,0h1v1h-1zm1,0h1v1h-1zm1,0h1v1h-1zm1,0h1v1h-1zm1,0h1v1h-1zm1,0h1v1h-1zm1,0h1v1h-1zm1,0h1v1h-1zm1,-1h1v1h-1zm1,0h1v1h-1zm1,0h1v1h-1zm1,0h1v1h-1zm1,0h1v1h-1zm1,0h1v1h-1zm1,0h1v1h-1zm1,-1h1v1h-1zm1,0h1v1h-1zm1,-1h1v1h-1zm1,0h1v1h-1zm1,0h1v1h-1zm1,-1h1v1h-1zm1,0h1v1h-1zm1,0h1v1h-1zm1,-1h1v1h-1zm1,0h1v1h-1zm1,-1h1v1h-1zm1,0h1v1h-1zm1,-1h1v1h-1zm1,0h1v1h-1zm1,-1h1v1h-1zm1,0h1v1h-1zm1,-1h1v1h-1zm1,-1h1v1h-1zm1,-1h1v1h-1zm1,-1h1v1h-1zm1,-1h1v1h-1zm1,-1h1v1h-1zm1,0h1v1h-1zm1,-1h1v1h-1zm1,-1h1v1h-1zm1,-2h1v2h-1zm1,-1h1v1h-1zm1,-1h1v1h-1zm1,-1h1v1h-1zm1,-1h1v1h-1zm1,-1h1v1h-1zm1,-1h1v1h-1zm1,-1h1v1h-1zm1,-1h1v1h-1zm1,-1h1v1h-1zm1,-1h1v1h-1zm1,-1h1v1h-1zm1,-2h1v2h-1zm1,-1h1v1h-1zm1,-1h1v1h-1zm1,-2h1v2h-1zm1,-1h1v1h-1zm1,-2h1v2h-1zm1,-1h1v1h-1zm1,-1h1v1h-1zm1,-1h1v1h-1zm1,-1h1v1h-1zm1,-1h1v1h-1zm1,-1h1v1h-1zm1,0h1v1h-1zm1,-1h1v1h-1zm1,0h1v1h-1zm1,-1h1v1h-1zm1,-1h1v1h-1zm1,0h1v1h-1zm1,-1h1v1h-1zm1,-1h1v1h-1zm1,-1h1v1h-1zm1,0h1v1h-1zm1,-1h1v1h-1zm1,-1h1v1h-1zm1,-1h1v1h-1zm1,0h1v1h-1zm1,-1h1v1h-1zm1,-1h1v1h-1zm1,-1h1v1h-1zm1,0h1v1h-1zm1,-1h1v1h-1zm1,0h1v1h-1zm1,0h1v1h-1zm1,0h1v1h-1zm1,0h1v1h-1zm1,0h1v1h-1zm1,0h1v1h-1zm1,0h1v1h-1zm1,0h1v1h-1zm1,0h1v1h-1zm1,-1h1v1h-1zm1,0h1v1h-1zm1,0h1v1h-1zm1,0h1v1h-1zm1,-1h1v1h-1zm1,0h1v1h-1zm1,0h1v1h-1zm1,-1h1v1h-1zm1,0h1v1h-1zm1,-1h1v1h-1zm1,0h1v1h-1zm1,0h1v1h-1zm1,-1h1v1h-1zm1,0h1v1h-1zm1,0h1v1h-1zm1,0h1v1h-1zm1,1h1v1h-1zm1,0h1v1h-1zm1,0h1v1h-1zm1,0h1v1h-1zm1,1h1v1h-1zm1,0h1v1h-1zm1,0h1v1h-1zm1,1h1v1h-1zm1,0h1v1h-1zm1,1h1v1h-1zm1,0h1v1h-1zm1,1h1v1h-1zm1,1h1v1h-1zm1,0h1v1h-1zm1,1h1v1h-1zm1,1h1v1h-1zm1,0h1v1h-1zm1,1h1v1h-1zm1,0h1v1h-1zm1,1h1v1h-1zm1,0h1v1h-1zm1,1h1v1h-1zm1,0h1v1h-1zm1,0h1v1h-1zm1,1h1v1h-1zm1,0h1v1h-1zm1,0h1v1h-1zm1,1h1v1h-1zm1,0h1v1h-1zm1,1h1v1h-1zm1,0h1v1h-1zm1,1h1v1h-1zm1,0h1v1h-1zm1,1h1v1h-1zm1,0h1v1h-1zm1,0h1v1h-1zm1,1h1v1h-1zm1,0h1v1h-1zm1,0h1v1h-1zm1,0h1v1h-1zm1,0h1v1h-1zm1,0h1v1h-1zm1,0h1v1h-1zm1,0h1v1h-1zm1,1h1v1h-1zm1,0h1v1h-1zm1,0h1v1h-1zm1,1h1v1h-1zm1,0h1v1h-1zm1,1h1v1h-1zm1,0h1v1h-1zm1,1h1v1h-1zm1,0h1v1h-1zm1,1h1v1h-1zm1,0h1v1h-1zm1,1h1v1h-1zm1,0h1v1h-1zm1,1h1v1h-1zm1,0h1v1h-1zm1,1h1v1h-1zm1,0h1v1h-1zm1,1h1v1h-1zm1,0h1v1h-1zm1,1h1v1h-1zm1,0h1v1h-1zm1,1h1v1h-1zm1,0h1v1h-1zm1,1h1v1h-1zm1,0h1v1h-1zm1,1h1v1h-1zm1,0h1v1h-1zm1,0h1v1h-1zm1,-1h1v1h-1zm1,0h1v1h-1zm1,0h1v1h-1zm1,0h1v1h-1zm1,0h1v1h-1zm1,0h1v1h-1zm1,0h1v1h-1zm1,0h1v1h-1zm1,-1h1v1h-1zm1,0h1v1h-1zm1,0h1v1h-1zm1,0h1v1h-1zm1,-1h1v1h-1zm1,0h1v1h-1zm1,0h1v1h-1zm1,0h1v1h-1zm1,0h1v1h-1zm1,0h1v1h-1zm1,0h1v1h-1zm1,0h1v1h-1zm1,-1h1v1h-1zm1,0h1v1h-1zm1,0h1v1h-1zm1,-1h1v1h-1zm1,-1h1v1h-1zm1,0h1v1h-1zm1,-1h1v1h-1zm1,-1h1v1h-1zm1,-1h1v1h-1zm1,0h1v1h-1zm1,-1h1v1h-1zm1,-1h1v1h-1zm1,0h1v1h-1zm1,-1h1v1h-1zm1,0h1v1h-1zm1,-1h1v1h-1zm1,-1h1v1h-1zm1,0h1v1h-1zm1,-1h1v1h-1zm1,-1h1v1h-1zm1,-1h1v1h-1zm1,0h1v1h-1zm1,-1h1v1h-1zm1,-1h1v1h-1zm1,-1h1v1h-1zm1,0h1v1h-1zm1,-1h1v1h-1zm1,-1h1v1h-1zm1,-1h1v1h-1zm1,-1h1v1h-1zm1,-1h1v1h-1zm1,-2h1v2h-1zm1,-1h1v1h-1zm1,-2h1v2h-1zm1,-1h1v1h-1zm1,-1h1v1h-1zm1,-2h1v2h-1zm1,-1h1v1h-1zm1,-1h1v1h-1zm1,-2h1v2h-1zm1,-1h1v1h-1zm1,-2h1v2h-1zm1,-1h1v1h-1zm1,-2h1v2h-1zm1,-1h1v1h-1zm1,-2h1v2h-1z" fill="#0000cd"/>
<rect x="3" y="297" width="1680" height="1" fill="#c0c0c0"/>
<rect x="3" y="215" width="1680" height="2" fill="#ff0000"/>
<rect x="3" y="299" width="1680" height="2" fill="#ff0000"/>
<rect x="3" y="383" width="1680" height="2" fill="#00ff00"/>
<rect x="3" y="468" width="1680" height="2" fill="#0000ff"/>
<rect x="3" y="577" width="1680" height="2" fill="#0000ff"/>
</g>
<rect x="2" y="297" width="6" height="6" fill="#ff0000"/>
<rect x="4" y="299" width="2" height="2" fill="#ffffff"/>
<rect x="1677" y="297" width="6" height="6" fill="#ff0000"/>
<rect x="1679" y="299" width="2" height="2" fill="#ffffff"/>
<rect x="2" y="381" width="6" height="6" fill="#00ff00"/>
<rect x="4" y="383" width="2" height="2" fill="#ffffff"/>
<rect x="1677" y="381" width="6" height="6" fill="#00ff00"/>
<rect x="1679" y="383" width="2" height="2" fill="#ffffff"/>
<rect x="2" y="25" width="1682" height="1" fill="#000"/>
<rect x="2" y="592" width="1682" height="1" fill="#000"/>
<rect x="2" y="25" width="1" height="568" fill="#000"/>
<rect x="1683" y="25" width="1" height="568" fill="#000"/>
<rect x="2" y="594" width="1682" height="1" fill="#000"/>
<rect x="2" y="698" width="1682" height="1" fill="#000"/>
<rect x="2" y="594" width="1" height="105" fill="#000"/>
<rect x="1683" y="594" width="1" height="105" fill="#000"/>
<rect x="2" y="700" width="1682" height="1" fill="#000"/>
<rect x="2" y="803" width="1682" height="1" fill="#000"/>
<rect x="2" y="700" width="1" height="104" fill="#000"/>
<rect x="1683" y="700" width="1" height="104" fill="#000"/>
<polygon points="1341,26 1350,26 1345.5,31" fill="#c0c0c0" shape-rendering="auto"/>
<rect x="1684" y="28" width="2" height="1" fill="#000"/>
<text x="1689" y="32" font-size="10" fill="#000" textLength="32.6" lengthAdjust="spacingAndGlyphs" stroke="#000" stroke-width="0.15">0.73240</text>
<rect x="1684" y="61" width="2" height="1" fill="#000"/>
<text x="1689" y="65" font-size="10" fill="#000" textLength="32.6" lengthAdjust="spacingAndGlyphs" stroke="#000" stroke-width="0.15">0.72850</text>
<rect x="1684" y="94" width="2" height="1" fill="#000"/>
<text x="1689" y="98" font-size="10" fill="#000" textLength="32.6" lengthAdjust="spacingAndGlyphs" stroke="#000" stroke-width="0.15">0.72460</text>
<rect x="1684" y="127" width="2" height="1" fill="#000"/>
<text x="1689" y="131" font-size="10" fill="#000" textLength="32.6" lengthAdjust="spacingAndGlyphs" stroke="#000" stroke-width="0.15">0.72060</text>
<rect x="1684" y="160" width="2" height="1" fill="#000"/>
<text x="1689" y="164" font-size="10" fill="#000" textLength="32.6" lengthAdjust="spacingAndGlyphs" stroke="#000" stroke-width="0.15">0.71670</text>
<rect x="1684" y="193" width="2" height="1" fill="#000"/>
<text x="1689" y="197" font-size="10" fill="#000" textLength="32.6" lengthAdjust="spacingAndGlyphs" stroke="#000" stroke-width="0.15">0.71280</text>
<rect x="1684" y="226" width="2" height="1" fill="#000"/>
<text x="1689" y="230" font-size="10" fill="#000" textLength="32.6" lengthAdjust="spacingAndGlyphs" stroke="#000" stroke-width="0.15">0.70890</text>
<rect x="1684" y="259" width="2" height="1" fill="#000"/>
<text x="1689" y="263" font-size="10" fill="#000" textLength="32.6" lengthAdjust="spacingAndGlyphs" stroke="#000" stroke-width="0.15">0.70490</text>
<rect x="1684" y="292" width="2" height="1" fill="#000"/>
<text x="1689" y="296" font-size="10" fill="#000" textLength="32.6" lengthAdjust="spacingAndGlyphs" stroke="#000" stroke-width="0.15">0.70100</text>
<rect x="1684" y="325" width="2" height="1" fill="#000"/>
<text x="1689" y="329" font-size="10" fill="#000" textLength="32.6" lengthAdjust="spacingAndGlyphs" stroke="#000" stroke-width="0.15">0.69710</text>
<rect x="1684" y="358" width="2" height="1" fill="#000"/>
<text x="1689" y="362" font-size="10" fill="#000" textLength="32.6" lengthAdjust="spacingAndGlyphs" stroke="#000" stroke-width="0.15">0.69320</text>
<rect x="1684" y="391" width="2" height="1" fill="#000"/>
<text x="1689" y="395" font-size="10" fill="#000" textLength="32.6" lengthAdjust="spacingAndGlyphs" stroke="#000" stroke-width="0.15">0.68920</text>
<rect x="1684" y="424" width="2" height="1" fill="#000"/>
<text x="1689" y="428" font-size="10" fill="#000" textLength="32.6" lengthAdjust="spacingAndGlyphs" stroke="#000" stroke-width="0.15">0.68530</text>
<rect x="1684" y="457" width="2" height="1" fill="#000"/>
<text x="1689" y="461" font-size="10" fill="#000" textLength="32.6" lengthAdjust="spacingAndGlyphs" stroke="#000" stroke-width="0.15">0.68140</text>
<rect x="1684" y="490" width="2" height="1" fill="#000"/>
<text x="1689" y="494" font-size="10" fill="#000" textLength="32.6" lengthAdjust="spacingAndGlyphs" stroke="#000" stroke-width="0.15">0.67750</text>
<rect x="1684" y="523" width="2" height="1" fill="#000"/>
<text x="1689" y="527" font-size="10" fill="#000" textLength="32.6" lengthAdjust="spacingAndGlyphs" stroke="#000" stroke-width="0.15">0.67350</text>
<rect x="1684" y="556" width="2" height="1" fill="#000"/>
<text x="1689" y="560" font-size="10" fill="#000" textLength="32.6" lengthAdjust="spacingAndGlyphs" stroke="#000" stroke-width="0.15">0.66960</text>
<rect x="1684" y="589" width="2" height="1" fill="#000"/>
<text x="1689" y="593" font-size="10" fill="#000" textLength="32.6" lengthAdjust="spacingAndGlyphs" stroke="#000" stroke-width="0.15">0.66570</text>
<rect x="1685" y="292" width="41" height="11" fill="#000000"/>
<text x="1689" y="301" font-size="10" fill="#fff" textLength="32.6" lengthAdjust="spacingAndGlyphs" stroke="#fff" stroke-width="0.15">0.70039</text>
<rect x="1685" y="210" width="41" height="11" fill="#ff0000"/>
<text x="1689" y="219" font-size="10" fill="#fff" textLength="32.6" lengthAdjust="spacingAndGlyphs" stroke="#fff" stroke-width="0.15">0.71004</text>
<rect x="1685" y="294" width="41" height="11" fill="#ff0000"/>
<text x="1689" y="303" font-size="10" fill="#fff" textLength="32.6" lengthAdjust="spacingAndGlyphs" stroke="#fff" stroke-width="0.15">0.70007</text>
<rect x="1685" y="378" width="41" height="11" fill="#00ff00"/>
<text x="1689" y="387" font-size="10" fill="#fff" textLength="32.6" lengthAdjust="spacingAndGlyphs" stroke="#fff" stroke-width="0.15">0.69011</text>
<rect x="1685" y="463" width="41" height="11" fill="#0000ff"/>
<text x="1689" y="472" font-size="10" fill="#fff" textLength="32.6" lengthAdjust="spacingAndGlyphs" stroke="#fff" stroke-width="0.15">0.68000</text>
<rect x="1685" y="572" width="41" height="11" fill="#0000ff"/>
<text x="1689" y="581" font-size="10" fill="#fff" textLength="32.6" lengthAdjust="spacingAndGlyphs" stroke="#fff" stroke-width="0.15">0.66700</text>
<polygon points="6,32.3 13.3,32.3 9.65,36.3" fill="#000" shape-rendering="auto"/>
<text x="18.75" y="37" font-size="10" fill="#000" textLength="64.6" lengthAdjust="spacingAndGlyphs" stroke="#000" stroke-width="0.15">AUDUSD,Daily</text>
<text x="90.3" y="37" font-size="10" fill="#000" textLength="32.6" lengthAdjust="spacingAndGlyphs" stroke="#000" stroke-width="0.15">0.69940</text>
<text x="126.4" y="37" font-size="10" fill="#000" textLength="32.6" lengthAdjust="spacingAndGlyphs" stroke="#000" stroke-width="0.15">0.70052</text>
<text x="162.5" y="37" font-size="10" fill="#000" textLength="32.6" lengthAdjust="spacingAndGlyphs" stroke="#000" stroke-width="0.15">0.69918</text>
<text x="198.60000000000002" y="37" font-size="10" fill="#000" textLength="32.6" lengthAdjust="spacingAndGlyphs" stroke="#000" stroke-width="0.15">0.70039</text>
<line x1="4" y1="626.5" x2="1683" y2="626.5" stroke="#c0c0c0" stroke-dasharray="3 3"/>
<line x1="4" y1="667.5" x2="1683" y2="667.5" stroke="#c0c0c0" stroke-dasharray="3 3"/>
<g clip-path="url(#cr)">
<path d="M3,652h1v1h-1zm1,0h1v1h-1zm1,-1h1v1h-1zm1,0h1v1h-1zm1,0h1v1h-1zm1,0h1v1h-1zm1,1h1v1h-1zm1,0h1v1h-1zm1,0h1v1h-1zm1,1h1v1h-1zm1,1h1v1h-1zm1,0h1v1h-1zm1,1h1v1h-1zm1,-1h1v1h-1zm1,0h1v1h-1zm1,-1h1v1h-1zm1,0h1v1h-1zm1,-1h1v1h-1zm1,-2h1v2h-1zm1,-1h1v1h-1zm1,-1h1v1h-1zm1,0h1v1h-1zm1,0h1v1h-1zm1,0h1v1h-1zm1,0h1v1h-1zm1,1h1v2h-1zm1,2h1v2h-1zm1,2h1v2h-1zm1,2h1v2h-1zm1,1h1v1h-1zm1,-1h1v1h-1zm1,0h1v1h-1zm1,0h1v1h-1zm1,0h1v1h-1zm1,-1h1v1h-1zm1,0h1v1h-1zm1,0h1v1h-1zm1,1h1v1h-1zm1,0h1v1h-1zm1,1h1v1h-1zm1,0h1v1h-1zm1,0h1v1h-1zm1,-1h1v1h-1zm1,0h1v1h-1zm1,0h1v1h-1zm1,1h1v2h-1zm1,2h1v2h-1zm1,2h1v2h-1zm1,2h1v2h-1zm1,2h1v1h-1zm1,1h1v1h-1zm1,1h1v1h-1zm1,1h1v1h-1zm1,1h1v1h-1zm1,0h1v1h-1zm1,1h1v1h-1zm1,0h1v1h-1zm1,0h1v1h-1zm1,0h1v1h-1zm1,0h1v1h-1zm1,0h1v1h-1zm1,0h1v1h-1zm1,1h1v1h-1zm1,0h1v1h-1zm1,0h1v1h-1zm1,-1h1v1h-1zm1,-1h1v1h-1zm1,-1h1v1h-1zm1,-1h1v1h-1zm1,1h1v1h-1zm1,1h1v1h-1zm1,0h1v1h-1zm1,1h1v1h-1zm1,-1h1v1h-1zm1,-1h1v1h-1zm1,0h1v1h-1zm1,-1h1v1h-1zm1,-1h1v1h-1zm1,0h1v1h-1zm1,-1h1v1h-1zm1,0h1v1h-1zm1,0h1v1h-1zm1,1h1v1h-1zm1,0h1v1h-1zm1,0h1v1h-1zm1,0h1v1h-1zm1,0h1v1h-1zm1,0h1v1h-1zm1,0h1v1h-1zm1,1h1v1h-1zm1,1h1v1h-1zm1,1h1v1h-1zm1,1h1v1h-1zm1,0h1v1h-1zm1,1h1v1h-1zm1,0h1v1h-1zm1,-2h1v3h-1zm1,-6h1v6h-1zm1,-6h1v6h-1zm1,-6h1v6h-1zm1,-4h1v4h-1zm1,0h1v1h-1zm1,-1h1v1h-1zm1,0h1v1h-1zm1,0h1v1h-1zm1,-1h1v1h-1zm1,-1h1v1h-1zm1,0h1v1h-1zm1,-1h1v1h-1zm1,0h1v1h-1zm1,1h1v1h-1zm1,0h1v1h-1zm1,0h1v1h-1zm1,-1h1v1h-1zm1,-2h1v2h-1zm1,-1h1v1h-1zm1,-1h1v1h-1zm1,-1h1v1h-1zm1,-1h1v1h-1zm1,0h1v1h-1zm1,-1h1v1h-1zm1,-1h1v1h-1zm1,0h1v1h-1zm1,-1h1v1h-1zm1,0h1v1h-1zm1,0h1v1h-1zm1,0h1v1h-1zm1,0h1v1h-1zm1,0h1v1h-1zm1,0h1v1h-1zm1,0h1v1h-1zm1,0h1v1h-1zm1,0h1v1h-1zm1,0h1v1h-1zm1,1h1v1h-1zm1,0h1v1h-1zm1,0h1v1h-1zm1,1h1v1h-1zm1,1h1v2h-1zm1,2h1v1h-1zm1,1h1v1h-1zm1,1h1v1h-1zm1,1h1v2h-1zm1,2h1v1h-1zm1,1h1v1h-1zm1,-1h1v1h-1zm1,-2h1v2h-1zm1,-1h1v1h-1zm1,-1h1v1h-1zm1,1h1v1h-1zm1,1h1v1h-1zm1,1h1v1h-1zm1,1h1v1h-1zm1,1h1v1h-1zm1,1h1v1h-1zm1,0h1v1h-1zm1,1h1v1h-1zm1,1h1v1h-1zm1,1h1v1h-1zm1,0h1v1h-1zm1,1h1v1h-1zm1,0h1v1h-1zm1,1h1v1h-1zm1,0h1v1h-1zm1,0h1v1h-1zm1,1h1v1h-1zm1,1h1v2h-1zm1,2h1v1h-1zm1,0h1v2h-1zm1,-3h1v3h-1zm1,-3h1v3h-1zm1,-3h1v3h-1zm1,-2h1v2h-1zm1,-1h1v1h-1zm1,0h1v1h-1zm1,-1h1v1h-1zm1,0h1v1h-1zm1,1h1v1h-1zm1,0h1v1h-1zm1,1h1v1h-1zm1,0h1v1h-1zm1,1h1v1h-1zm1,1h1v1h-1zm1,0h1v1h-1zm1,1h1v1h-1zm1,-2h1v2h-1zm1,-2h1v2h-1zm1,-2h1v2h-1zm1,-2h1v2h-1zm1,-3h1v3h-1zm1,-2h1v2h-1zm1,-3h1v3h-1zm1,-2h1v2h-1zm1,1h1v2h-1zm1,2h1v1h-1zm1,1h1v2h-1zm1,2h1v1h-1zm1,0h1v1h-1zm1,1h1v1h-1zm1,0h1v1h-1zm1,0h1v1h-1zm1,1h1v1h-1zm1,1h1v2h-1zm1,2h1v1h-1zm1,1h1v1h-1zm1,-1h1v1h-1zm1,0h1v1h-1zm1,-1h1v1h-1zm1,0h1v2h-1zm1,2h1v4h-1zm1,4h1v3h-1zm1,3h1v4h-1zm1,4h1v2h-1zm1,2h1v1h-1zm1,1h1v1h-1zm1,0h1v1h-1zm1,1h1v1h-1zm1,0h1v1h-1zm1,1h1v1h-1zm1,0h1v1h-1zm1,0h1v1h-1zm1,0h1v1h-1zm1,1h1v1h-1zm1,0h1v1h-1zm1,0h1v1h-1zm1,1h1v1h-1zm1,0h1v1h-1zm1,1h1v1h-1zm1,0h1v1h-1zm1,-1h1v1h-1zm1,-1h1v1h-1zm1,-1h1v1h-1zm1,-1h1v1h-1zm1,-1h1v1h-1zm1,-1h1v1h-1zm1,-1h1v1h-1zm1,-1h1v1h-1zm1,1h1v1h-1zm1,1h1v1h-1zm1,0h1v1h-1zm1,1h1v1h-1zm1,-1h1v1h-1zm1,-1h1v1h-1zm1,-1h1v1h-1zm1,-1h1v1h-1zm1,-1h1v1h-1zm1,-1h1v1h-1zm1,-1h1v1h-1zm1,-1h1v1h-1zm1,0h1v1h-1zm1,1h1v1h-1zm1,0h1v1h-1zm1,0h1v1h-1zm1,0h1v1h-1zm1,-1h1v1h-1zm1,0h1v1h-1zm1,0h1v1h-1zm1,-1h1v1h-1zm1,-1h1v1h-1zm1,0h1v1h-1zm1,-1h1v2h-1zm1,2h1v3h-1zm1,3h1v2h-1zm1,2h1v3h-1zm1,3h1v2h-1zm1,-1h1v2h-1zm1,-2h1v2h-1zm1,-2h1v2h-1zm1,-1h1v1h-1zm1,0h1v1h-1zm1,0h1v1h-1zm1,0h1v1h-1zm1,0h1v1h-1zm1,-1h1v1h-1zm1,-2h1v2h-1zm1,-1h1v1h-1zm1,-1h1v1h-1zm1,0h1v1h-1zm1,0h1v1h-1zm1,0h1v1h-1zm1,0h1v1h-1zm1,1h1v1h-1zm1,1h1v2h-1zm1,2h1v1h-1zm1,1h1v1h-1zm1,1h1v1h-1zm1,1h1v1h-1zm1,0h1v1h-1zm1,1h1v1h-1zm1,1h1v1h-1zm1,1h1v1h-1zm1,0h1v1h-1zm1,1h1v1h-1zm1,1h1v1h-1zm1,1h1v1h-1zm1,0h1v1h-1zm1,1h1v1h-1zm1,-1h1v1h-1zm1,0h1v1h-1zm1,-1h1v1h-1zm1,0h1v1h-1zm1,1h1v1h-1zm1,0h1v1h-1zm1,1h1v1h-1zm1,0h1v1h-1zm1,1h1v1h-1zm1,1h1v2h-1zm1,2h1v1h-1zm1,1h1v1h-1zm1,0h1v1h-1zm1,-1h1v1h-1zm1,0h1v1h-1zm1,0h1v1h-1zm1,-1h1v1h-1zm1,0h1v1h-1zm1,-1h1v1h-1zm1,0h1v1h-1zm1,-1h1v1h-1zm1,0h1v1h-1zm1,-1h1v1h-1zm1,0h1v1h-1zm1,0h1v1h-1zm1,-1h1v1h-1zm1,0h1v1h-1zm1,0h1v1h-1zm1,-2h1v2h-1zm1,-1h1v1h-1zm1,-2h1v2h-1zm1,-1h1v1h-1zm1,0h1v1h-1zm1,0h1v1h-1zm1,0h1v1h-1zm1,0h1v1h-1zm1,1h1v1h-1zm1,1h1v1h-1zm1,0h1v1h-1zm1,1h1v1h-1zm1,-1h1v1h-1zm1,-2h1v2h-1zm1,-1h1v1h-1zm1,-1h1v1h-1zm1,0h1v1h-1zm1,1h1v1h-1zm1,0h1v1h-1zm1,0h1v1h-1zm1,-1h1v1h-1zm1,0h1v1h-1zm1,-1h1v1h-1zm1,0h1v1h-1zm1,0h1v1h-1zm1,-1h1v1h-1zm1,0h1v1h-1zm1,0h1v1h-1zm1,1h1v1h-1zm1,0h1v1h-1zm1,1h1v1h-1zm1,0h1v1h-1zm1,-1h1v1h-1zm1,-1h1v1h-1zm1,-1h1v1h-1zm1,-1h1v1h-1zm1,1h1v1h-1zm1,1h1v2h-1zm1,2h1v1h-1zm1,1h1v1h-1zm1,0h1v1h-1zm1,1h1v1h-1zm1,0h1v1h-1zm1,0h1v1h-1zm1,-2h1v2h-1zm1,-1h1v1h-1zm1,-2h1v2h-1zm1,-1h1v1h-1zm1,-1h1v1h-1zm1,-2h1v2h-1zm1,-1h1v1h-1zm1,-1h1v2h-1zm1,2h1v3h-1zm1,3h1v4h-1zm1,4h1v3h-1zm1,3h1v2h-1zm1,0h1v1h-1zm1,0h1v1h-1zm1,-1h1v1h-1zm1,0h1v1h-1zm1,-1h1v1h-1zm1,-1h1v1h-1zm1,-1h1v1h-1zm1,-1h1v1h-1zm1,0h1v1h-1zm1,1h1v1h-1zm1,0h1v1h-1zm1,0h1v1h-1zm1,-1h1v1h-1zm1,-1h1v1h-1zm1,0h1v1h-1zm1,-1h1v2h-1zm1,2h1v2h-1zm1,2h1v3h-1zm1,3h1v2h-1zm1,2h1v2h-1zm1,-3h1v3h-1zm1,-2h1v2h-1zm1,-3h1v3h-1zm1,-2h1v2h-1zm1,1h1v1h-1zm1,0h1v1h-1zm1,1h1v1h-1zm1,0h1v1h-1zm1,1h1v1h-1zm1,0h1v1h-1zm1,1h1v1h-1zm1,0h1v1h-1zm1,0h1v1h-1zm1,0h1v1h-1zm1,0h1v1h-1zm1,0h1v1h-1zm1,-1h1v1h-1zm1,-1h1v1h-1zm1,-1h1v1h-1zm1,-1h1v1h-1zm1,0h1v1h-1zm1,-1h1v1h-1zm1,0h1v1h-1zm1,0h1v1h-1zm1,-1h1v1h-1zm1,-1h1v1h-1zm1,-1h1v1h-1zm1,-1h1v1h-1zm1,1h1v2h-1zm1,2h1v1h-1zm1,1h1v2h-1zm1,2h1v1h-1zm1,-2h1v2h-1zm1,-2h1v2h-1zm1,-2h1v2h-1zm1,-1h1v1h-1zm1,0h1v1h-1zm1,1h1v1h-1zm1,0h1v1h-1zm1,0h1v1h-1zm1,0h1v1h-1zm1,-1h1v1h-1zm1,0h1v1h-1zm1,0h1v1h-1zm1,1h1v1h-1zm1,0h1v1h-1zm1,1h1v1h-1zm1,0h1v1h-1zm1,0h1v1h-1zm1,1h1v1h-1zm1,0h1v1h-1zm1,0h1v1h-1zm1,1h1v1h-1zm1,1h1v1h-1zm1,0h1v1h-1zm1,1h1v1h-1zm1,0h1v1h-1zm1,1h1v1h-1zm1,0h1v1h-1zm1,0h1v1h-1zm1,0h1v1h-1zm1,0h1v1h-1zm1,0h1v1h-1zm1,0h1v1h-1zm1,1h1v1h-1zm1,1h1v1h-1zm1,0h1v1h-1zm1,1h1v1h-1zm1,1h1v2h-1zm1,2h1v2h-1zm1,2h1v2h-1zm1,2h1v3h-1zm1,3h1v2h-1zm1,2h1v2h-1zm1,2h1v2h-1zm1,2h1v2h-1zm1,2h1v1h-1zm1,0h1v1h-1zm1,1h1v1h-1zm1,0h1v1h-1zm1,-2h1v2h-1zm1,-2h1v2h-1zm1,-2h1v2h-1zm1,-2h1v2h-1zm1,0h1v1h-1zm1,1h1v1h-1zm1,0h1v1h-1zm1,0h1v1h-1zm1,-1h1v1h-1zm1,-1h1v1h-1zm1,0h1v1h-1zm1,-1h1v1h-1zm1,1h1v1h-1zm1,0h1v1h-1zm1,1h1v1h-1zm1,0h1v1h-1zm1,0h1v1h-1zm1,1h1v1h-1zm1,0h1v1h-1zm1,0h1v1h-1zm1,1h1v1h-1zm1,1h1v1h-1zm1,1h1v1h-1zm1,1h1v1h-1zm1,-1h1v1h-1zm1,-1h1v1h-1zm1,0h1v1h-1zm1,-1h1v1h-1zm1,0h1v1h-1zm1,0h1v1h-1zm1,0h1v1h-1zm1,0h1v1h-1zm1,1h1v1h-1zm1,1h1v1h-1zm1,0h1v1h-1zm1,1h1v1h-1zm1,-1h1v1h-1zm1,-1h1v1h-1zm1,0h1v1h-1zm1,-1h1v1h-1zm1,0h1v1h-1zm1,0h1v1h-1zm1,0h1v1h-1zm1,0h1v1h-1zm1,1h1v1h-1zm1,1h1v2h-1zm1,2h1v1h-1zm1,1h1v1h-1zm1,-2h1v2h-1zm1,-1h1v1h-1zm1,-2h1v2h-1zm1,-1h1v1h-1zm1,0h1v1h-1zm1,-1h1v1h-1zm1,0h1v1h-1zm1,0h1v1h-1zm1,1h1v2h-1zm1,2h1v2h-1zm1,2h1v2h-1zm1,2h1v2h-1zm1,1h1v1h-1zm1,0h1v1h-1zm1,0h1v1h-1zm1,0h1v1h-1zm1,1h1v1h-1zm1,0h1v1h-1zm1,1h1v1h-1zm1,0h1v1h-1zm1,1h1v1h-1zm1,1h1v1h-1zm1,0h1v1h-1zm1,1h1v1h-1zm1,1h1v1h-1zm1,1h1v1h-1zm1,0h1v1h-1zm1,1h1v1h-1zm1,0h1v1h-1zm1,1h1v1h-1zm1,0h1v1h-1zm1,-1h1v2h-1zm1,-3h1v3h-1zm1,-4h1v4h-1zm1,-3h1v3h-1zm1,-2h1v2h-1zm1,1h1v1h-1zm1,1h1v2h-1zm1,2h1v1h-1zm1,1h1v1h-1zm1,-1h1v1h-1zm1,0h1v1h-1zm1,-1h1v1h-1zm1,0h1v1h-1zm1,-1h1v1h-1zm1,-1h1v1h-1zm1,-1h1v1h-1zm1,-1h1v1h-1zm1,-1h1v1h-1zm1,-1h1v1h-1zm1,-1h1v1h-1zm1,-1h1v1h-1zm1,-1h1v1h-1zm1,-1h1v1h-1zm1,0h1v1h-1zm1,-1h1v1h-1zm1,1h1v1h-1zm1,0h1v1h-1zm1,1h1v1h-1zm1,0h1v1h-1zm1,-1h1v1h-1zm1,-1h1v1h-1zm1,0h1v1h-1zm1,-1h1v1h-1zm1,1h1v1h-1zm1,1h1v1h-1zm1,0h1v1h-1zm1,1h1v1h-1zm1,0h1v1h-1zm1,1h1v1h-1zm1,0h1v1h-1zm1,0h1v1h-1zm1,-1h1v1h-1zm1,-2h1v2h-1zm1,-1h1v1h-1zm1,-1h1v1h-1zm1,-1h1v1h-1zm1,-1h1v1h-1zm1,0h1v1h-1zm1,-1h1v1h-1zm1,-1h1v1h-1zm1,-1h1v1h-1zm1,0h1v1h-1zm1,-1h1v1h-1zm1,-2h1v2h-1zm1,-1h1v1h-1zm1,-2h1v2h-1zm1,-1h1v1h-1zm1,1h1v1h-1zm1,1h1v1h-1zm1,0h1v1h-1zm1,1h1v1h-1zm1,-1h1v1h-1zm1,0h1v1h-1zm1,-1h1v1h-1zm1,0h1v1h-1zm1,-1h1v1h-1zm1,-1h1v1h-1zm1,0h1v1h-1zm1,-1h1v1h-1zm1,0h1v1h-1zm1,-1h1v1h-1zm1,0h1v1h-1zm1,0h1v2h-1zm1,2h1v2h-1zm1,2h1v3h-1zm1,3h1v2h-1zm1,2h1v2h-1zm1,2h1v1h-1zm1,0h1v1h-1zm1,1h1v1h-1zm1,0h1v1h-1zm1,1h1v1h-1zm1,0h1v1h-1zm1,1h1v1h-1zm1,0h1v1h-1zm1,1h1v2h-1zm1,2h1v2h-1zm1,2h1v2h-1zm1,2h1v1h-1zm1,1h1v1h-1zm1,1h1v2h-1zm1,2h1v1h-1zm1,1h1v1h-1zm1,0h1v1h-1zm1,1h1v1h-1zm1,0h1v1h-1zm1,0h1v1h-1zm1,0h1v1h-1zm1,1h1v1h-1zm1,0h1v1h-1zm1,0h1v1h-1zm1,-1h1v1h-1zm1,-1h1v1h-1zm1,-1h1v1h-1zm1,-1h1v1h-1zm1,0h1v1h-1zm1,1h1v1h-1zm1,0h1v1h-1zm1,-1h1v2h-1zm1,-3h1v3h-1zm1,-3h1v3h-1zm1,-3h1v3h-1zm1,-2h1v2h-1zm1,0h1v1h-1zm1,-1h1v1h-1zm1,0h1v1h-1zm1,0h1v1h-1zm1,0h1v1h-1zm1,-1h1v1h-1zm1,0h1v1h-1zm1,0h1v1h-1zm1,-2h1v2h-1zm1,-2h1v2h-1zm1,-2h1v2h-1zm1,-2h1v2h-1zm1,-1h1v1h-1zm1,0h1v1h-1zm1,-1h1v1h-1zm1,0h1v1h-1zm1,-1h1v1h-1zm1,0h1v1h-1zm1,-1h1v1h-1zm1,0h1v1h-1zm1,-1h1v1h-1zm1,0h1v1h-1zm1,-1h1v1h-1zm1,0h1v1h-1zm1,-1h1v1h-1zm1,0h1v1h-1zm1,-1h1v1h-1zm1,0h1v1h-1zm1,0h1v1h-1zm1,-1h1v1h-1zm1,0h1v1h-1zm1,0h1v2h-1zm1,2h1v4h-1zm1,4h1v4h-1zm1,4h1v4h-1zm1,4h1v2h-1zm1,-1h1v2h-1zm1,-1h1v1h-1zm1,-2h1v2h-1zm1,-1h1v1h-1zm1,-2h1v2h-1zm1,-1h1v1h-1zm1,-2h1v2h-1zm1,-1h1v1h-1zm1,1h1v1h-1zm1,1h1v1h-1zm1,0h1v1h-1zm1,1h1v2h-1zm1,2h1v2h-1zm1,2h1v3h-1zm1,3h1v2h-1zm1,2h1v2h-1zm1,0h1v1h-1zm1,0h1v1h-1zm1,-1h1v1h-1zm1,0h1v1h-1zm1,1h1v1h-1zm1,0h1v1h-1zm1,1h1v1h-1zm1,0h1v1h-1zm1,1h1v2h-1zm1,2h1v2h-1zm1,2h1v2h-1zm1,2h1v1h-1zm1,-2h1v2h-1zm1,-2h1v2h-1zm1,-2h1v2h-1zm1,-1h1v1h-1zm1,-1h1v1h-1zm1,0h1v1h-1zm1,-1h1v1h-1zm1,0h1v1h-1zm1,-1h1v1h-1zm1,-1h1v1h-1zm1,-1h1v1h-1zm1,-1h1v1h-1zm1,-1h1v1h-1zm1,0h1v1h-1zm1,-1h1v1h-1zm1,0h1v1h-1zm1,-1h1v1h-1zm1,0h1v1h-1zm1,-1h1v1h-1zm1,0h1v1h-1zm1,1h1v1h-1zm1,0h1v1h-1zm1,1h1v1h-1zm1,0h1v1h-1zm1,0h1v1h-1zm1,1h1v1h-1zm1,0h1v1h-1zm1,0h1v1h-1zm1,-1h1v1h-1zm1,-1h1v1h-1zm1,-1h1v1h-1zm1,-1h1v1h-1zm1,0h1v1h-1zm1,1h1v1h-1zm1,0h1v1h-1zm1,0h1v1h-1zm1,0h1v1h-1zm1,0h1v1h-1zm1,0h1v1h-1zm1,0h1v1h-1zm1,0h1v1h-1zm1,0h1v1h-1zm1,0h1v1h-1zm1,0h1v2h-1zm1,2h1v2h-1zm1,2h1v3h-1zm1,3h1v2h-1zm1,2h1v2h-1zm1,2h1v1h-1zm1,1h1v1h-1zm1,1h1v1h-1zm1,1h1v1h-1zm1,1h1v1h-1zm1,1h1v1h-1zm1,1h1v1h-1zm1,1h1v1h-1zm1,1h1v2h-1zm1,2h1v2h-1zm1,2h1v2h-1zm1,2h1v1h-1zm1,0h1v1h-1zm1,0h1v1h-1zm1,0h1v1h-1zm1,0h1v1h-1zm1,0h1v1h-1zm1,0h1v1h-1zm1,0h1v1h-1zm1,0h1v1h-1zm1,1h1v1h-1zm1,1h1v2h-1zm1,2h1v1h-1zm1,1h1v1h-1zm1,-1h1v1h-1zm1,-1h1v1h-1zm1,-1h1v1h-1zm1,-1h1v1h-1zm1,1h1v1h-1zm1,1h1v1h-1zm1,0h1v1h-1zm1,1h1v1h-1zm1,1h1v2h-1zm1,2h1v1h-1zm1,1h1v2h-1zm1,2h1v1h-1zm1,0h1v1h-1zm1,1h1v1h-1zm1,0h1v1h-1zm1,0h1v1h-1zm1,0h1v1h-1zm1,1h1v1h-1zm1,0h1v1h-1zm1,0h1v1h-1zm1,0h1v1h-1zm1,1h1v1h-1zm1,0h1v1h-1zm1,0h1v1h-1zm1,0h1v1h-1zm1,1h1v1h-1zm1,0h1v1h-1zm1,-1h1v2h-1zm1,-4h1v4h-1zm1,-3h1v3h-1zm1,-4h1v4h-1zm1,-2h1v2h-1zm1,0h1v1h-1zm1,1h1v1h-1zm1,0h1v1h-1zm1,0h1v1h-1zm1,0h1v1h-1zm1,1h1v1h-1zm1,0h1v1h-1zm1,0h1v1h-1zm1,1h1v1h-1zm1,1h1v1h-1zm1,1h1v1h-1zm1,0h1v2h-1zm1,-2h1v2h-1zm1,-2h1v2h-1zm1,-2h1v2h-1zm1,-2h1v2h-1zm1,1h1v2h-1zm1,2h1v1h-1zm1,1h1v2h-1zm1,2h1v1h-1zm1,-2h1v2h-1zm1,-2h1v2h-1zm1,-2h1v2h-1zm1,-2h1v2h-1zm1,0h1v1h-1zm1,1h1v1h-1zm1,0h1v1h-1zm1,0h1v1h-1zm1,0h1v1h-1zm1,-1h1v1h-1zm1,0h1v1h-1zm1,0h1v1h-1zm1,1h1v1h-1zm1,0h1v1h-1zm1,1h1v1h-1zm1,0h1v1h-1zm1,0h1v1h-1zm1,-1h1v1h-1zm1,0h1v1h-1zm1,0h1v1h-1zm1,-1h1v1h-1zm1,-1h1v1h-1zm1,-1h1v1h-1zm1,-1h1v1h-1zm1,1h1v1h-1zm1,1h1v1h-1zm1,1h1v1h-1zm1,1h1v1h-1zm1,1h1v1h-1zm1,1h1v1h-1zm1,0h1v1h-1zm1,1h1v1h-1zm1,0h1v1h-1zm1,-1h1v1h-1zm1,0h1v1h-1zm1,0h1v1h-1zm1,-2h1v2h-1zm1,-2h1v2h-1zm1,-2h1v2h-1zm1,-1h1v1h-1zm1,1h1v1h-1zm1,1h1v1h-1zm1,1h1v1h-1zm1,1h1v1h-1zm1,1h1v1h-1zm1,0h1v1h-1zm1,1h1v1h-1zm1,0h1v1h-1zm1,1h1v1h-1zm1,0h1v1h-1zm1,1h1v1h-1zm1,0h1v1h-1zm1,0h1v1h-1zm1,0h1v1h-1zm1,0h1v1h-1zm1,0h1v1h-1zm1,0h1v1h-1zm1,0h1v1h-1zm1,0h1v1h-1zm1,0h1v1h-1zm1,1h1v1h-1zm1,0h1v1h-1zm1,1h1v1h-1zm1,-1h1v2h-1zm1,-3h1v3h-1zm1,-2h1v2h-1zm1,-3h1v3h-1zm1,-2h1v2h-1zm1,-2h1v2h-1zm1,-2h1v2h-1zm1,-2h1v2h-1zm1,-1h1v1h-1zm1,-1h1v1h-1zm1,-1h1v1h-1zm1,-1h1v1h-1zm1,-1h1v1h-1zm1,-2h1v2h-1zm1,-1h1v1h-1zm1,-2h1v2h-1zm1,-1h1v1h-1zm1,1h1v1h-1zm1,0h1v1h-1zm1,1h1v1h-1zm1,0h1v1h-1zm1,-1h1v1h-1zm1,-1h1v1h-1zm1,0h1v1h-1zm1,-1h1v1h-1zm1,0h1v1h-1zm1,1h1v1h-1zm1,0h1v1h-1zm1,0h1v1h-1zm1,1h1v1h-1zm1,0h1v1h-1zm1,1h1v1h-1zm1,0h1v1h-1zm1,-1h1v1h-1zm1,0h1v1h-1zm1,-1h1v1h-1zm1,0h1v1h-1zm1,-1h1v1h-1zm1,0h1v1h-1zm1,-1h1v1h-1zm1,0h1v1h-1zm1,1h1v1h-1zm1,0h1v1h-1zm1,1h1v1h-1zm1,0h1v1h-1zm1,1h1v1h-1zm1,1h1v1h-1zm1,1h1v1h-1zm1,1h1v1h-1zm1,1h1v1h-1zm1,0h1v1h-1zm1,1h1v1h-1zm1,0h1v1h-1zm1,1h1v1h-1zm1,1h1v1h-1zm1,0h1v1h-1zm1,1h1v2h-1zm1,2h1v2h-1zm1,2h1v3h-1zm1,3h1v2h-1zm1,2h1v2h-1zm1,2h1v1h-1zm1,1h1v1h-1zm1,1h1v1h-1zm1,1h1v1h-1zm1,0h1v1h-1zm1,1h1v1h-1zm1,0h1v1h-1zm1,0h1v1h-1zm1,-1h1v1h-1zm1,0h1v1h-1zm1,-1h1v1h-1zm1,0h1v1h-1zm1,-1h1v1h-1zm1,-2h1v2h-1zm1,-1h1v1h-1zm1,-1h1v1h-1zm1,1h1v2h-1zm1,2h1v2h-1zm1,2h1v2h-1zm1,2h1v2h-1zm1,0h1v1h-1zm1,0h1v1h-1zm1,-1h1v1h-1zm1,0h1v1h-1zm1,-1h1v1h-1zm1,0h1v1h-1zm1,-1h1v1h-1zm1,0h1v1h-1zm1,0h1v1h-1zm1,0h1v1h-1zm1,0h1v1h-1zm1,0h1v1h-1zm1,1h1v1h-1zm1,1h1v1h-1zm1,0h1v1h-1zm1,1h1v1h-1zm1,1h1v2h-1zm1,2h1v1h-1zm1,1h1v2h-1zm1,2h1v1h-1zm1,0h1v1h-1zm1,1h1v1h-1zm1,0h1v1h-1zm1,-1h1v2h-1zm1,-3h1v3h-1zm1,-4h1v4h-1zm1,-3h1v3h-1zm1,-2h1v2h-1zm1,-1h1v1h-1zm1,-1h1v1h-1zm1,0h1v1h-1zm1,-1h1v1h-1zm1,0h1v1h-1zm1,-1h1v1h-1zm1,0h1v1h-1zm1,0h1v1h-1zm1,1h1v1h-1zm1,1h1v1h-1zm1,1h1v1h-1zm1,1h1v1h-1zm1,1h1v1h-1zm1,1h1v1h-1zm1,1h1v1h-1zm1,1h1v1h-1zm1,0h1v1h-1zm1,-1h1v1h-1zm1,0h1v1h-1zm1,0h1v1h-1zm1,-2h1v2h-1zm1,-2h1v2h-1zm1,-2h1v2h-1zm1,-2h1v2h-1zm1,-2h1v2h-1zm1,-1h1v1h-1zm1,-2h1v2h-1zm1,-1h1v1h-1zm1,0h1v1h-1zm1,0h1v1h-1zm1,0h1v1h-1zm1,0h1v1h-1zm1,1h1v2h-1zm1,2h1v1h-1zm1,1h1v2h-1zm1,2h1v1h-1zm1,1h1v1h-1zm1,1h1v1h-1zm1,0h1v1h-1zm1,1h1v1h-1zm1,0h1v1h-1zm1,0h1v1h-1zm1,0h1v1h-1zm1,-1h1v2h-1zm1,-3h1v3h-1zm1,-3h1v3h-1zm1,-3h1v3h-1zm1,-2h1v2h-1zm1,-1h1v1h-1zm1,-1h1v1h-1zm1,0h1v1h-1zm1,-1h1v1h-1zm1,0h1v1h-1zm1,-1h1v1h-1zm1,0h1v1h-1zm1,0h1v1h-1zm1,-1h1v1h-1zm1,0h1v1h-1zm1,-1h1v1h-1zm1,0h1v1h-1zm1,0h1v1h-1zm1,1h1v1h-1zm1,0h1v1h-1zm1,0h1v1h-1zm1,1h1v1h-1zm1,1h1v1h-1zm1,1h1v1h-1zm1,1h1v1h-1zm1,1h1v2h-1zm1,2h1v2h-1zm1,2h1v2h-1zm1,2h1v1h-1zm1,-1h1v1h-1zm1,-1h1v1h-1zm1,0h1v1h-1zm1,-1h1v1h-1zm1,1h1v1h-1zm1,0h1v1h-1zm1,1h1v1h-1zm1,0h1v1h-1zm1,-1h1v1h-1zm1,-1h1v1h-1zm1,0h1v1h-1zm1,-1h1v1h-1zm1,-1h1v1h-1zm1,-1h1v1h-1zm1,-1h1v1h-1zm1,-1h1v1h-1zm1,-1h1v1h-1zm1,0h1v1h-1zm1,-1h1v1h-1zm1,0h1v1h-1zm1,-1h1v1h-1zm1,0h1v1h-1zm1,-1h1v1h-1zm1,0h1v1h-1zm1,-1h1v1h-1zm1,-1h1v1h-1zm1,0h1v1h-1zm1,-1h1v1h-1zm1,0h1v1h-1zm1,1h1v1h-1zm1,0h1v1h-1zm1,0h1v1h-1zm1,1h1v1h-1zm1,0h1v1h-1zm1,1h1v1h-1zm1,0h1v1h-1zm1,1h1v1h-1zm1,0h1v1h-1zm1,1h1v1h-1zm1,0h1v1h-1zm1,0h1v1h-1zm1,1h1v1h-1zm1,0h1v1h-1zm1,0h1v1h-1zm1,0h1v1h-1zm1,1h1v1h-1zm1,0h1v1h-1zm1,0h1v1h-1zm1,1h1v2h-1zm1,2h1v2h-1zm1,2h1v2h-1zm1,2h1v2h-1zm1,1h1v1h-1zm1,1h1v1h-1zm1,0h1v1h-1zm1,0h1v1h-1zm1,1h1v1h-1zm1,0h1v1h-1zm1,1h1v1h-1zm1,0h1v1h-1zm1,0h1v1h-1zm1,1h1v1h-1zm1,0h1v1h-1zm1,0h1v1h-1zm1,1h1v1h-1zm1,1h1v1h-1zm1,0h1v1h-1zm1,1h1v2h-1zm1,2h1v3h-1zm1,3h1v2h-1zm1,2h1v3h-1zm1,3h1v2h-1zm1,-2h1v2h-1zm1,-3h1v3h-1zm1,-2h1v2h-1zm1,-2h1v2h-1zm1,0h1v1h-1zm1,0h1v1h-1zm1,0h1v1h-1zm1,0h1v1h-1zm1,0h1v1h-1zm1,0h1v1h-1zm1,0h1v1h-1zm1,0h1v1h-1zm1,-1h1v1h-1zm1,-1h1v1h-1zm1,0h1v1h-1zm1,-1h1v1h-1zm1,1h1v1h-1zm1,1h1v2h-1zm1,2h1v1h-1zm1,1h1v1h-1zm1,0h1v1h-1zm1,1h1v1h-1zm1,0h1v1h-1zm1,0h1v1h-1zm1,1h1v1h-1zm1,0h1v1h-1zm1,1h1v1h-1zm1,0h1v1h-1zm1,0h1v1h-1zm1,1h1v1h-1zm1,0h1v1h-1zm1,0h1v1h-1zm1,1h1v1h-1zm1,0h1v1h-1zm1,1h1v1h-1zm1,0h1v1h-1zm1,-1h1v1h-1zm1,-1h1v1h-1zm1,-1h1v1h-1zm1,-1h1v1h-1zm1,0h1v1h-1zm1,1h1v1h-1zm1,0h1v1h-1zm1,0h1v1h-1zm1,1h1v1h-1zm1,1h1v1h-1zm1,0h1v1h-1zm1,1h1v1h-1zm1,0h1v1h-1zm1,0h1v1h-1zm1,0h1v1h-1zm1,0h1v1h-1zm1,0h1v1h-1zm1,1h1v1h-1zm1,0h1v1h-1zm1,-1h1v2h-1zm1,-4h1v4h-1zm1,-4h1v4h-1zm1,-4h1v4h-1zm1,-3h1v3h-1zm1,-2h1v2h-1zm1,-1h1v1h-1zm1,-2h1v2h-1zm1,-1h1v1h-1zm1,-1h1v1h-1zm1,-1h1v1h-1zm1,0h1v1h-1zm1,-1h1v1h-1zm1,1h1v2h-1zm1,2h1v2h-1zm1,2h1v2h-1zm1,2h1v1h-1zm1,0h1v1h-1zm1,-1h1v1h-1zm1,0h1v1h-1zm1,0h1v1h-1zm1,0h1v1h-1zm1,-1h1v1h-1zm1,0h1v1h-1zm1,0h1v1h-1zm1,1h1v1h-1zm1,0h1v1h-1zm1,1h1v1h-1zm1,0h1v1h-1zm1,1h1v2h-1zm1,2h1v1h-1zm1,1h1v2h-1zm1,1h1v2h-1zm1,-3h1v3h-1zm1,-2h1v2h-1zm1,-3h1v3h-1zm1,-2h1v2h-1zm1,-2h1v2h-1zm1,-2h1v2h-1zm1,-2h1v2h-1zm1,-1h1v1h-1zm1,1h1v2h-1zm1,2h1v2h-1zm1,2h1v2h-1zm1,2h1v1h-1zm1,0h1v1h-1zm1,0h1v1h-1zm1,0h1v1h-1zm1,0h1v1h-1zm1,-1h1v1h-1zm1,-1h1v1h-1zm1,-1h1v1h-1zm1,-1h1v2h-1zm1,2h1v2h-1zm1,2h1v2h-1zm1,2h1v2h-1zm1,2h1v2h-1zm1,1h1v1h-1zm1,-1h1v1h-1zm1,0h1v1h-1zm1,0h1v1h-1zm1,-1h1v1h-1zm1,-1h1v1h-1zm1,0h1v1h-1zm1,-1h1v1h-1zm1,-1h1v1h-1zm1,-1h1v1h-1zm1,-1h1v1h-1zm1,-1h1v1h-1zm1,0h1v1h-1zm1,1h1v1h-1zm1,0h1v1h-1zm1,0h1v1h-1zm1,-1h1v1h-1zm1,-1h1v1h-1zm1,0h1v1h-1zm1,-1h1v1h-1zm1,0h1v1h-1zm1,-1h1v1h-1zm1,0h1v1h-1zm1,0h1v1h-1zm1,0h1v1h-1zm1,1h1v1h-1zm1,0h1v1h-1zm1,0h1v1h-1zm1,-1h1v1h-1zm1,0h1v1h-1zm1,-1h1v1h-1zm1,0h1v1h-1zm1,-2h1v2h-1zm1,-1h1v1h-1zm1,-2h1v2h-1zm1,-1h1v1h-1zm1,1h1v1h-1zm1,0h1v1h-1zm1,1h1v1h-1zm1,0h1v1h-1zm1,-1h1v1h-1zm1,-1h1v1h-1zm1,0h1v1h-1zm1,-1h1v1h-1zm1,0h1v1h-1zm1,-1h1v1h-1zm1,0h1v1h-1z" fill="#1e90ff"/>
</g>
<text x="7" y="607" font-size="10" fill="#000" textLength="67.6" lengthAdjust="spacingAndGlyphs" stroke="#000" stroke-width="0.15">RSI(14) 73.0196</text>
<rect x="1684" y="596" width="1" height="1" fill="#000"/>
<rect x="1684" y="697" width="1" height="1" fill="#000"/>
<text x="1687.3" y="605" font-size="10" fill="#000" textLength="14.3" lengthAdjust="spacingAndGlyphs" stroke="#000" stroke-width="0.15">100</text>
<text x="1686.1" y="630" font-size="10" fill="#000" textLength="9.6" lengthAdjust="spacingAndGlyphs" stroke="#000" stroke-width="0.15">70</text>
<text x="1685.9" y="671" font-size="10" fill="#000" textLength="9.6" lengthAdjust="spacingAndGlyphs" stroke="#000" stroke-width="0.15">30</text>
<text x="1687" y="695" font-size="10" fill="#000" textLength="4.8" lengthAdjust="spacingAndGlyphs" stroke="#000" stroke-width="0.15">0</text>
<g clip-path="url(#cd)">
<rect x="3" y="726" width="1" height="19" fill="#c0c0c0"/>
<rect x="7" y="732" width="1" height="13" fill="#c0c0c0"/>
<rect x="11" y="737" width="1" height="8" fill="#c0c0c0"/>
<rect x="15" y="743" width="1" height="2" fill="#c0c0c0"/>
<rect x="19" y="745" width="1" height="1" fill="#c0c0c0"/>
<rect x="23" y="745" width="1" height="1" fill="#c0c0c0"/>
<rect x="27" y="745" width="1" height="2" fill="#c0c0c0"/>
<rect x="31" y="745" width="1" height="7" fill="#c0c0c0"/>
<rect x="35" y="745" width="1" height="10" fill="#c0c0c0"/>
<rect x="39" y="745" width="1" height="12" fill="#c0c0c0"/>
<rect x="43" y="745" width="1" height="14" fill="#c0c0c0"/>
<rect x="47" y="745" width="1" height="15" fill="#c0c0c0"/>
<rect x="51" y="745" width="1" height="21" fill="#c0c0c0"/>
<rect x="55" y="745" width="1" height="28" fill="#c0c0c0"/>
<rect x="59" y="745" width="1" height="35" fill="#c0c0c0"/>
<rect x="63" y="745" width="1" height="40" fill="#c0c0c0"/>
<rect x="67" y="745" width="1" height="45" fill="#c0c0c0"/>
<rect x="71" y="745" width="1" height="46" fill="#c0c0c0"/>
<rect x="75" y="745" width="1" height="49" fill="#c0c0c0"/>
<rect x="79" y="745" width="1" height="50" fill="#c0c0c0"/>
<rect x="83" y="745" width="1" height="49" fill="#c0c0c0"/>
<rect x="87" y="745" width="1" height="49" fill="#c0c0c0"/>
<rect x="91" y="745" width="1" height="48" fill="#c0c0c0"/>
<rect x="95" y="745" width="1" height="50" fill="#c0c0c0"/>
<rect x="99" y="745" width="1" height="51" fill="#c0c0c0"/>
<rect x="103" y="745" width="1" height="43" fill="#c0c0c0"/>
<rect x="107" y="745" width="1" height="35" fill="#c0c0c0"/>
<rect x="111" y="745" width="1" height="27" fill="#c0c0c0"/>
<rect x="115" y="745" width="1" height="21" fill="#c0c0c0"/>
<rect x="119" y="745" width="1" height="14" fill="#c0c0c0"/>
<rect x="123" y="745" width="1" height="6" fill="#c0c0c0"/>
<rect x="127" y="743" width="1" height="2" fill="#c0c0c0"/>
<rect x="131" y="737" width="1" height="8" fill="#c0c0c0"/>
<rect x="135" y="733" width="1" height="12" fill="#c0c0c0"/>
<rect x="139" y="730" width="1" height="15" fill="#c0c0c0"/>
<rect x="143" y="729" width="1" height="16" fill="#c0c0c0"/>
<rect x="147" y="730" width="1" height="15" fill="#c0c0c0"/>
<rect x="151" y="730" width="1" height="15" fill="#c0c0c0"/>
<rect x="155" y="730" width="1" height="15" fill="#c0c0c0"/>
<rect x="159" y="732" width="1" height="13" fill="#c0c0c0"/>
<rect x="163" y="735" width="1" height="10" fill="#c0c0c0"/>
<rect x="167" y="738" width="1" height="7" fill="#c0c0c0"/>
<rect x="171" y="742" width="1" height="3" fill="#c0c0c0"/>
<rect x="175" y="741" width="1" height="4" fill="#c0c0c0"/>
<rect x="179" y="739" width="1" height="6" fill="#c0c0c0"/>
<rect x="183" y="738" width="1" height="7" fill="#c0c0c0"/>
<rect x="187" y="739" width="1" height="6" fill="#c0c0c0"/>
<rect x="191" y="737" width="1" height="8" fill="#c0c0c0"/>
<rect x="195" y="728" width="1" height="17" fill="#c0c0c0"/>
<rect x="199" y="723" width="1" height="22" fill="#c0c0c0"/>
<rect x="203" y="721" width="1" height="24" fill="#c0c0c0"/>
<rect x="207" y="721" width="1" height="24" fill="#c0c0c0"/>
<rect x="211" y="720" width="1" height="25" fill="#c0c0c0"/>
<rect x="215" y="728" width="1" height="17" fill="#c0c0c0"/>
<rect x="219" y="736" width="1" height="9" fill="#c0c0c0"/>
<rect x="223" y="744" width="1" height="1" fill="#c0c0c0"/>
<rect x="227" y="745" width="1" height="5" fill="#c0c0c0"/>
<rect x="231" y="745" width="1" height="12" fill="#c0c0c0"/>
<rect x="235" y="745" width="1" height="15" fill="#c0c0c0"/>
<rect x="239" y="745" width="1" height="15" fill="#c0c0c0"/>
<rect x="243" y="745" width="1" height="17" fill="#c0c0c0"/>
<rect x="247" y="745" width="1" height="16" fill="#c0c0c0"/>
<rect x="251" y="745" width="1" height="13" fill="#c0c0c0"/>
<rect x="255" y="745" width="1" height="12" fill="#c0c0c0"/>
<rect x="259" y="745" width="1" height="10" fill="#c0c0c0"/>
<rect x="263" y="745" width="1" height="6" fill="#c0c0c0"/>
<rect x="267" y="745" width="1" height="9" fill="#c0c0c0"/>
<rect x="271" y="745" width="1" height="8" fill="#c0c0c0"/>
<rect x="275" y="745" width="1" height="7" fill="#c0c0c0"/>
<rect x="279" y="745" width="1" height="3" fill="#c0c0c0"/>
<rect x="283" y="745" width="1" height="1" fill="#c0c0c0"/>
<rect x="287" y="745" width="1" height="1" fill="#c0c0c0"/>
<rect x="291" y="745" width="1" height="2" fill="#c0c0c0"/>
<rect x="295" y="745" width="1" height="5" fill="#c0c0c0"/>
<rect x="299" y="745" width="1" height="9" fill="#c0c0c0"/>
<rect x="303" y="745" width="1" height="12" fill="#c0c0c0"/>
<rect x="307" y="745" width="1" height="14" fill="#c0c0c0"/>
<rect x="311" y="745" width="1" height="19" fill="#c0c0c0"/>
<rect x="315" y="745" width="1" height="23" fill="#c0c0c0"/>
<rect x="319" y="745" width="1" height="25" fill="#c0c0c0"/>
<rect x="323" y="745" width="1" height="25" fill="#c0c0c0"/>
<rect x="327" y="745" width="1" height="25" fill="#c0c0c0"/>
<rect x="331" y="745" width="1" height="22" fill="#c0c0c0"/>
<rect x="335" y="745" width="1" height="19" fill="#c0c0c0"/>
<rect x="339" y="745" width="1" height="19" fill="#c0c0c0"/>
<rect x="343" y="745" width="1" height="16" fill="#c0c0c0"/>
<rect x="347" y="745" width="1" height="14" fill="#c0c0c0"/>
<rect x="351" y="745" width="1" height="11" fill="#c0c0c0"/>
<rect x="355" y="745" width="1" height="9" fill="#c0c0c0"/>
<rect x="359" y="745" width="1" height="8" fill="#c0c0c0"/>
<rect x="363" y="745" width="1" height="5" fill="#c0c0c0"/>
<rect x="367" y="745" width="1" height="5" fill="#c0c0c0"/>
<rect x="371" y="745" width="1" height="5" fill="#c0c0c0"/>
<rect x="375" y="745" width="1" height="3" fill="#c0c0c0"/>
<rect x="379" y="744" width="1" height="1" fill="#c0c0c0"/>
<rect x="383" y="745" width="1" height="1" fill="#c0c0c0"/>
<rect x="387" y="745" width="1" height="2" fill="#c0c0c0"/>
<rect x="391" y="745" width="1" height="1" fill="#c0c0c0"/>
<rect x="395" y="745" width="1" height="1" fill="#c0c0c0"/>
<rect x="399" y="744" width="1" height="1" fill="#c0c0c0"/>
<rect x="403" y="745" width="1" height="2" fill="#c0c0c0"/>
<rect x="407" y="744" width="1" height="1" fill="#c0c0c0"/>
<rect x="411" y="743" width="1" height="2" fill="#c0c0c0"/>
<rect x="415" y="743" width="1" height="2" fill="#c0c0c0"/>
<rect x="419" y="743" width="1" height="2" fill="#c0c0c0"/>
<rect x="423" y="741" width="1" height="4" fill="#c0c0c0"/>
<rect x="427" y="740" width="1" height="5" fill="#c0c0c0"/>
<rect x="431" y="736" width="1" height="9" fill="#c0c0c0"/>
<rect x="435" y="736" width="1" height="9" fill="#c0c0c0"/>
<rect x="439" y="732" width="1" height="13" fill="#c0c0c0"/>
<rect x="443" y="730" width="1" height="15" fill="#c0c0c0"/>
<rect x="447" y="727" width="1" height="18" fill="#c0c0c0"/>
<rect x="451" y="726" width="1" height="19" fill="#c0c0c0"/>
<rect x="455" y="726" width="1" height="19" fill="#c0c0c0"/>
<rect x="459" y="727" width="1" height="18" fill="#c0c0c0"/>
<rect x="463" y="729" width="1" height="16" fill="#c0c0c0"/>
<rect x="467" y="730" width="1" height="15" fill="#c0c0c0"/>
<rect x="471" y="732" width="1" height="13" fill="#c0c0c0"/>
<rect x="475" y="737" width="1" height="8" fill="#c0c0c0"/>
<rect x="479" y="745" width="1" height="1" fill="#c0c0c0"/>
<rect x="483" y="745" width="1" height="9" fill="#c0c0c0"/>
<rect x="487" y="745" width="1" height="13" fill="#c0c0c0"/>
<rect x="491" y="745" width="1" height="16" fill="#c0c0c0"/>
<rect x="495" y="745" width="1" height="18" fill="#c0c0c0"/>
<rect x="499" y="745" width="1" height="19" fill="#c0c0c0"/>
<rect x="503" y="745" width="1" height="21" fill="#c0c0c0"/>
<rect x="507" y="745" width="1" height="24" fill="#c0c0c0"/>
<rect x="511" y="745" width="1" height="25" fill="#c0c0c0"/>
<rect x="515" y="745" width="1" height="26" fill="#c0c0c0"/>
<rect x="519" y="745" width="1" height="28" fill="#c0c0c0"/>
<rect x="523" y="745" width="1" height="29" fill="#c0c0c0"/>
<rect x="527" y="745" width="1" height="29" fill="#c0c0c0"/>
<rect x="531" y="745" width="1" height="31" fill="#c0c0c0"/>
<rect x="535" y="745" width="1" height="30" fill="#c0c0c0"/>
<rect x="539" y="745" width="1" height="29" fill="#c0c0c0"/>
<rect x="543" y="745" width="1" height="32" fill="#c0c0c0"/>
<rect x="547" y="745" width="1" height="34" fill="#c0c0c0"/>
<rect x="551" y="745" width="1" height="37" fill="#c0c0c0"/>
<rect x="555" y="745" width="1" height="40" fill="#c0c0c0"/>
<rect x="559" y="745" width="1" height="44" fill="#c0c0c0"/>
<rect x="563" y="745" width="1" height="48" fill="#c0c0c0"/>
<rect x="567" y="745" width="1" height="47" fill="#c0c0c0"/>
<rect x="571" y="745" width="1" height="48" fill="#c0c0c0"/>
<rect x="575" y="745" width="1" height="48" fill="#c0c0c0"/>
<rect x="579" y="745" width="1" height="46" fill="#c0c0c0"/>
<rect x="583" y="745" width="1" height="43" fill="#c0c0c0"/>
<rect x="587" y="745" width="1" height="39" fill="#c0c0c0"/>
<rect x="591" y="745" width="1" height="36" fill="#c0c0c0"/>
<rect x="595" y="745" width="1" height="33" fill="#c0c0c0"/>
<rect x="599" y="745" width="1" height="31" fill="#c0c0c0"/>
<rect x="603" y="745" width="1" height="29" fill="#c0c0c0"/>
<rect x="607" y="745" width="1" height="26" fill="#c0c0c0"/>
<rect x="611" y="745" width="1" height="23" fill="#c0c0c0"/>
<rect x="615" y="745" width="1" height="18" fill="#c0c0c0"/>
<rect x="619" y="745" width="1" height="13" fill="#c0c0c0"/>
<rect x="623" y="745" width="1" height="9" fill="#c0c0c0"/>
<rect x="627" y="745" width="1" height="5" fill="#c0c0c0"/>
<rect x="631" y="745" width="1" height="1" fill="#c0c0c0"/>
<rect x="635" y="742" width="1" height="3" fill="#c0c0c0"/>
<rect x="639" y="742" width="1" height="3" fill="#c0c0c0"/>
<rect x="643" y="743" width="1" height="2" fill="#c0c0c0"/>
<rect x="647" y="745" width="1" height="1" fill="#c0c0c0"/>
<rect x="651" y="745" width="1" height="3" fill="#c0c0c0"/>
<rect x="655" y="745" width="1" height="9" fill="#c0c0c0"/>
<rect x="659" y="745" width="1" height="14" fill="#c0c0c0"/>
<rect x="663" y="745" width="1" height="18" fill="#c0c0c0"/>
<rect x="667" y="745" width="1" height="20" fill="#c0c0c0"/>
<rect x="671" y="745" width="1" height="22" fill="#c0c0c0"/>
<rect x="675" y="745" width="1" height="19" fill="#c0c0c0"/>
<rect x="679" y="745" width="1" height="17" fill="#c0c0c0"/>
<rect x="683" y="745" width="1" height="14" fill="#c0c0c0"/>
<rect x="687" y="745" width="1" height="9" fill="#c0c0c0"/>
<rect x="691" y="745" width="1" height="4" fill="#c0c0c0"/>
<rect x="695" y="744" width="1" height="1" fill="#c0c0c0"/>
<rect x="699" y="740" width="1" height="5" fill="#c0c0c0"/>
<rect x="703" y="735" width="1" height="10" fill="#c0c0c0"/>
<rect x="707" y="731" width="1" height="14" fill="#c0c0c0"/>
<rect x="711" y="732" width="1" height="13" fill="#c0c0c0"/>
<rect x="715" y="731" width="1" height="14" fill="#c0c0c0"/>
<rect x="719" y="728" width="1" height="17" fill="#c0c0c0"/>
<rect x="723" y="726" width="1" height="19" fill="#c0c0c0"/>
<rect x="727" y="729" width="1" height="16" fill="#c0c0c0"/>
<rect x="731" y="730" width="1" height="15" fill="#c0c0c0"/>
<rect x="735" y="732" width="1" height="13" fill="#c0c0c0"/>
<rect x="739" y="737" width="1" height="8" fill="#c0c0c0"/>
<rect x="743" y="738" width="1" height="7" fill="#c0c0c0"/>
<rect x="747" y="738" width="1" height="7" fill="#c0c0c0"/>
<rect x="751" y="736" width="1" height="9" fill="#c0c0c0"/>
<rect x="755" y="733" width="1" height="12" fill="#c0c0c0"/>
<rect x="759" y="730" width="1" height="15" fill="#c0c0c0"/>
<rect x="763" y="729" width="1" height="16" fill="#c0c0c0"/>
<rect x="767" y="728" width="1" height="17" fill="#c0c0c0"/>
<rect x="771" y="726" width="1" height="19" fill="#c0c0c0"/>
<rect x="775" y="725" width="1" height="20" fill="#c0c0c0"/>
<rect x="779" y="724" width="1" height="21" fill="#c0c0c0"/>
<rect x="783" y="724" width="1" height="21" fill="#c0c0c0"/>
<rect x="787" y="727" width="1" height="18" fill="#c0c0c0"/>
<rect x="791" y="731" width="1" height="14" fill="#c0c0c0"/>
<rect x="795" y="737" width="1" height="8" fill="#c0c0c0"/>
<rect x="799" y="744" width="1" height="1" fill="#c0c0c0"/>
<rect x="803" y="745" width="1" height="5" fill="#c0c0c0"/>
<rect x="807" y="745" width="1" height="10" fill="#c0c0c0"/>
<rect x="811" y="745" width="1" height="17" fill="#c0c0c0"/>
<rect x="815" y="745" width="1" height="20" fill="#c0c0c0"/>
<rect x="819" y="745" width="1" height="25" fill="#c0c0c0"/>
<rect x="823" y="745" width="1" height="32" fill="#c0c0c0"/>
<rect x="827" y="745" width="1" height="38" fill="#c0c0c0"/>
<rect x="831" y="745" width="1" height="44" fill="#c0c0c0"/>
<rect x="835" y="745" width="1" height="49" fill="#c0c0c0"/>
<rect x="839" y="745" width="1" height="53" fill="#c0c0c0"/>
<rect x="843" y="745" width="1" height="51" fill="#c0c0c0"/>
<rect x="847" y="745" width="1" height="51" fill="#c0c0c0"/>
<rect x="851" y="745" width="1" height="50" fill="#c0c0c0"/>
<rect x="855" y="745" width="1" height="51" fill="#c0c0c0"/>
<rect x="859" y="745" width="1" height="49" fill="#c0c0c0"/>
<rect x="863" y="745" width="1" height="50" fill="#c0c0c0"/>
<rect x="867" y="745" width="1" height="48" fill="#c0c0c0"/>
<rect x="871" y="745" width="1" height="46" fill="#c0c0c0"/>
<rect x="875" y="745" width="1" height="43" fill="#c0c0c0"/>
<rect x="879" y="745" width="1" height="41" fill="#c0c0c0"/>
<rect x="883" y="745" width="1" height="39" fill="#c0c0c0"/>
<rect x="887" y="745" width="1" height="36" fill="#c0c0c0"/>
<rect x="891" y="745" width="1" height="35" fill="#c0c0c0"/>
<rect x="895" y="745" width="1" height="36" fill="#c0c0c0"/>
<rect x="899" y="745" width="1" height="35" fill="#c0c0c0"/>
<rect x="903" y="745" width="1" height="32" fill="#c0c0c0"/>
<rect x="907" y="745" width="1" height="31" fill="#c0c0c0"/>
<rect x="911" y="745" width="1" height="31" fill="#c0c0c0"/>
<rect x="915" y="745" width="1" height="31" fill="#c0c0c0"/>
<rect x="919" y="745" width="1" height="31" fill="#c0c0c0"/>
<rect x="923" y="745" width="1" height="31" fill="#c0c0c0"/>
<rect x="927" y="745" width="1" height="32" fill="#c0c0c0"/>
<rect x="931" y="745" width="1" height="29" fill="#c0c0c0"/>
<rect x="935" y="745" width="1" height="23" fill="#c0c0c0"/>
<rect x="939" y="745" width="1" height="16" fill="#c0c0c0"/>
<rect x="943" y="745" width="1" height="8" fill="#c0c0c0"/>
<rect x="947" y="745" width="1" height="2" fill="#c0c0c0"/>
<rect x="951" y="741" width="1" height="4" fill="#c0c0c0"/>
<rect x="955" y="736" width="1" height="9" fill="#c0c0c0"/>
<rect x="959" y="733" width="1" height="12" fill="#c0c0c0"/>
<rect x="963" y="730" width="1" height="15" fill="#c0c0c0"/>
<rect x="967" y="727" width="1" height="18" fill="#c0c0c0"/>
<rect x="971" y="725" width="1" height="20" fill="#c0c0c0"/>
<rect x="975" y="725" width="1" height="20" fill="#c0c0c0"/>
<rect x="979" y="726" width="1" height="19" fill="#c0c0c0"/>
<rect x="983" y="727" width="1" height="18" fill="#c0c0c0"/>
<rect x="987" y="733" width="1" height="12" fill="#c0c0c0"/>
<rect x="991" y="739" width="1" height="6" fill="#c0c0c0"/>
<rect x="995" y="744" width="1" height="1" fill="#c0c0c0"/>
<rect x="999" y="745" width="1" height="3" fill="#c0c0c0"/>
<rect x="1003" y="745" width="1" height="4" fill="#c0c0c0"/>
<rect x="1007" y="745" width="1" height="8" fill="#c0c0c0"/>
<rect x="1011" y="745" width="1" height="11" fill="#c0c0c0"/>
<rect x="1015" y="745" width="1" height="12" fill="#c0c0c0"/>
<rect x="1019" y="745" width="1" height="14" fill="#c0c0c0"/>
<rect x="1023" y="745" width="1" height="15" fill="#c0c0c0"/>
<rect x="1027" y="745" width="1" height="20" fill="#c0c0c0"/>
<rect x="1031" y="745" width="1" height="24" fill="#c0c0c0"/>
<rect x="1035" y="745" width="1" height="22" fill="#c0c0c0"/>
<rect x="1039" y="745" width="1" height="20" fill="#c0c0c0"/>
<rect x="1043" y="745" width="1" height="17" fill="#c0c0c0"/>
<rect x="1047" y="745" width="1" height="17" fill="#c0c0c0"/>
<rect x="1051" y="745" width="1" height="18" fill="#c0c0c0"/>
<rect x="1055" y="745" width="1" height="18" fill="#c0c0c0"/>
<rect x="1059" y="745" width="1" height="15" fill="#c0c0c0"/>
<rect x="1063" y="745" width="1" height="10" fill="#c0c0c0"/>
<rect x="1067" y="745" width="1" height="6" fill="#c0c0c0"/>
<rect x="1071" y="745" width="1" height="6" fill="#c0c0c0"/>
<rect x="1075" y="745" width="1" height="6" fill="#c0c0c0"/>
<rect x="1079" y="745" width="1" height="6" fill="#c0c0c0"/>
<rect x="1083" y="745" width="1" height="1" fill="#c0c0c0"/>
<rect x="1087" y="741" width="1" height="4" fill="#c0c0c0"/>
<rect x="1091" y="736" width="1" height="9" fill="#c0c0c0"/>
<rect x="1095" y="731" width="1" height="14" fill="#c0c0c0"/>
<rect x="1099" y="728" width="1" height="17" fill="#c0c0c0"/>
<rect x="1103" y="726" width="1" height="19" fill="#c0c0c0"/>
<rect x="1107" y="728" width="1" height="17" fill="#c0c0c0"/>
<rect x="1111" y="728" width="1" height="17" fill="#c0c0c0"/>
<rect x="1115" y="730" width="1" height="15" fill="#c0c0c0"/>
<rect x="1119" y="729" width="1" height="16" fill="#c0c0c0"/>
<rect x="1123" y="728" width="1" height="17" fill="#c0c0c0"/>
<rect x="1127" y="726" width="1" height="19" fill="#c0c0c0"/>
<rect x="1131" y="723" width="1" height="22" fill="#c0c0c0"/>
<rect x="1135" y="719" width="1" height="26" fill="#c0c0c0"/>
<rect x="1139" y="717" width="1" height="28" fill="#c0c0c0"/>
<rect x="1143" y="716" width="1" height="29" fill="#c0c0c0"/>
<rect x="1147" y="717" width="1" height="28" fill="#c0c0c0"/>
<rect x="1151" y="717" width="1" height="28" fill="#c0c0c0"/>
<rect x="1155" y="718" width="1" height="27" fill="#c0c0c0"/>
<rect x="1159" y="722" width="1" height="23" fill="#c0c0c0"/>
<rect x="1163" y="725" width="1" height="20" fill="#c0c0c0"/>
<rect x="1167" y="728" width="1" height="17" fill="#c0c0c0"/>
<rect x="1171" y="731" width="1" height="14" fill="#c0c0c0"/>
<rect x="1175" y="735" width="1" height="10" fill="#c0c0c0"/>
<rect x="1179" y="742" width="1" height="3" fill="#c0c0c0"/>
<rect x="1183" y="744" width="1" height="1" fill="#c0c0c0"/>
<rect x="1187" y="745" width="1" height="1" fill="#c0c0c0"/>
<rect x="1191" y="745" width="1" height="3" fill="#c0c0c0"/>
<rect x="1195" y="745" width="1" height="3" fill="#c0c0c0"/>
<rect x="1199" y="745" width="1" height="5" fill="#c0c0c0"/>
<rect x="1203" y="745" width="1" height="7" fill="#c0c0c0"/>
<rect x="1207" y="745" width="1" height="9" fill="#c0c0c0"/>
<rect x="1211" y="745" width="1" height="11" fill="#c0c0c0"/>
<rect x="1215" y="745" width="1" height="13" fill="#c0c0c0"/>
<rect x="1219" y="745" width="1" height="14" fill="#c0c0c0"/>
<rect x="1223" y="745" width="1" height="15" fill="#c0c0c0"/>
<rect x="1227" y="745" width="1" height="16" fill="#c0c0c0"/>
<rect x="1231" y="745" width="1" height="17" fill="#c0c0c0"/>
<rect x="1235" y="745" width="1" height="18" fill="#c0c0c0"/>
<rect x="1239" y="745" width="1" height="14" fill="#c0c0c0"/>
<rect x="1243" y="745" width="1" height="10" fill="#c0c0c0"/>
<rect x="1247" y="745" width="1" height="5" fill="#c0c0c0"/>
<rect x="1251" y="745" width="1" height="3" fill="#c0c0c0"/>
<rect x="1255" y="745" width="1" height="1" fill="#c0c0c0"/>
<rect x="1259" y="744" width="1" height="1" fill="#c0c0c0"/>
<rect x="1263" y="743" width="1" height="2" fill="#c0c0c0"/>
<rect x="1267" y="744" width="1" height="1" fill="#c0c0c0"/>
<rect x="1271" y="741" width="1" height="4" fill="#c0c0c0"/>
<rect x="1275" y="736" width="1" height="9" fill="#c0c0c0"/>
<rect x="1279" y="733" width="1" height="12" fill="#c0c0c0"/>
<rect x="1283" y="732" width="1" height="13" fill="#c0c0c0"/>
<rect x="1287" y="729" width="1" height="16" fill="#c0c0c0"/>
<rect x="1291" y="730" width="1" height="15" fill="#c0c0c0"/>
<rect x="1295" y="730" width="1" height="15" fill="#c0c0c0"/>
<rect x="1299" y="730" width="1" height="15" fill="#c0c0c0"/>
<rect x="1303" y="727" width="1" height="18" fill="#c0c0c0"/>
<rect x="1307" y="726" width="1" height="19" fill="#c0c0c0"/>
<rect x="1311" y="724" width="1" height="21" fill="#c0c0c0"/>
<rect x="1315" y="721" width="1" height="24" fill="#c0c0c0"/>
<rect x="1319" y="720" width="1" height="25" fill="#c0c0c0"/>
<rect x="1323" y="719" width="1" height="26" fill="#c0c0c0"/>
<rect x="1327" y="714" width="1" height="31" fill="#c0c0c0"/>
<rect x="1331" y="712" width="1" height="33" fill="#c0c0c0"/>
<rect x="1335" y="708" width="1" height="37" fill="#c0c0c0"/>
<rect x="1339" y="706" width="1" height="39" fill="#c0c0c0"/>
<path d="M3,723h1v1h-1zm1,0h1v1h-1zm1,0h1v1h-1zm4,1h1v1h-1zm1,0h1v1h-1zm1,0h1v1h-1zm4,1h1v1h-1zm1,1h1v1h-1zm1,1h1v1h-1zm4,3h1v1h-1zm1,0h1v1h-1zm1,1h1v1h-1zm4,3h1v1h-1zm1,1h1v1h-1zm1,1h1v1h-1zm4,4h1v1h-1zm1,1h1v1h-1zm1,1h1v1h-1zm4,3h1v1h-1zm1,1h1v1h-1zm1,1h1v1h-1zm4,3h1v1h-1zm1,0h1v1h-1zm1,1h1v1h-1zm4,3h1v1h-1zm1,1h1v1h-1zm1,1h1v1h-1zm4,3h1v1h-1zm1,0h1v1h-1zm1,1h1v1h-1zm3,4h1v1h-1zm1,1h1v1h-1zm1,1h1v1h-1zm4,4h1v1h-1zm1,1h1v1h-1zm1,1h1v1h-1zm4,4h1v1h-1zm1,1h1v1h-1zm1,1h1v1h-1zm4,4h1v1h-1zm1,1h1v1h-1zm1,1h1v1h-1zm4,3h1v1h-1zm1,1h1v1h-1zm1,1h1v1h-1zm4,2h1v1h-1zm1,0h1v1h-1zm1,1h1v1h-1zm4,1h1v1h-1zm1,0h1v1h-1zm1,0h1v1h-1zm4,0h1v1h-1zm1,-1h1v1h-1zm1,0h1v1h-1zm4,-2h1v1h-1zm1,-1h1v1h-1zm1,-1h1v1h-1zm4,-3h1v1h-1zm1,-1h1v1h-1zm1,-1h1v1h-1zm3,-4h1v1h-1zm1,-1h1v1h-1zm1,-1h1v1h-1zm3,-4h1v1h-1zm1,-1h1v1h-1zm1,-1h1v1h-1zm2,-5h1v2h-1zm1,-1h1v1h-1zm2,-4h1v1h-1zm1,-2h1v2h-1zm3,-4h1v1h-1zm1,-2h1v2h-1zm3,-4h1v1h-1zm1,-2h1v2h-1zm4,-4h1v1h-1zm1,-1h1v1h-1zm1,-1h1v1h-1zm4,-4h1v1h-1zm1,-1h1v1h-1zm1,-1h1v1h-1zm4,-3h1v1h-1zm1,0h1v1h-1zm1,0h1v1h-1zm4,-1h1v1h-1zm1,0h1v1h-1zm1,0h1v1h-1zm4,1h1v1h-1zm1,0h1v1h-1zm1,1h1v1h-1zm4,1h1v1h-1zm1,1h1v1h-1zm1,0h1v1h-1zm4,1h1v1h-1zm1,0h1v1h-1zm1,0h1v1h-1zm4,1h1v1h-1zm1,0h1v1h-1zm1,0h1v1h-1zm4,0h1v1h-1zm1,0h1v1h-1zm1,0h1v1h-1zm4,-2h1v1h-1zm1,0h1v1h-1zm1,-1h1v1h-1zm4,-2h1v1h-1zm1,-1h1v1h-1zm1,-1h1v1h-1zm4,-1h1v1h-1zm1,-1h1v1h-1zm1,0h1v1h-1zm4,0h1v1h-1zm1,0h1v1h-1zm1,0h1v1h-1zm4,1h1v1h-1zm1,0h1v1h-1zm1,1h1v1h-1zm4,2h1v1h-1zm1,1h1v1h-1zm1,1h1v1h-1zm4,4h1v1h-1zm1,1h1v1h-1zm1,1h1v1h-1zm3,4h1v1h-1zm1,1h1v1h-1zm1,1h1v1h-1zm4,4h1v1h-1zm1,1h1v1h-1zm1,1h1v1h-1zm4,3h1v1h-1zm1,1h1v1h-1zm1,0h1v1h-1zm4,1h1v1h-1zm1,0h1v1h-1zm1,0h1v1h-1zm4,0h1v1h-1zm1,0h1v1h-1zm1,0h1v1h-1zm4,-1h1v1h-1zm1,0h1v1h-1zm1,-1h1v1h-1zm4,-1h1v1h-1zm1,0h1v1h-1zm1,0h1v1h-1zm4,-2h1v1h-1zm1,0h1v1h-1zm1,-1h1v1h-1zm4,-1h1v1h-1zm1,0h1v1h-1zm1,0h1v1h-1zm4,-1h1v1h-1zm1,0h1v1h-1zm1,1h1v1h-1zm4,0h1v1h-1zm1,0h1v1h-1zm1,0h1v1h-1zm4,1h1v1h-1zm1,0h1v1h-1zm1,1h1v1h-1zm4,1h1v1h-1zm1,1h1v1h-1zm1,0h1v1h-1zm4,3h1v1h-1zm1,1h1v1h-1zm1,1h1v1h-1zm4,2h1v1h-1zm1,1h1v1h-1zm1,0h1v1h-1zm4,2h1v1h-1zm1,0h1v1h-1zm1,1h1v1h-1zm4,1h1v1h-1zm1,0h1v1h-1zm1,0h1v1h-1zm4,0h1v1h-1zm1,0h1v1h-1zm1,-1h1v1h-1zm4,-1h1v1h-1zm1,0h1v1h-1zm1,0h1v1h-1zm4,-2h1v1h-1zm1,-1h1v1h-1zm1,0h1v1h-1zm4,-2h1v1h-1zm1,-1h1v1h-1zm1,0h1v1h-1zm4,-2h1v1h-1zm1,0h1v1h-1zm1,-1h1v1h-1zm4,-1h1v1h-1zm1,-1h1v1h-1zm1,0h1v1h-1zm4,-2h1v1h-1zm1,0h1v1h-1zm1,-1h1v1h-1zm4,-1h1v1h-1zm1,0h1v1h-1zm1,0h1v1h-1zm4,-1h1v1h-1zm1,0h1v1h-1zm1,-1h1v1h-1zm4,-1h1v1h-1zm1,0h1v1h-1zm1,0h1v1h-1zm4,0h1v1h-1zm1,0h1v1h-1zm1,-1h1v1h-1zm4,0h1v1h-1zm1,0h1v1h-1zm1,0h1v1h-1zm4,0h1v1h-1zm1,0h1v1h-1zm1,-1h1v1h-1zm4,0h1v1h-1zm1,0h1v1h-1zm1,0h1v1h-1zm4,-1h1v1h-1zm1,0h1v1h-1zm1,-1h1v1h-1zm4,-1h1v1h-1zm1,0h1v1h-1zm1,0h1v1h-1zm4,-2h1v1h-1zm1,0h1v1h-1zm1,-1h1v1h-1zm4,-1h1v1h-1zm1,-1h1v1h-1zm1,0h1v1h-1zm4,-2h1v1h-1zm1,-1h1v1h-1zm1,0h1v1h-1zm4,-2h1v1h-1zm1,0h1v1h-1zm1,0h1v1h-1zm4,-2h1v1h-1zm1,0h1v1h-1zm1,0h1v1h-1zm4,-1h1v1h-1zm1,0h1v1h-1zm1,0h1v1h-1zm4,1h1v1h-1zm1,1h1v1h-1zm1,0h1v1h-1zm4,3h1v1h-1zm1,0h1v1h-1zm1,1h1v1h-1zm4,3h1v1h-1zm1,1h1v1h-1zm1,1h1v1h-1zm4,4h1v1h-1zm1,1h1v1h-1zm1,1h1v1h-1zm4,4h1v1h-1zm1,1h1v1h-1zm1,1h1v1h-1zm4,4h1v1h-1zm1,1h1v1h-1zm1,1h1v1h-1zm4,4h1v1h-1zm1,1h1v1h-1zm1,1h1v1h-1zm4,2h1v1h-1zm1,1h1v1h-1zm1,0h1v1h-1zm4,1h1v1h-1zm1,1h1v1h-1zm1,0h1v1h-1zm4,2h1v1h-1zm1,0h1v1h-1zm1,0h1v1h-1zm4,1h1v1h-1zm1,0h1v1h-1zm1,1h1v1h-1zm4,1h1v1h-1zm1,0h1v1h-1zm1,0h1v1h-1zm4,1h1v1h-1zm1,0h1v1h-1zm1,1h1v1h-1zm4,1h1v1h-1zm1,1h1v1h-1zm1,0h1v1h-1zm4,2h1v1h-1zm1,1h1v1h-1zm1,0h1v1h-1zm4,2h1v1h-1zm1,0h1v1h-1zm1,0h1v1h-1zm4,2h1v1h-1zm1,1h1v1h-1zm1,0h1v1h-1zm4,2h1v1h-1zm1,1h1v1h-1zm1,0h1v1h-1zm4,1h1v1h-1zm1,0h1v1h-1zm1,0h1v1h-1zm4,0h1v1h-1zm1,0h1v1h-1zm1,0h1v1h-1zm4,-2h1v1h-1zm1,0h1v1h-1zm1,-1h1v1h-1zm4,-1h1v1h-1zm1,-1h1v1h-1zm1,0h1v1h-1zm4,-3h1v1h-1zm1,-1h1v1h-1zm1,-1h1v1h-1zm4,-3h1v1h-1zm1,0h1v1h-1zm1,-1h1v1h-1zm4,-3h1v1h-1zm1,-1h1v1h-1zm1,-1h1v1h-1zm4,-3h1v1h-1zm1,-1h1v1h-1zm1,-1h1v1h-1zm4,-3h1v1h-1zm1,-1h1v1h-1zm1,-1h1v1h-1zm4,-4h1v1h-1zm1,-1h1v1h-1zm1,-1h1v1h-1zm4,-3h1v1h-1zm1,-1h1v1h-1zm1,0h1v1h-1zm4,-2h1v1h-1zm1,-1h1v1h-1zm1,0h1v1h-1zm4,0h1v1h-1zm1,0h1v1h-1zm1,0h1v1h-1zm4,1h1v1h-1zm1,1h1v1h-1zm1,0h1v1h-1zm4,2h1v1h-1zm1,1h1v1h-1zm1,1h1v1h-1zm4,2h1v1h-1zm1,1h1v1h-1zm1,0h1v1h-1zm4,2h1v1h-1zm1,1h1v1h-1zm1,0h1v1h-1zm4,1h1v1h-1zm1,0h1v1h-1zm1,0h1v1h-1zm4,0h1v1h-1zm1,-1h1v1h-1zm1,0h1v1h-1zm4,-2h1v1h-1zm1,-1h1v1h-1zm1,0h1v1h-1zm4,-4h1v1h-1zm1,-1h1v1h-1zm1,-1h1v1h-1zm4,-4h1v1h-1zm1,0h1v1h-1zm1,-1h1v1h-1zm4,-4h1v1h-1zm1,-1h1v1h-1zm1,-1h1v1h-1zm4,-3h1v1h-1zm1,0h1v1h-1zm1,-1h1v1h-1zm4,-3h1v1h-1zm1,0h1v1h-1zm1,-1h1v1h-1zm4,-1h1v1h-1zm1,0h1v1h-1zm1,0h1v1h-1zm4,0h1v1h-1zm1,0h1v1h-1zm1,1h1v1h-1zm4,1h1v1h-1zm1,0h1v1h-1zm1,0h1v1h-1zm4,0h1v1h-1zm1,0h1v1h-1zm1,1h1v1h-1zm4,0h1v1h-1zm1,0h1v1h-1zm1,0h1v1h-1zm4,0h1v1h-1zm1,0h1v1h-1zm1,0h1v1h-1zm4,-1h1v1h-1zm1,0h1v1h-1zm1,0h1v1h-1zm4,-1h1v1h-1zm1,-1h1v1h-1zm1,0h1v1h-1zm4,-2h1v1h-1zm1,0h1v1h-1zm1,0h1v1h-1zm4,-1h1v1h-1zm1,0h1v1h-1zm1,0h1v1h-1zm4,0h1v1h-1zm1,0h1v1h-1zm1,0h1v1h-1zm4,2h1v1h-1zm1,1h1v1h-1zm1,0h1v1h-1zm4,3h1v1h-1zm1,1h1v1h-1zm1,1h1v1h-1zm4,4h1v1h-1zm1,1h1v1h-1zm1,1h1v1h-1zm4,4h1v2h-1zm1,2h1v1h-1zm3,4h1v1h-1zm1,1h1v2h-1zm3,5h1v1h-1zm1,1h1v2h-1zm3,5h1v1h-1zm1,1h1v2h-1zm3,5h1v1h-1zm1,1h1v1h-1zm1,1h1v1h-1zm3,4h1v1h-1zm1,1h1v1h-1zm1,1h1v1h-1zm3,4h1v1h-1zm1,1h1v1h-1zm1,1h1v1h-1zm4,4h1v1h-1zm1,0h1v1h-1zm1,1h1v1h-1zm4,3h1v1h-1zm1,1h1v1h-1zm1,0h1v1h-1zm4,2h1v1h-1zm1,0h1v1h-1zm1,0h1v1h-1zm4,1h1v1h-1zm1,0h1v1h-1zm1,-1h1v1h-1zm4,-1h1v1h-1zm1,0h1v1h-1zm1,0h1v1h-1zm4,-1h1v1h-1zm1,0h1v1h-1zm1,-1h1v1h-1zm4,-1h1v1h-1zm1,-1h1v1h-1zm1,0h1v1h-1zm4,-1h1v1h-1zm1,-1h1v1h-1zm1,0h1v1h-1zm4,-2h1v1h-1zm1,-1h1v1h-1zm1,0h1v1h-1zm4,-1h1v1h-1zm1,-1h1v1h-1zm1,0h1v1h-1zm4,-2h1v1h-1zm1,0h1v1h-1zm1,0h1v1h-1zm4,-1h1v1h-1zm1,0h1v1h-1zm1,-1h1v1h-1zm4,-1h1v1h-1zm1,0h1v1h-1zm1,0h1v1h-1zm4,0h1v1h-1zm1,0h1v1h-1zm1,-1h1v1h-1zm4,-1h1v1h-1zm1,0h1v1h-1zm1,0h1v1h-1zm4,-2h1v1h-1zm1,-1h1v1h-1zm1,-1h1v1h-1zm4,-3h1v1h-1zm1,0h1v1h-1zm1,-1h1v1h-1zm4,-4h1v1h-1zm1,-1h1v1h-1zm1,-1h1v1h-1zm4,-5h1v2h-1zm1,-1h1v1h-1zm3,-4h1v1h-1zm1,-1h1v1h-1zm1,-1h1v1h-1zm3,-4h1v1h-1zm1,-1h1v1h-1zm1,-1h1v1h-1zm3,-4h1v1h-1zm1,-1h1v1h-1zm1,-1h1v1h-1zm4,-4h1v1h-1zm1,0h1v1h-1zm1,-1h1v1h-1zm4,-2h1v1h-1zm1,0h1v1h-1zm1,-1h1v1h-1zm4,0h1v1h-1zm1,0h1v1h-1zm1,0h1v1h-1zm4,1h1v1h-1zm1,1h1v1h-1zm1,0h1v1h-1zm4,3h1v1h-1zm1,0h1v1h-1zm1,1h1v1h-1zm4,3h1v1h-1zm1,1h1v1h-1zm1,1h1v1h-1zm4,3h1v1h-1zm1,1h1v1h-1zm1,1h1v1h-1zm4,3h1v1h-1zm1,1h1v1h-1zm1,1h1v1h-1zm4,3h1v1h-1zm1,0h1v1h-1zm1,1h1v1h-1zm4,3h1v1h-1zm1,1h1v1h-1zm1,0h1v1h-1zm4,2h1v1h-1zm1,1h1v1h-1zm1,0h1v1h-1zm4,1h1v1h-1zm1,0h1v1h-1zm1,0h1v1h-1zm4,1h1v1h-1zm1,0h1v1h-1zm1,0h1v1h-1zm4,1h1v1h-1zm1,0h1v1h-1zm1,0h1v1h-1zm4,-1h1v1h-1zm1,-1h1v1h-1zm1,0h1v1h-1zm4,-1h1v1h-1zm1,-1h1v1h-1zm1,0h1v1h-1zm4,-2h1v1h-1zm1,-1h1v1h-1zm1,0h1v1h-1zm4,-1h1v1h-1zm1,-1h1v1h-1zm1,0h1v1h-1zm4,-2h1v1h-1zm1,-1h1v1h-1zm1,0h1v1h-1zm4,-3h1v1h-1zm1,-1h1v1h-1zm1,-1h1v1h-1zm4,-4h1v1h-1zm1,0h1v1h-1zm1,-1h1v1h-1zm4,-2h1v1h-1zm1,-1h1v1h-1zm1,-1h1v1h-1zm4,-2h1v1h-1zm1,-1h1v1h-1zm1,0h1v1h-1zm4,-3h1v1h-1zm1,-1h1v1h-1zm1,0h1v1h-1zm4,-2h1v1h-1zm1,0h1v1h-1zm1,0h1v1h-1zm4,-1h1v1h-1zm1,0h1v1h-1zm1,-1h1v1h-1zm4,-1h1v1h-1zm1,0h1v1h-1zm1,0h1v1h-1zm4,-1h1v1h-1zm1,0h1v1h-1zm1,-1h1v1h-1zm4,-1h1v1h-1zm1,-1h1v1h-1zm1,0h1v1h-1zm4,-1h1v1h-1zm1,0h1v1h-1zm1,-1h1v1h-1zm4,-1h1v1h-1zm1,0h1v1h-1zm1,0h1v1h-1zm4,0h1v1h-1zm1,0h1v1h-1zm1,1h1v1h-1zm4,1h1v1h-1zm1,0h1v1h-1zm1,0h1v1h-1zm4,2h1v1h-1zm1,1h1v1h-1zm1,1h1v1h-1zm4,3h1v1h-1zm1,0h1v1h-1zm1,1h1v1h-1zm4,3h1v1h-1zm1,1h1v1h-1zm1,1h1v1h-1zm4,3h1v1h-1zm1,0h1v1h-1zm1,1h1v1h-1zm4,3h1v1h-1zm1,1h1v1h-1zm1,1h1v1h-1zm4,2h1v1h-1zm1,1h1v1h-1zm1,0h1v1h-1zm4,3h1v1h-1zm1,0h1v1h-1zm1,1h1v1h-1zm4,1h1v1h-1zm1,1h1v1h-1zm1,0h1v1h-1zm4,1h1v1h-1zm1,1h1v1h-1zm1,0h1v1h-1zm4,2h1v1h-1zm1,1h1v1h-1zm1,0h1v1h-1zm4,1h1v1h-1zm1,0h1v1h-1zm1,1h1v1h-1zm4,0h1v1h-1zm1,0h1v1h-1zm1,0h1v1h-1zm4,-1h1v1h-1zm1,0h1v1h-1zm1,-1h1v1h-1zm4,-1h1v1h-1zm1,0h1v1h-1zm1,0h1v1h-1zm4,-2h1v1h-1zm1,-1h1v1h-1zm1,0h1v1h-1zm4,-2h1v1h-1zm1,-1h1v1h-1zm1,0h1v1h-1zm4,-3h1v1h-1zm1,-1h1v1h-1zm1,0h1v1h-1zm4,-3h1v1h-1zm1,0h1v1h-1zm1,-1h1v1h-1zm4,-2h1v1h-1zm1,-1h1v1h-1zm1,0h1v1h-1zm4,-2h1v1h-1zm1,-1h1v1h-1zm1,0h1v1h-1zm4,-1h1v1h-1zm1,-1h1v1h-1zm1,0h1v1h-1zm4,-2h1v1h-1zm1,0h1v1h-1zm1,0h1v1h-1zm4,-2h1v1h-1zm1,-1h1v1h-1zm1,0h1v1h-1zm4,-2h1v1h-1zm1,0h1v1h-1zm1,0h1v1h-1zm4,-1h1v1h-1zm1,0h1v1h-1zm1,-1h1v1h-1zm4,-1h1v1h-1zm1,-1h1v1h-1zm1,0h1v1h-1zm4,-2h1v1h-1zm1,-1h1v1h-1zm1,0h1v1h-1zm4,-3h1v1h-1zm1,0h1v1h-1z" fill="#ff0000"/>
</g>
<text x="7" y="713" font-size="10" fill="#000" textLength="148" lengthAdjust="spacingAndGlyphs" stroke="#000" stroke-width="0.15">MACD(12,26,9) 0.004128 0.002957</text>
<rect x="1684" y="702" width="1" height="1" fill="#000"/>
<rect x="1684" y="745" width="1" height="1" fill="#000"/>
<rect x="1684" y="802" width="1" height="1" fill="#000"/>
<text x="1687" y="711" font-size="10" fill="#000" textLength="37.5" lengthAdjust="spacingAndGlyphs" stroke="#000" stroke-width="0.15">0.004616</text>
<text x="1687" y="749" font-size="10" fill="#000" textLength="17.5" lengthAdjust="spacingAndGlyphs" stroke="#000" stroke-width="0.15">0.00</text>
<text x="1687" y="800" font-size="10" fill="#000" textLength="40.5" lengthAdjust="spacingAndGlyphs" stroke="#000" stroke-width="0.15">-0.006126</text>
<rect x="3" y="804" width="1" height="3" fill="#000"/>
<text x="2" y="816" font-size="10" fill="#000" textLength="46.8" lengthAdjust="spacingAndGlyphs" stroke="#000" stroke-width="0.15">6 Dec 2018</text>
<rect x="67" y="804" width="1" height="3" fill="#000"/>
<text x="66" y="816" font-size="10" fill="#000" textLength="51.9" lengthAdjust="spacingAndGlyphs" stroke="#000" stroke-width="0.15">25 Dec 2018</text>
<rect x="131" y="804" width="1" height="3" fill="#000"/>
<text x="130" y="816" font-size="10" fill="#000" textLength="50.4" lengthAdjust="spacingAndGlyphs" stroke="#000" stroke-width="0.15">12 Jan 2019</text>
<rect x="195" y="804" width="1" height="3" fill="#000"/>
<text x="194" y="816" font-size="10" fill="#000" textLength="50.4" lengthAdjust="spacingAndGlyphs" stroke="#000" stroke-width="0.15">31 Jan 2019</text>
<rect x="259" y="804" width="1" height="3" fill="#000"/>
<text x="258" y="816" font-size="10" fill="#000" textLength="51.4" lengthAdjust="spacingAndGlyphs" stroke="#000" stroke-width="0.15">19 Feb 2019</text>
<rect x="323" y="804" width="1" height="3" fill="#000"/>
<text x="322" y="816" font-size="10" fill="#000" textLength="46.3" lengthAdjust="spacingAndGlyphs" stroke="#000" stroke-width="0.15">9 Mar 2019</text>
<rect x="387" y="804" width="1" height="3" fill="#000"/>
<text x="386" y="816" font-size="10" fill="#000" textLength="51.4" lengthAdjust="spacingAndGlyphs" stroke="#000" stroke-width="0.15">28 Mar 2019</text>
<rect x="451" y="804" width="1" height="3" fill="#000"/>
<text x="450" y="816" font-size="10" fill="#000" textLength="49.3" lengthAdjust="spacingAndGlyphs" stroke="#000" stroke-width="0.15">16 Apr 2019</text>
<rect x="515" y="804" width="1" height="3" fill="#000"/>
<text x="514" y="816" font-size="10" fill="#000" textLength="47.8" lengthAdjust="spacingAndGlyphs" stroke="#000" stroke-width="0.15">4 May 2019</text>
<rect x="579" y="804" width="1" height="3" fill="#000"/>
<text x="578" y="816" font-size="10" fill="#000" textLength="52.9" lengthAdjust="spacingAndGlyphs" stroke="#000" stroke-width="0.15">23 May 2019</text>
<rect x="643" y="804" width="1" height="3" fill="#000"/>
<text x="642" y="816" font-size="10" fill="#000" textLength="49.7" lengthAdjust="spacingAndGlyphs" stroke="#000" stroke-width="0.15">11 Jun 2019</text>
<rect x="707" y="804" width="1" height="3" fill="#000"/>
<text x="706" y="816" font-size="10" fill="#000" textLength="50.4" lengthAdjust="spacingAndGlyphs" stroke="#000" stroke-width="0.15">29 Jun 2019</text>
<rect x="771" y="804" width="1" height="3" fill="#000"/>
<text x="770" y="816" font-size="10" fill="#000" textLength="47.3" lengthAdjust="spacingAndGlyphs" stroke="#000" stroke-width="0.15">18 Jul 2019</text>
<rect x="835" y="804" width="1" height="3" fill="#000"/>
<text x="834" y="816" font-size="10" fill="#000" textLength="46.3" lengthAdjust="spacingAndGlyphs" stroke="#000" stroke-width="0.15">6 Aug 2019</text>
<rect x="899" y="804" width="1" height="3" fill="#000"/>
<text x="898" y="816" font-size="10" fill="#000" textLength="51.4" lengthAdjust="spacingAndGlyphs" stroke="#000" stroke-width="0.15">24 Aug 2019</text>
<rect x="963" y="804" width="1" height="3" fill="#000"/>
<text x="962" y="816" font-size="10" fill="#000" textLength="51.9" lengthAdjust="spacingAndGlyphs" stroke="#000" stroke-width="0.15">12 Sep 2019</text>
<rect x="1027" y="804" width="1" height="3" fill="#000"/>
<text x="1026" y="816" font-size="10" fill="#000" textLength="44.8" lengthAdjust="spacingAndGlyphs" stroke="#000" stroke-width="0.15">1 Oct 2019</text>
<rect x="1091" y="804" width="1" height="3" fill="#000"/>
<text x="1090" y="816" font-size="10" fill="#000" textLength="49.8" lengthAdjust="spacingAndGlyphs" stroke="#000" stroke-width="0.15">19 Oct 2019</text>
<rect x="1155" y="804" width="1" height="3" fill="#000"/>
<text x="1154" y="816" font-size="10" fill="#000" textLength="46.8" lengthAdjust="spacingAndGlyphs" stroke="#000" stroke-width="0.15">7 Nov 2019</text>
<rect x="1219" y="804" width="1" height="3" fill="#000"/>
<text x="1218" y="816" font-size="10" fill="#000" textLength="51.9" lengthAdjust="spacingAndGlyphs" stroke="#000" stroke-width="0.15">26 Nov 2019</text>
<rect x="1283" y="804" width="1" height="3" fill="#000"/>
<text x="1282" y="816" font-size="10" fill="#000" textLength="51.9" lengthAdjust="spacingAndGlyphs" stroke="#000" stroke-width="0.15">14 Dec 2019</text>
<rect x="0" y="824" width="1727" height="1" fill="#e3e3e3"/>
<rect x="0" y="826" width="1727" height="1" fill="#000"/>
<rect x="0" y="827" width="1727" height="19" fill="#f0f0f0"/>
<rect x="208" y="825" width="104" height="20" fill="#ffffff"/>
<rect x="208" y="826" width="1" height="19" fill="#000"/>
<rect x="311" y="826" width="1" height="19" fill="#000"/>
<rect x="208" y="844" width="104" height="1" fill="#000"/>
<text x="16.4" y="841" font-size="12.6" fill="#707070" textLength="79.7" lengthAdjust="spacingAndGlyphs">EURUSD,Daily</text>
<text x="118.3" y="841" font-size="12.6" fill="#707070" textLength="78.3" lengthAdjust="spacingAndGlyphs">USDCHF,Daily</text>
<text x="219" y="841" font-size="12.6" fill="#000" textLength="81.6" lengthAdjust="spacingAndGlyphs">AUDUSD,Daily</text>
<text x="323.4" y="841" font-size="12.6" fill="#707070" textLength="80.5" lengthAdjust="spacingAndGlyphs">USDCAD,Daily</text>
<text x="426.25" y="841" font-size="12.6" fill="#707070" textLength="82.7" lengthAdjust="spacingAndGlyphs">USDCNH,Daily</text>
<rect x="108" y="829" width="1" height="13" fill="#808080"/>
<rect x="416" y="829" width="1" height="13" fill="#808080"/>
<rect x="520" y="829" width="1" height="13" fill="#808080"/>
<polygon points="1702,832 1702,838 1699,835" fill="#909090" shape-rendering="auto"/>
<polygon points="1718,832 1718,838 1721,835" fill="#909090" shape-rendering="auto"/>
</svg>
</body></html>
